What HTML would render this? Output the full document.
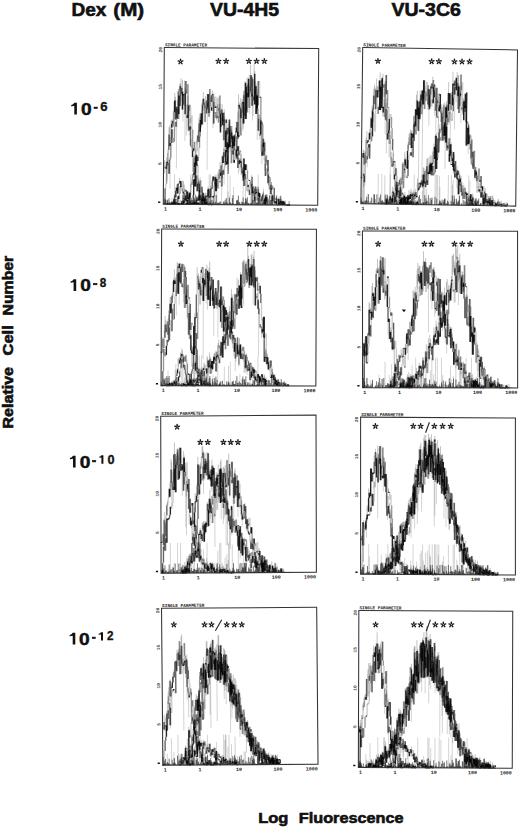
<!DOCTYPE html><html><head><meta charset="utf-8"><style>html,body{margin:0;padding:0;background:#fff;width:520px;height:828px;overflow:hidden}svg{position:absolute;left:0;top:0}</style></head><body>
<svg width="520" height="828" viewBox="0 0 520 828">
<g font-family="Liberation Sans, sans-serif" font-weight="bold" fill="#111" stroke="#111" stroke-width="0.6">
<text x="71.56" y="16.00" font-size="18.5" textLength="34.92" lengthAdjust="spacingAndGlyphs">Dex</text>
<text x="113.37" y="16.00" font-size="18.5" textLength="30.84" lengthAdjust="spacingAndGlyphs">(M)</text>
<text x="210.01" y="16.10" font-size="18.5" textLength="69.11" lengthAdjust="spacingAndGlyphs">VU-4H5</text>
<text x="391.50" y="16.10" font-size="18.5" textLength="69.41" lengthAdjust="spacingAndGlyphs">VU-3C6</text>
<path d="M74.30 102.80H76.90V114.60H74.30V105.87L71.25 106.46V105.04Q73.42 104.57 74.30 102.80Z" stroke="none"/>
<text x="81.03" y="114.60" font-size="16.5" textLength="10.66" lengthAdjust="spacingAndGlyphs" stroke-width="0.45">0</text>
<rect x="94.0" y="107.1" width="3.4" height="1.5"/>
<path d="M73.60 279.20H76.20V291.00H73.60V282.27L70.55 282.86V281.44Q72.72 280.97 73.60 279.20Z" stroke="none"/>
<text x="80.33" y="291.00" font-size="16.5" textLength="10.66" lengthAdjust="spacingAndGlyphs" stroke-width="0.45">0</text>
<rect x="93.4" y="283.3" width="3.6" height="1.5"/>
<path d="M73.00 455.70H75.60V467.50H73.00V458.77L69.95 459.36V457.94Q72.12 457.47 73.00 455.70Z" stroke="none"/>
<text x="79.73" y="467.50" font-size="16.5" textLength="10.66" lengthAdjust="spacingAndGlyphs" stroke-width="0.45">0</text>
<rect x="92.5" y="460.4" width="3.3" height="1.5"/>
<path d="M72.70 632.70H75.30V644.50H72.70V635.77L69.65 636.36V634.94Q71.82 634.47 72.70 632.70Z" stroke="none"/>
<text x="79.03" y="644.50" font-size="16.5" textLength="10.66" lengthAdjust="spacingAndGlyphs" stroke-width="0.45">0</text>
<rect x="92.2" y="637.1" width="3.2" height="1.5"/>
<text x="100.24" y="111.10" font-size="12.2" textLength="7.34" lengthAdjust="spacingAndGlyphs" stroke-width="0.3">6</text>
<text x="99.65" y="287.30" font-size="12.2" textLength="6.52" lengthAdjust="spacingAndGlyphs" stroke-width="0.3">8</text>
<path d="M101.40 455.20H103.40V463.70H101.40V457.41L99.25 457.83V456.81Q100.82 456.47 101.40 455.20Z" stroke="none"/>
<text x="107.49" y="463.90" font-size="12.2" textLength="7.03" lengthAdjust="spacingAndGlyphs" stroke-width="0.3">0</text>
<path d="M101.00 632.30H103.00V640.50H101.00V634.43L98.65 634.84V633.86Q100.30 633.53 101.00 632.30Z" stroke="none"/>
<text x="107.09" y="640.40" font-size="12.2" textLength="6.49" lengthAdjust="spacingAndGlyphs" stroke-width="0.3">2</text>
<text x="258.23" y="823.00" font-size="14.9" textLength="30.18" lengthAdjust="spacingAndGlyphs">Log</text>
<text x="298.84" y="823.00" font-size="14.5" textLength="104.78" lengthAdjust="spacingAndGlyphs">Fluorescence</text>
<g transform="translate(12.6 0) rotate(-90)">
<text x="-428.44" y="0.00" font-size="14.4" textLength="61.41" lengthAdjust="spacingAndGlyphs">Relative</text>
<text x="-355.56" y="0.00" font-size="14.4" textLength="30.30" lengthAdjust="spacingAndGlyphs">Cell</text>
<text x="-315.43" y="0.00" font-size="14.4" textLength="59.64" lengthAdjust="spacingAndGlyphs">Number</text>
</g>
</g>
<g font-family="Liberation Sans, sans-serif" fill="#222">
<path d="M180.50 60.53L180.50 59.23M181.59 61.32L182.83 60.92M181.18 62.61L181.94 63.66M179.82 62.61L179.06 63.66M179.41 61.32L178.17 60.92M218.45 60.03L218.45 58.73M219.55 60.82L220.78 60.42M219.13 62.11L219.89 63.16M217.78 62.11L217.01 63.16M217.36 60.82L216.12 60.42M226.15 60.03L226.15 58.73M227.24 60.82L228.48 60.42M226.82 62.11L227.59 63.16M225.47 62.11L224.71 63.16M225.05 60.82L223.82 60.42M248.85 60.03L248.85 58.73M249.95 60.82L251.18 60.42M249.53 62.11L250.29 63.16M248.18 62.11L247.41 63.16M247.76 60.82L246.52 60.42M256.60 60.03L256.60 58.73M257.69 60.82L258.93 60.42M257.28 62.11L258.04 63.16M255.92 62.11L255.16 63.16M255.51 60.82L254.27 60.42M264.35 60.03L264.35 58.73M265.44 60.82L266.68 60.42M265.02 62.11L265.79 63.16M263.67 62.11L262.91 63.16M263.25 60.82L262.02 60.42M377.95 59.93L377.95 58.62M379.04 60.72L380.28 60.32M378.63 62.01L379.39 63.06M377.27 62.01L376.51 63.06M376.86 60.72L375.62 60.32M431.65 60.33L431.65 59.02M432.75 61.12L433.98 60.72M432.33 62.41L433.09 63.46M430.98 62.41L430.21 63.46M430.56 61.12L429.32 60.72M438.85 60.33L438.85 59.02M439.94 61.12L441.18 60.72M439.52 62.41L440.29 63.46M438.17 62.41L437.41 63.46M437.75 61.12L436.52 60.72M454.45 60.53L454.45 59.23M455.55 61.32L456.78 60.92M455.13 62.61L455.89 63.66M453.78 62.61L453.01 63.66M453.36 61.32L452.12 60.92M462.00 60.53L462.00 59.23M463.09 61.32L464.33 60.92M462.68 62.61L463.44 63.66M461.32 62.61L460.56 63.66M460.91 61.32L459.67 60.92M469.55 60.53L469.55 59.23M470.64 61.32L471.88 60.92M470.22 62.61L470.99 63.66M468.87 62.61L468.11 63.66M468.45 61.32L467.22 60.92M180.90 242.82L180.90 241.53M181.99 243.62L183.23 243.22M181.58 244.91L182.34 245.96M180.22 244.91L179.46 245.96M179.81 243.62L178.57 243.22M219.15 242.82L219.15 241.53M220.25 243.62L221.48 243.22M219.83 244.91L220.59 245.96M218.48 244.91L217.71 245.96M218.06 243.62L216.82 243.22M226.15 242.82L226.15 241.53M227.24 243.62L228.48 243.22M226.82 244.91L227.59 245.96M225.47 244.91L224.71 245.96M225.05 243.62L223.82 243.22M249.25 242.82L249.25 241.53M250.35 243.62L251.58 243.22M249.93 244.91L250.69 245.96M248.58 244.91L247.81 245.96M248.16 243.62L246.92 243.22M256.75 242.82L256.75 241.53M257.84 243.62L259.08 243.22M257.43 244.91L258.19 245.96M256.07 244.91L255.31 245.96M255.66 243.62L254.42 243.22M264.25 242.82L264.25 241.53M265.34 243.62L266.58 243.22M264.92 244.91L265.69 245.96M263.57 244.91L262.81 245.96M263.15 243.62L261.92 243.22M378.15 242.82L378.15 241.53M379.24 243.62L380.48 243.22M378.83 244.91L379.59 245.96M377.47 244.91L376.71 245.96M377.06 243.62L375.82 243.22M424.45 242.82L424.45 241.53M425.55 243.62L426.78 243.22M425.13 244.91L425.89 245.96M423.78 244.91L423.01 245.96M423.36 243.62L422.12 243.22M431.45 242.82L431.45 241.53M432.54 243.62L433.78 243.22M432.12 244.91L432.89 245.96M430.77 244.91L430.01 245.96M430.35 243.62L429.12 243.22M454.45 242.82L454.45 241.53M455.55 243.62L456.78 243.22M455.13 244.91L455.89 245.96M453.78 244.91L453.01 245.96M453.36 243.62L452.12 243.22M462.30 242.82L462.30 241.53M463.39 243.62L464.63 243.22M462.98 244.91L463.74 245.96M461.62 244.91L460.86 245.96M461.21 243.62L459.97 243.22M470.15 242.82L470.15 241.53M471.24 243.62L472.48 243.22M470.82 244.91L471.59 245.96M469.47 244.91L468.71 245.96M469.05 243.62L467.82 243.22M177.10 425.73L177.10 424.43M178.19 426.52L179.43 426.12M177.78 427.81L178.54 428.86M176.42 427.81L175.66 428.86M176.01 426.52L174.77 426.12M200.35 441.13L200.35 439.83M201.45 441.92L202.68 441.52M201.03 443.21L201.79 444.26M199.68 443.21L198.91 444.26M199.26 441.92L198.02 441.52M207.75 441.13L207.75 439.83M208.84 441.92L210.08 441.52M208.42 443.21L209.19 444.26M207.07 443.21L206.31 444.26M206.65 441.92L205.42 441.52M223.45 441.13L223.45 439.83M224.55 441.92L225.78 441.52M224.13 443.21L224.89 444.26M222.78 443.21L222.01 444.26M222.36 441.92L221.12 441.52M230.70 441.13L230.70 439.83M231.79 441.92L233.03 441.52M231.38 443.21L232.14 444.26M230.02 443.21L229.26 444.26M229.61 441.92L228.37 441.52M237.95 441.13L237.95 439.83M239.04 441.92L240.28 441.52M238.62 443.21L239.39 444.26M237.27 443.21L236.51 444.26M236.85 441.92L235.62 441.52M375.40 425.03L375.40 423.73M376.49 425.82L377.73 425.42M376.08 427.11L376.84 428.16M374.72 427.11L373.96 428.16M374.31 425.82L373.07 425.42M413.25 425.03L413.25 423.73M414.35 425.82L415.58 425.42M413.93 427.11L414.69 428.16M412.58 427.11L411.81 428.16M412.16 425.82L410.92 425.42M420.65 425.03L420.65 423.73M421.74 425.82L422.98 425.42M421.32 427.11L422.09 428.16M419.97 427.11L419.21 428.16M419.55 425.82L418.32 425.42M434.35 425.03L434.35 423.73M435.45 425.82L436.68 425.42M435.03 427.11L435.79 428.16M433.68 427.11L432.91 428.16M433.26 425.82L432.02 425.42M442.55 425.03L442.55 423.73M443.64 425.82L444.88 425.42M443.23 427.11L443.99 428.16M441.87 427.11L441.11 428.16M441.46 425.82L440.22 425.42M450.75 425.03L450.75 423.73M451.84 425.82L453.08 425.42M451.42 427.11L452.19 428.16M450.07 427.11L449.31 428.16M449.65 425.82L448.42 425.42M173.85 623.53L173.85 622.23M174.94 624.32L176.18 623.92M174.53 625.61L175.29 626.66M173.17 625.61L172.41 626.66M172.76 624.32L171.52 623.92M204.55 623.53L204.55 622.23M205.65 624.32L206.88 623.92M205.23 625.61L205.99 626.66M203.88 625.61L203.11 626.66M203.46 624.32L202.22 623.92M211.55 623.53L211.55 622.23M212.64 624.32L213.88 623.92M212.22 625.61L212.99 626.66M210.87 625.61L210.11 626.66M210.45 624.32L209.22 623.92M226.75 623.53L226.75 622.23M227.85 624.32L229.08 623.92M227.43 625.61L228.19 626.66M226.08 625.61L225.31 626.66M225.66 624.32L224.42 623.92M234.25 623.53L234.25 622.23M235.34 624.32L236.58 623.92M234.93 625.61L235.69 626.66M233.57 625.61L232.81 626.66M233.16 624.32L231.92 623.92M241.75 623.53L241.75 622.23M242.84 624.32L244.08 623.92M242.42 625.61L243.19 626.66M241.07 625.61L240.31 626.66M240.65 624.32L239.42 623.92M375.60 623.53L375.60 622.23M376.69 624.32L377.93 623.92M376.28 625.61L377.04 626.66M374.92 625.61L374.16 626.66M374.51 624.32L373.27 623.92M413.85 623.53L413.85 622.23M414.95 624.32L416.18 623.92M414.53 625.61L415.29 626.66M413.18 625.61L412.41 626.66M412.76 624.32L411.52 623.92M420.65 623.53L420.65 622.23M421.74 624.32L422.98 623.92M421.32 625.61L422.09 626.66M419.97 625.61L419.21 626.66M419.55 624.32L418.32 623.92M435.35 623.53L435.35 622.23M436.45 624.32L437.68 623.92M436.03 625.61L436.79 626.66M434.68 625.61L433.91 626.66M434.26 624.32L433.02 623.92M443.35 623.53L443.35 622.23M444.44 624.32L445.68 623.92M444.03 625.61L444.79 626.66M442.67 625.61L441.91 626.66M442.26 624.32L441.02 623.92M451.35 623.53L451.35 622.23M452.44 624.32L453.68 623.92M452.02 625.61L452.79 626.66M450.67 625.61L449.91 626.66M450.25 624.32L449.02 623.92" stroke="#1a1a1a" stroke-width="1.45" stroke-linecap="round" fill="none"/>
<path d="M429.4 422.3L425.6 432.7" stroke="#222" stroke-width="1.1"/>
<path d="M221.7 619.7L215.4 630.8" stroke="#222" stroke-width="1.1"/>
<path d="M430.4 619.7L426.2 631.2" stroke="#222" stroke-width="1.1"/>
<path d="M401.8 309.6L405.9 309.6L404 312.2Z" fill="#111"/>
</g>
<g transform="matrix(0.9961 0.0071 -0.0064 1.0045 164.30 47.50)">
<path d="M3.1 113.9V114M3.8 114.4V132.3M4.5 101.8V113M6.6 94.9V140.6M7.3 79.8V86.1M8.7 73.2V79.3M12.2 58.9V66.3M12.9 70V120.4M14.3 66V67.6M15.7 58.2V71.6M16.4 39.5V39.7M18.5 61.5V62.2M19.2 49V73.6M21.3 66.3V93.2M22.7 67.2V87.5M24.1 57.5V78.3M25.5 81.1V87.4M26.2 78.5V78.8M30.4 118.7V118.9M31.1 114.5V114.7M34.6 134V138.9M35.3 141.1V141.4M43 156V156M43.7 155.1V156M45.1 156V156M48.6 156V156M12.2 156V156M12.9 153.9V155.8M13.6 154.8V155.2M15.7 156V156M16.4 156V156M17.1 155.4V155.7M18.5 155.1V156M19.9 154.3V155.8M22.7 152.3V152.4M27.6 136V139.2M30.4 124.3V128.4M33.2 91.6V96.1M33.9 87.4V102.4M36.7 72V80.5M40.2 57.2V65.5M40.9 59.8V62.2M43.7 61.5V121.6M46.5 55.8V58.7M47.2 59.2V59.6M48.6 53.3V58.7M49.3 76.3V79.9M50 55.7V69M52.8 70.3V72.6M60.5 70.9V102.9M62.6 82V107.6M64.7 96.1V122M66.8 93.7V103.9M71 111.4V114.4M73.1 110V111.6M75.2 115.8V125.4M75.9 111.7V112.7M76.6 114.3V122.4M81.5 125.1V127.7M85 138.4V143.9M85.7 140.9V143.2M88.5 138.6V145.4M89.2 144.4V153.6M89.9 142.4V150.4M91.3 151.8V152.8M92.7 143.4V147.2M99 147.6V149.1M101.1 151.9V154.5M101.8 151.3V152.9M103.2 152.6V152.6M30.8 153.6V155.8M31.5 156V156M36.4 154.2V155.2M37.8 156V156M38.5 154.8V155M39.9 152.6V156M40.6 146V147.5M42 151.6V151.7M44.1 147.4V147.9M46.9 146.5V149.4M49 133.1V133.4M51.1 135.4V138.6M51.8 135V138M56 121V131.7M56.7 127.2V128.3M58.8 108V108.8M60.2 103.9V109.2M60.9 108.8V136.1M62.3 113.2V117.3M63.7 93.9V99.2M66.5 96.3V100.8M70 97.6V104.1M70.7 93.8V93.9M73.5 73.7V79.8M77.7 64.3V83.1M79.8 75.1V80.9M83.3 44.6V60.9M86.1 42.9V65.4M88.9 41.6V72M89.6 48.3V67.5M93.1 47.2V50.6M93.8 60.1V91.4M95.9 87V90.9M96.6 86V86.2M97.3 72.1V75.5M98.7 107.1V115.4M99.4 90.3V105M100.8 100.4V111.7M101.5 114.5V122.4M102.9 125.1V126.9M106.4 140.4V141.6M107.1 145V149.7M111.3 148.1V148.3M114.1 156V156M114.8 156V156M117.6 151.9V156M119 155.4V156M123.9 155.9V156M124.6 156V156M2.7 155.6V156M4.8 155.7V156M11.1 149.5V149.7M13.9 145.3V145.5M16.7 132.8V135.5M18.8 142.6V144.6M19.5 144.5V145.7M21.6 151.5V154.2M23 152.2V152.2M24.4 156V156M25.8 156V156M26.5 155.4V156M28.6 156V156M30 156V156M34.2 155.9V156" stroke="#000" stroke-opacity="0.22" stroke-width="0.8" fill="none"/>
<path d="M0.3 153.2V156M4.5 155V156M8.7 149.4V156M9.3 153.1V156M11.1 126V156M16.5 144.3V156M18.9 152.7V156M20.1 132.9V156M21.3 155.3V156M24.3 152.1V156M26.1 146.3V156M26.7 145V156M27.3 126V156M29.7 154.3V156M36.9 128.7V156M38.7 148.2V156M44.7 138V156M45.9 126V156M47.1 126V156M51.3 144.6V156M51.9 126V156M53.7 126V156M58.5 135.8V156M64.5 126V156M65.1 143.1V156M66.3 147.7V156M66.9 127V156M70.5 138.4V156M80.1 126V156M82.5 126V156M84.9 155.6V156M87.3 143.6V156M88.5 126V156M92.1 148.3V156M95.1 126V156M99.9 149.4V156M100.5 139.6V156M102.3 155.4V156M107.1 152.4V156M108.3 156V156M109.5 147.3V156M111.9 155.1V156M112.5 155.6V156M113.7 154.3V156" stroke="#000" stroke-opacity="0.22" stroke-width="0.8" fill="none"/>
<path d="M0.9 155V156M1.5 150.5V156M2.1 151.7V156M3.9 151.4V156M4.5 152.1V156M5.1 155.1V156M5.7 150.1V156M6.3 153.9V156M6.9 155.2V156M7.5 154V156M8.1 153.3V156M8.7 155V156M9.9 153.5V156M10.5 150.8V156M11.1 146.4V156M11.7 154.1V156M12.9 155V156M13.5 153.6V156M14.1 154.8V156M14.7 148.9V156M15.3 155V156M15.9 154.6V156M18.3 152.6V156M18.9 152.2V156M19.5 146.4V156M20.1 149.4V156M20.7 151.7V156M21.9 154.3V156M22.5 155.2V156M23.1 154.7V156M23.7 154.6V156M24.9 153.8V156M25.5 154.8V156M26.1 146.4V156M27.3 153.4V156M27.9 151.8V156M28.5 154V156M29.1 151.7V156M29.7 150.7V156M30.3 146.6V156M30.9 155.3V156M31.5 149.9V156M32.1 146.4V156M33.3 148.2V156M33.9 149.9V156M34.5 155.2V156M35.1 153.6V156M36.3 154.8V156M37.5 153V156M38.1 152.3V156M38.7 154.2V156M39.3 151.4V156M39.9 155.1V156M40.5 147.7V156M41.1 155.2V156M41.7 153.4V156M42.9 153.1V156M43.5 153.2V156M44.7 146.9V156M45.3 154.7V156M45.9 148.1V156M46.5 154.8V156M47.1 154.1V156M47.7 147.8V156M48.9 151.5V156M49.5 154.4V156M50.1 147V156M50.7 152.9V156M51.3 155.3V156M51.9 154.6V156M52.5 153.3V156M53.1 146.4V156M53.7 155.1V156M54.3 153.8V156M54.9 154.5V156M55.5 154.2V156M56.1 154.6V156M56.7 153.2V156M57.3 153V156M57.9 155.4V156M58.5 155.2V156M59.1 155.2V156M59.7 155.3V156M60.3 153.2V156M60.9 152.7V156M61.5 154.6V156M62.1 151V156M62.7 153.9V156M63.3 149.5V156M63.9 153.4V156M64.5 155V156M65.7 154.9V156M66.3 149.2V156M66.9 153.6V156M67.5 154.1V156M68.7 154.7V156M69.3 149.5V156M69.9 146.4V156M70.5 154.7V156M72.9 155V156M73.5 151.8V156M74.1 151.1V156M74.7 151.7V156M75.3 147V156M75.9 153V156M76.5 153.8V156M77.1 155.2V156M78.3 153V156M78.9 155.4V156M79.5 153.6V156M80.1 148.8V156M80.7 153.9V156M81.3 155.4V156M81.9 153.6V156M82.5 149.5V156M83.1 152.5V156M83.7 150.3V156M84.3 148.4V156M84.9 154.1V156M85.5 154.2V156M86.1 155V156M87.3 154V156M87.9 155.4V156M88.5 154.1V156M89.1 146.4V156M89.7 150.8V156M90.3 151.4V156M91.5 148V156M92.7 147.6V156M93.3 153.7V156M93.9 153.6V156M94.5 154.1V156M95.1 149.1V156M95.7 149.2V156M96.3 146.4V156M96.9 146.4V156M97.5 154.4V156M98.1 154.9V156M98.7 154.9V156M99.3 147.4V156M99.9 154V156M100.5 151.2V156M101.1 153V156M102.3 151.3V156M102.9 146.9V156M103.5 147.7V156M104.1 154.9V156M104.7 148.4V156M105.3 150.4V156M106.5 146.4V156M107.1 155.1V156M107.7 151V156M108.3 147.2V156M108.9 151.2V156M109.5 146.4V156M110.1 154.8V156M111.3 152.4V156M113.1 152.4V156M113.7 146.4V156M115.5 152.9V156M116.1 149.9V156M116.7 154.9V156M117.3 155.1V156M117.9 146.7V156M118.5 152.4V156M119.1 154.5V156" stroke="#000" stroke-opacity="0.6" stroke-width="0.9" fill="none"/>
<path d="M1 112.2V119.1M1.7 117.8V118.9M2.4 113.9V119.7M3.1 109.5V113.9M3.8 105.1V113.5M4.5 101.3V101.8M5.2 79.3V86.6M5.9 77.4V86.6M6.6 88.9V94.9M7.3 72.9V79.8M8 71.4V75.9M8.7 72.2V73.2M9.4 62.9V73.2M10.1 53.9V64.4M10.8 45.2V52.8M11.5 49V52.8M13.6 52.2V63.2M14.3 61.1V63.2M15 45.8V47.8M15.7 36.2V47.8M16.4 35.3V39.5M17.1 30.5V39.3M18.5 32.2V43.9M19.2 46V49M19.9 43.4V44.9M20.6 32.7V44.4M21.3 40.4V45.1M22 46.4V58M22.7 57.2V58M23.4 55.9V67.2M24.1 47.9V57.5M24.8 57V57.5M25.5 70.5V81.1M26.9 69.9V78.5M27.6 91.1V97.6M28.3 98.3V99M29 101.1V102.8M29.7 106.5V108.8M30.4 110.1V118.7M31.1 114.1V114.5M31.8 113.3V114.5M32.5 124.2V127.1M33.2 126.4V127.1M33.9 132.8V135.4M34.6 127.2V134M35.3 130.4V134M36 135V141.1M36.7 143V147.9M37.4 145.1V147.1M38.1 145.9V147.5M38.8 148V149.6M39.5 148.2V149.6M40.2 150.9V151.4M40.9 148.9V150M41.6 149.1V150M42.3 150.2V154.5M43 151.3V154.5M43.7 154.9V155M44.4 154.6V155M45.8 155.4V155.4M46.5 152.7V154.7M47.2 153.3V153.9M47.9 151V154.3M48.6 154V155.4M10.8 152.1V155.4M11.5 154.3V155.4M12.2 154.2V155.4M12.9 153.4V153.9M13.6 150.5V153.7M14.3 154.3V154.8M15 155.1V155.4M16.4 154.9V155.4M17.1 151.9V155.1M17.8 154.6V154.8M18.5 152.9V154.6M19.2 154V154.9M19.9 152.3V154.3M20.6 152.2V153.5M21.3 149.2V149.4M22 147.2V147.3M22.7 146.4V147.3M23.4 151.3V152.3M24.1 149.3V150M24.8 149.3V149.7M25.5 149.4V149.7M26.2 144.8V144.8M26.9 142.9V144.8M27.6 135.2V136M28.3 133.3V135.6M29 125.8V129.5M29.7 125.1V126.5M31.1 114.8V119.8M31.8 100.2V108.1M34.6 82V87.4M35.3 69.4V75.2M36 65.4V75.2M38.1 54.8V65.1M38.8 51.1V56.4M39.5 43.9V54.5M40.2 50.7V54.5M40.9 55.5V57.2M41.6 48.2V58.9M42.3 58.9V59.3M43 57.8V58.4M43.7 55.3V58.4M44.4 54.2V55.2M45.1 46.2V55.2M45.8 45V54.4M46.5 54.4V54.4M47.2 47.6V55.8M47.9 58.7V59.2M48.6 42.7V53.3M49.3 53.2V53.3M50 45.1V55.7M50.7 48.8V55.7M51.4 57.2V58.3M52.1 48.1V58.6M53.5 57.2V67.4M54.2 56V59.7M55.6 62.6V62.8M56.3 56V66.3M57 63V65.9M57.7 60.3V61.4M58.4 55.8V61.4M59.8 68.3V73.3M60.5 61V70.9M61.2 68.6V70.9M61.9 82.1V83M62.6 79.9V82M63.3 79.6V82M64.7 90.3V96.1M65.4 75.5V81.6M66.1 73.6V81.6M66.8 93.6V93.7M67.5 80.1V83.9M68.2 81.4V83.9M69.6 101.5V101.9M70.3 99.9V104.7M71 111V111.4M71.7 103.1V104.4M72.4 100.5V104.4M75.2 108.6V115.8M75.9 109.7V111.7M76.6 109.6V111.7M77.3 110.5V112.6M78 105.4V112.6M78.7 118.2V118.8M79.4 119.7V122.1M80.1 117.9V122.1M81.5 120.1V125.1M83.6 129V129.6M84.3 132.1V136M85.7 136.7V138.4M86.4 140.5V140.9M87.1 133.6V140.1M87.8 132.3V134.9M89.2 135.6V138.6M90.6 137.6V139.8M92 140.9V145.5M92.7 140.5V143.4M93.4 142.8V142.9M94.1 138.3V140.2M94.8 138.6V140.2M95.5 137.7V143.2M96.2 143.8V146.8M96.9 145.8V146.4M97.6 146.2V146.4M98.3 149.7V150.5M99 146.6V147.6M100.4 142.4V145.3M101.1 146.4V151.3M102.5 147.5V148M104.6 153.3V153.8M30.8 148.6V153M31.5 151.2V153.6M32.2 154.4V155.2M32.9 151.3V151.9M33.6 150.8V151.6M34.3 147.6V149.1M35 148.5V149.1M35.7 146.5V146.5M36.4 144.3V146.5M37.1 145.4V150.2M37.8 149.8V150.2M38.5 149.7V154.8M39.2 140.7V144.2M39.9 143.8V144.2M40.6 144.8V146M41.3 145.9V146M42 144.7V147.9M42.7 144.2V148M43.4 146.3V147.5M44.1 146V147.2M44.8 139.6V141M45.5 139.5V140.2M46.9 145V145.5M47.6 137.2V139.4M49 131.2V133.1M50.4 127.7V128.1M51.8 127.8V134.6M52.5 134.4V135M53.2 134.3V136.9M54.6 124V131.3M55.3 125.9V130.1M56 120.6V121M56.7 113.4V121M57.4 117.4V124.3M58.1 116.5V124.3M58.8 106.5V108M60.2 99.9V103.9M60.9 100.4V103.9M61.6 98.7V101.6M62.3 98.2V101.6M63 98.4V103.8M63.7 85.2V93.9M65.1 85.2V94.1M65.8 86.3V87.6M66.5 84.7V87.6M67.2 90.4V91.2M67.9 77.6V84.5M68.6 77.8V84.5M69.3 87.2V87.8M70.7 87.1V93.8M71.4 90.4V91.1M72.1 82.5V84.2M72.8 73V79.1M74.2 63.4V73.7M74.9 46.1V56.4M75.6 54.1V56.4M76.3 56.9V59M77 50.1V60.8M78.4 50.8V54.8M79.1 52.4V53.7M79.8 42.7V53.8M80.5 42.1V46.5M81.2 32.8V34.4M82.6 37.1V38.8M83.3 29V38.8M84 37.7V44.6M85.4 26.9V30.6M86.1 41V42.9M86.8 16.7V26.7M88.2 41.3V45.8M88.9 29.8V41.6M89.6 41.1V41.6M90.3 15.2V25.5M91 22.8V25.5M91.7 32.8V37.8M92.4 35.1V37.8M93.1 45.3V47.2M93.8 41.2V47.2M95.2 66.1V70.3M95.9 66.1V70.3M96.6 84.5V85.9M97.3 68.8V72.1M98 71.8V72.1M98.7 95.3V102.7M100.1 89.3V90.3M100.8 91.3V100.4M101.5 99V100.4M102.2 109.2V114.5M102.9 123.8V125.1M103.6 119.6V119.9M104.3 116.2V119.9M105 117.9V125.4M105.7 127.2V134.4M106.4 130V137M107.1 138.3V140.4M107.8 133.2V135.9M108.5 133.2V135.9M109.2 145.6V145.9M109.9 148.4V150.6M110.6 145.7V146.7M111.3 146.1V146.7M112.7 151.6V151.9M113.4 147.7V152.7M114.1 149.6V152.7M114.8 153.7V155.4M115.5 150V151.8M116.2 147.3V151.8M117.6 147.8V151.9M118.3 149.9V151.9M119.7 151.9V152M121.1 151.5V154.7M122.5 151.3V154.5M123.9 155.1V155.3M124.6 155.2V155.3M125.3 154.5V155.4M126 152.1V155.4M126.7 152.1V155.4M2.7 154.7V155M3.4 152.3V155.1M5.5 155V155.2M6.9 155.2V155.4M7.6 154.9V155.4M8.3 154.3V155M9 152.9V154.4M9.7 154.2V154.8M10.4 150.8V151.5M11.1 148.4V149.5M11.8 148V148.8M12.5 138.8V142.6M13.2 136.2V139.6M14.6 134.5V135.8M16 129.8V134.5M16.7 132.7V132.8M17.4 132.3V132.8M18.1 134.1V138.9M18.8 139.9V140M19.5 140V142.6M20.2 143.1V144M20.9 141.3V144.8M21.6 150.3V150.5M22.3 148.2V149.1M23 148.4V149.1M23.7 151.5V151.6M24.4 151V152.3M25.8 154.6V155.4M26.5 154.8V155.1M27.2 154.7V155.1M27.9 151.1V154.6M28.6 154.3V154.6M29.3 154.7V155.4M30 153.7V155.4M30.7 151.6V154.9M31.4 154.1V154.9M32.1 154.1V154.3M32.8 153.8V154.2M33.5 152.6V154.9M34.2 154.8V155.3" stroke="#000" stroke-opacity="0.3" stroke-width="0.8" fill="none"/>
<path d="M1 119.1V124.5M4.5 101.8V114.4M7.3 79.8V94.9M9.4 73.2V78.6M17.8 40.2V43.9M19.2 49V61.5M19.9 44.9V49M20.6 44.4V45.6M22 58V66.3M22.7 58V67.2M24.1 57.5V70.1M28.3 99V102.8M30.4 118.7V123.7M34.6 134V142.8M38.8 149.6V151.6M42.3 154.5V156M43.7 155V156.2M46.5 154.7V156M47.2 153.9V155.1M0.3 155.4V156.6M1 155.1V156.3M2.4 135.6V140.1M11.5 73.8V77.7M12.9 61V78.9M15.7 38.1V41M17.1 40.2V53.3M20.6 56.8V58.4M21.3 33.2V58.4M26.9 60.1V75M27.6 67.2V75M28.3 67.2V81.4M30.4 93.7V103M31.8 102.4V124.7M34.6 116.8V132.4M35.3 132.4V135.7M38.1 138.3V144.3M39.5 148.3V150.1M40.9 152.7V156M45.8 155.4V156.6M47.2 155.2V156.4M47.9 155.4V156.6M19.9 154.3V156M24.1 150V153.5M26.9 144.8V146.9M27.6 136V146.9M28.3 135.6V136.8M32.5 104.2V108.1M33.2 91.6V104.2M36 75.2V83.5M39.5 54.5V56.4M41.6 58.9V60.1M45.8 54.4V68.7M47.2 55.8V59.2M48.6 53.3V62.7M49.3 53.3V76.3M50 55.7V76.3M50.7 55.7V58.7M52.8 59.1V70.3M54.2 59.7V67.4M56.3 66.3V84.2M59.8 73.3V91.8M61.2 70.9V83M64 99.5V100.7M67.5 83.9V93.7M71.7 104.4V111.4M75.2 115.8V119.4M82.9 129.4V130.6M83.6 129.6V142.4M84.3 136V142.4M85.7 138.4V140.9M87.1 140.1V146.3M87.8 134.9V140.1M90.6 139.8V142.4M97.6 146.4V151.9M100.4 145.3V151.9M101.1 151.3V152.5M102.5 148V151.3M104.6 153.8V156M10.8 154V155.2M11.5 153.8V155M12.9 153.5V154.7M13.6 153.9V156M14.3 155.4V156.6M16.4 155.2V156.4M17.8 155.4V156.6M19.9 155.1V156.3M22 152.3V154.6M22.7 153.9V155.1M28.3 149.5V153.7M29 149.2V150.4M31.1 130.9V132.7M31.8 132.7V137.9M32.5 118.6V137.9M35.3 99.9V108.7M38.1 62.1V68.2M40.2 50.8V54.2M40.9 54.2V73.9M42.3 52.5V58M46.5 40.9V49.1M50.7 65.4V75.2M52.8 58.7V69.8M53.5 49.6V58.7M54.2 49.6V67.2M55.6 47.5V74.6M59.8 64.2V77M61.2 77.7V83.3M61.9 74.6V83.3M63.3 71.2V86.2M67.5 77.7V91.8M68.9 89V94.2M69.6 88.6V89.8M70.3 88.2V89.4M71.7 97.5V106.6M72.4 106.5V107.7M73.8 101.1V102.3M77.3 102V113.3M78 113.3V126.4M78.7 125.4V126.6M79.4 125.6V128.8M83.6 115.8V121.7M85 129.9V131.8M85.7 131V132.2M87.1 132.2V137.4M87.8 135.8V137.4M88.5 128.1V135.8M90.6 137.5V144.4M92 137.8V140M97.6 146.6V154.7M99 148.3V151.5M99.7 143.9V148.3M100.4 143.9V149.1M101.1 148.8V150M104.6 151.7V152.9M32.2 155.2V156.4M37.8 150.2V156M40.6 146V152.6M41.3 146V147.9M47.6 139.4V146.5M51.1 131.6V135.4M58.1 124.3V130M61.6 101.6V108.8M68.6 84.5V99.7M89.6 41.6V48.3M90.3 25.5V48.3M91.7 37.8V56.1M95.9 70.3V87M101.5 100.4V114.5M102.9 125.1V127.3M103.6 119.9V125.1M107.1 140.4V145M112 148.1V151.9M114.1 152.7V156M118.3 151.9V153.6M119 153.6V155.4M121.8 154.8V156M123.9 155.3V156.5M126 155.4V156.6M31.5 155.4V156.6M32.2 155.2V156.4M33.6 153.5V154.7M34.3 154.3V156M37.1 147.3V152.5M37.8 147.3V150.4M39.9 155.4V156.6M41.3 147V156M42.7 148.3V152.2M43.4 148.3V150.6M44.1 147V150.6M44.8 140.7V147M48.3 140.1V148.4M49 147.6V148.8M53.9 130.5V133.2M55.3 133.9V140.1M57.4 117.1V133.9M58.1 117.1V138M60.9 119.6V126.3M61.6 112.7V119.6M64.4 108.8V125.5M68.6 102.1V114.8M71.4 86.3V100M72.1 91.9V100M72.8 91.9V104.3M74.9 83.3V88.6M76.3 60.4V86.6M78.4 78.3V83.2M79.1 54.9V78.3M79.8 47V54.9M80.5 47V58.7M81.9 62.2V67.5M83.3 44.2V64.2M85.4 35.2V48.8M89.6 30.9V48.1M92.4 45.4V54.6M95.9 33.8V49.4M102.2 102.5V113.7M103.6 106.8V116.5M105.7 122.5V128.1M107.8 133.7V139.5M109.9 136.9V139.7M110.6 138.7V139.9M112 149.5V154M113.4 149.4V150.7M114.8 152.4V153.6M117.6 150V156M118.3 150V151.5M123.9 155.4V156.6M125.3 155.1V156.3M2.7 155V156.2M4.8 155V156.2M11.8 148.8V150M18.1 138.9V140.1M26.5 155.1V156.3M29.3 155.4V156.6M3.4 155.4V156.6M4.1 155.4V156.6M4.8 155.4V156.6M6.9 155.1V156.3M7.6 155V156.2M13.2 151.2V152.9M13.9 152.6V153.8M16 145.5V150.7M17.4 137.4V138.6M18.8 132.6V138.1M19.5 132.6V139.6M20.2 136.3V139.6M20.9 136.3V140.5M25.1 147.1V151M26.5 152.3V155M28.6 154.9V156.1M30.7 154.2V156M32.1 155.3V156.5M32.8 155V156.2" stroke="#000" stroke-opacity="0.2" stroke-width="1.4" fill="none"/>
<path d="M0.3 123.9V125.1M5.9 86.6V98.1M10.1 64.4V78.6M12.2 58.9V71.5M14.3 63.2V66M17.1 39.3V40.5M27.6 97.6V99M29.7 108.8V123.7M33.2 127.1V135.4M45.8 155.4V156.6M47.9 154.3V156M48.6 155.4V156.6M3.1 117.3V135.6M5.2 117.4V125.6M6.6 110.2V111.6M7.3 95.1V110.2M8.7 81.4V89.9M9.4 89.9V94.4M10.1 93.3V94.5M10.8 77.7V93.4M13.6 61V71.1M15 41V43.5M19.2 46.2V47.7M22.7 42.7V45.6M23.4 36.3V42.7M24.1 36.3V69.5M24.8 62.9V69.5M25.5 56.7V62.9M26.2 56.7V60.1M29 81.4V100.2M31.1 93.7V102.4M32.5 106.6V124.7M36.7 131.9V143.8M37.4 131.9V144.3M40.2 148.3V156M41.6 149V152.7M43.7 150.6V153.4M45.1 155.4V156.6M46.5 155.2V156.4M10.8 155.4V156.6M11.5 155.4V156.6M12.9 153.9V156M13.6 153.7V154.9M16.4 155.4V156.6M17.8 154.8V156M21.3 149.4V153.8M23.4 152.3V153.5M26.2 144.8V149.8M29 129.5V136.4M29.7 126.5V129.5M31.1 119.8V124.3M33.9 87.4V91.6M40.9 57.2V59.8M42.3 59.3V65.5M44.4 55.2V61.5M45.1 55.2V68.7M46.5 54.4V55.8M54.9 59.7V62.8M55.6 62.8V66.3M59.1 64.5V73.3M63.3 82V100.1M65.4 81.6V96.1M66.8 93.7V97.3M68.9 86.6V101.9M70.3 104.7V114.2M72.4 104.4V106.3M73.8 105.1V110M82.2 125.1V130.4M92 145.5V151.8M94.1 140.2V143.6M94.8 140.2V143.2M96.9 146.4V147.7M101.8 151V152.2M103.9 152.6V153.8M12.2 153.7V154.9M18.5 155.4V156.6M19.2 155.4V156.6M24.8 151.7V153M27.6 149.3V153.7M29.7 146.6V150.2M33.2 107.9V118.6M33.9 107.9V112.8M36 88.4V99.9M36.7 79.1V88.4M37.4 68.2V79.1M38.8 57.1V62.1M41.6 58V73.9M45.8 40.9V65M49.3 46.2V54M51.4 63.8V65.4M52.1 63.8V69.8M54.9 67.2V74.6M56.3 47.5V69.7M57.7 65.2V78.4M58.4 64.4V65.6M60.5 64.2V77.7M65.4 71.1V85.1M66.8 77.7V94M68.2 91.8V94.2M75.9 103.7V106.8M76.6 102V103.7M80.1 109.9V128.8M81.5 115.6V127.6M84.3 121.7V129.9M89.2 128.1V146.7M89.9 137.5V146.7M93.4 140.1V143M94.1 140.1V151.6M94.8 140.5V151.6M95.5 140.5V148.6M98.3 151.5V154.7M103.9 145.8V151.7M36.4 146.5V154.2M37.1 150.2V154.2M42 147.9V151.6M44.1 147.2V148.4M45.5 140.2V141.4M46.9 145.5V146.7M48.3 139.2V140.4M51.8 134.6V135.8M53.2 136.9V138.1M53.9 136.1V137.3M54.6 131.3V136.4M55.3 130.1V131.3M56 121V130.2M56.7 121V127.2M58.8 108V130M60.9 103.9V108.8M63 103.8V113.2M65.1 94.1V115.8M66.5 87.6V96.3M71.4 91.1V93.8M72.1 84.2V91.1M74.9 56.4V90.4M81.2 34.4V46.5M83.3 38.8V44.6M85.4 30.6V59.5M86.1 42.9V59.5M94.5 60.1V82.2M98 72.1V102.7M99.4 90.3V107.1M104.3 119.9V125.4M105.7 134.4V137M106.4 137V140.4M108.5 135.9V145.9M115.5 151.8V156M119.7 152V155.4M123.2 155.1V156.3M36.4 152.5V156M46.9 147.1V148.7M51.1 136.8V147.8M54.6 133.2V140.1M56 132.3V133.9M56.7 132.3V133.9M59.5 121.5V122.7M62.3 112.7V116.3M63.7 108.8V112.7M65.1 98.9V125.5M67.9 96.6V114.8M77 60.4V87.1M77.7 83.2V87.1M81.2 58.7V67.5M84 36.4V64.2M84.7 35.2V36.4M86.1 41.1V48.8M86.8 38.7V41.1M87.5 28.5V38.7M91 41.9V52.2M91.7 41.9V45.4M93.1 54.6V62.7M93.8 57.1V62.7M97.3 48.3V72.2M98 72.2V73.6M99.4 75.7V94.2M102.9 106.8V113.7M107.1 128.7V133.7M109.2 136.9V140.6M112.7 149.5V150.7M114.1 149.4V152.6M116.2 149.8V152.4M120.4 152.7V156M122.5 155.4V156.6M123.2 155.4V156.6M124.6 155.3V156.5M126 155.2V156.4M126.7 155.4V156.6M5.5 155.2V156.4M6.2 155.4V156.6M8.3 155V156.2M11.1 149.5V151.5M15.3 135.1V136.3M16 134.5V135.7M18.8 140V142.6M19.5 142.6V144.5M22.3 149.1V151.5M34.2 155.3V156.5M2.7 155.4V156.6M5.5 155.4V156.6M8.3 154.5V155.9M9 153.8V155M9.7 154.4V156M14.6 147.6V153.6M16.7 138.2V145.5M18.1 137.4V138.6M21.6 140.5V143.5M22.3 141.8V143.5M23.7 143.1V148.3M27.2 152.3V156M29.3 154.1V155.3M30 154.4V156M31.4 154.2V156M33.5 154.7V155.9" stroke="#000" stroke-opacity="0.4" stroke-width="1.4" fill="none"/>
<path d="M1.7 118.9V120.1M2.4 119.7V120.9M3.1 113.9V120.9M5.2 86.6V101.8M6.6 94.9V98.1M8.7 73.2V75.9M11.5 52.8V71.5M12.9 58.9V70M13.6 63.2V70M15.7 47.8V58.2M16.4 39.5V58.2M24.8 57.5V82.7M25.5 81.1V82.7M26.9 78.5V97.6M32.5 127.1V138.1M35.3 134V141.1M37.4 147.1V148.3M38.1 147.5V151.6M39.5 149.6V152.9M44.4 155V156.2M1.7 140.1V155.4M3.8 114.8V117.3M4.5 114.8V117.4M5.9 111.6V125.6M8 81.4V95.1M12.2 73.8V78.9M14.3 43.5V71.1M16.4 38.1V53.3M17.8 40.2V46M18.5 46V47.7M19.9 46.2V56.8M22 33.2V45.6M33.9 116.3V117.5M36 135.7V143.8M38.8 138.3V150.1M42.3 149V156M43 150.6V156M44.4 153.4V156M48.6 155.4V156.6M14.3 154.8V156M15 155.4V156.6M17.1 155.1V156.3M22 147.3V149.4M24.8 149.7V150.9M34.6 87.4V93.8M35.3 75.2V93.8M38.8 56.4V76.5M40.2 54.5V57.2M43 58.4V65.5M43.7 58.4V61.5M51.4 58.3V59.5M53.5 67.4V70.3M57.7 61.4V65.9M58.4 61.4V64.5M60.5 70.9V91.8M62.6 82V98.7M64.7 96.1V100.1M69.6 101.9V104.7M73.1 106.3V110M74.5 105.1V119.4M76.6 111.7V114.3M78 112.6V118.8M78.7 118.8V124.9M79.4 122.1V124.9M80.8 132.1V137.4M81.5 125.1V137.4M86.4 140.9V146.3M88.5 134.9V138.6M91.3 139.8V151.8M95.5 143.2V147.1M99 147.6V150.5M99.7 145.3V147.6M15 154.8V156M17.1 155.2V156.4M20.6 152.9V155.3M21.3 152V153.2M23.4 154.5V155.9M25.5 149.4V153M26.9 144.3V149.3M34.6 108.7V112.8M39.5 50.8V57.1M43 52.5V59.4M43.7 46.1V59.4M45.1 59.2V65M47.2 49.1V54M47.9 47.1V54M48.6 46V47.2M50 54V75.2M57 69.7V78.4M64 79.5V86.2M64.7 79.5V85.1M66.1 71.1V94M75.2 97.8V106.8M82.9 115.8V121.3M91.3 140V144.4M92.7 137.8V143M96.9 144.2V146.6M102.5 146.4V155.8M103.2 145.5V146.7M30.8 153V154.2M32.9 151.9V155.6M33.6 151.6V152.8M34.3 149.1V152.4M35 149.1V152.4M39.2 144.2V154.8M42.7 148V151.6M43.4 147.5V148.7M46.2 140.7V145.7M49 133.1V140.3M52.5 135V137.9M60.2 103.9V114.5M67.2 91.2V96.3M70 87.8V97.6M73.5 73.7V79.1M74.2 73.7V90.4M77 60.8V69.8M77.7 64.3V69.8M78.4 54.8V64.3M80.5 46.5V75.1M84 44.6V49M86.8 26.7V42.9M87.5 26.7V45.8M88.9 41.6V48.1M93.1 47.2V65.6M95.2 70.3V82.2M96.6 85.9V87.1M100.1 90.3V106.8M100.8 100.4V106.8M102.2 114.5V127.3M107.8 135.9V145M109.2 145.9V152.3M109.9 150.6V152.3M110.6 146.7V150.6M111.3 146.7V148.1M112.7 151.9V154.4M114.8 155.4V156.6M116.2 151.8V155.7M122.5 154.5V155.7M124.6 155.3V156.5M30.8 155.4V156.6M32.9 153.9V155.6M35.7 154.2V156M39.2 153.1V156M40.6 155.4V156.6M42 147V152.2M45.5 140.7V149.3M46.2 147.1V149.3M47.6 140.1V148.7M49.7 147.7V148.9M51.8 128.9V136.8M58.8 122.7V138M60.2 121.5V126.3M66.5 95.1V98.9M67.2 96.6V98.9M69.3 102.1V106.1M70 102.1V106.1M70.7 86.3V102.1M73.5 87.9V104.3M75.6 86.6V88.6M82.6 44.2V62.2M88.2 28.5V57.3M88.9 30.9V57.3M90.3 48.1V52.2M94.5 32.9V57.1M95.2 32.8V34M96.6 48.3V49.5M98.7 73.6V75.7M100.8 93.7V98.4M101.5 93.7V102.5M104.3 111.2V116.5M105 111.2V122.5M106.4 127.8V129M111.3 138.9V154M115.5 149.8V153.5M116.9 152.4V156M119 151.5V156M121.8 152.7V156M3.4 155.1V156.3M6.9 155.4V156.6M10.4 151.5V156M13.9 139.6V145.3M20.9 144.8V150.7M23 149.1V152.2M25.1 155.4V156.6M27.2 155.1V156.3M27.9 154.6V156M28.6 154.6V156M30.7 154.9V156.1M32.1 154.3V156M32.8 154.2V155.4M6.2 155.4V156.6M10.4 154.3V156M12.5 150.6V151.8M23 141.8V148.3M25.8 147.1V155M27.9 155.4V156.6" stroke="#000" stroke-opacity="0.6" stroke-width="1.4" fill="none"/>
<path d="M3.8 113.5V114.7M8 75.9V79.8M10.8 52.8V64.4M15 47.8V66M18.5 43.9V61.5M21.3 45.1V66.3M23.4 67.2V70.1M26.2 78.5V81.1M29 102.8V108.8M31.1 114.5V118.7M31.8 114.5V138.1M33.9 135.4V142.8M36 141.1V151.8M36.7 147.9V151.8M40.2 151.4V152.9M40.9 150V151.4M41.6 150V156M43 154.5V156M45.1 155.4V156.6M29.7 100.2V103M33.2 106.6V117M12.2 155.4V156.6M15.7 155.4V156.6M18.5 154.6V155.8M19.2 154.9V156.1M20.6 153.5V154.7M22.7 147.3V152.3M25.5 149.7V150.9M30.4 124.3V126.5M31.8 108.1V119.8M36.7 72V83.5M37.4 65.1V72M38.1 65.1V76.5M47.9 59.2V62.7M52.1 58.6V59.8M57 65.9V84.2M61.9 83V98.7M66.1 81.6V97.3M68.2 83.9V86.6M71 111.4V114.2M75.9 111.7V115.8M77.3 112.6V114.3M80.1 122.1V132.1M85 136V138.4M89.2 138.6V144.4M89.9 142.4V144.4M92.7 143.4V145.5M93.4 142.9V144.1M96.2 146.8V148M98.3 150.5V151.9M103.2 148V152.6M15.7 154.8V156M24.1 151.7V155.9M26.2 144.3V149.4M30.4 130.9V146.6M44.4 46.1V59.2M59.1 64.7V77M62.6 71.2V74.6M71 88.2V97.5M73.1 101.2V107.7M74.5 97.8V102.3M80.8 109.9V127.6M82.2 115.6V121.3M86.4 131.2V132.4M96.2 144.2V148.6M101.8 149.7V155.8M31.5 153.6V156M35.7 146.5V152.4M38.5 154.8V156M39.9 144.2V152.6M44.8 141V147.4M49.7 128.1V133.1M50.4 128.1V131.6M57.4 124.3V127.2M59.5 108V114.5M62.3 101.6V113.2M63.7 93.9V103.8M64.4 93.9V115.8M65.8 87.6V94.1M67.9 84.5V91.2M69.3 87.8V99.7M70.7 93.8V97.6M72.8 79.1V84.2M75.6 56.4V59M76.3 59V60.8M79.1 53.7V54.9M79.8 53.8V75.1M81.9 34.4V70.7M82.6 38.8V70.7M84.7 30.6V49M88.2 45.8V48.1M91 25.5V56.1M92.4 37.8V65.6M93.8 47.2V60.1M97.3 72.1V86M98.7 102.7V107.1M105 125.4V134.4M113.4 152.7V154.4M116.9 153.7V155.7M117.6 151.9V153.7M120.4 152V154.7M121.1 154.7V156M125.3 155.4V156.6M126.7 155.4V156.6M35 154.2V156M38.5 150.4V153.1M50.4 147.5V148.7M52.5 128.9V142.7M53.2 130.5V142.7M63 112.7V116.3M65.8 95.1V98.9M74.2 83.3V87.9M100.1 94.2V98.4M108.5 139.4V140.6M119.7 152.7V156M121.1 152.7V156M4.1 155V156.2M7.6 155.4V156.6M9 154.4V155.6M9.7 154.8V156M12.5 142.6V149.3M13.2 139.6V142.6M14.6 135.8V145.3M16.7 132.8V134.6M17.4 132.8V139M20.2 144V145.2M21.6 150.5V151.7M23.7 151.6V152.8M24.4 152.3V156M25.8 155.4V156.6M30 155.4V156.6M31.4 154.9V156.1M33.5 154.9V156.1M11.1 154.3V156M11.8 151.2V156M15.3 147.6V150.7M24.4 143.1V151M34.2 155V156.2" stroke="#000" stroke-opacity="0.85" stroke-width="1.4" fill="none"/>
<path d="M0 0H155.0V156.0H0Z" stroke="#333" stroke-width="1.05" fill="none"/>
<text x="0.6" y="-1.2" font-family="Liberation Mono, monospace" font-weight="bold" font-size="4.6" fill="#222" textLength="42.3" lengthAdjust="spacingAndGlyphs">SINGLE PARAMETER</text>
<text x="2.3" y="162.2" font-family="Liberation Mono, monospace" font-weight="bold" font-size="5" fill="#222" text-anchor="middle">1</text>
<text x="37.0" y="162.2" font-family="Liberation Mono, monospace" font-weight="bold" font-size="5" fill="#222" text-anchor="middle">1</text>
<text x="76.0" y="162.2" font-family="Liberation Mono, monospace" font-weight="bold" font-size="5" fill="#222" text-anchor="middle">10</text>
<text x="115.0" y="162.2" font-family="Liberation Mono, monospace" font-weight="bold" font-size="5" fill="#222" text-anchor="middle">100</text>
<text x="148.6" y="162.2" font-family="Liberation Mono, monospace" font-weight="bold" font-size="5" fill="#222" text-anchor="middle">1000</text>
<text transform="translate(-2.2 2.3) rotate(-90)" font-family="Liberation Mono, monospace" font-weight="bold" font-size="4.6" fill="#444" text-anchor="middle">20</text>
<text transform="translate(-2.2 39.0) rotate(-90)" font-family="Liberation Mono, monospace" font-weight="bold" font-size="4.6" fill="#444" text-anchor="middle">15</text>
<text transform="translate(-2.2 77.0) rotate(-90)" font-family="Liberation Mono, monospace" font-weight="bold" font-size="4.6" fill="#444" text-anchor="middle">10</text>
<text transform="translate(-2.2 115.5) rotate(-90)" font-family="Liberation Mono, monospace" font-weight="bold" font-size="4.6" fill="#444" text-anchor="middle">5</text>
<rect x="-5.2" y="153.4" width="2.2" height="1.4" fill="#111"/>
</g>
<g transform="matrix(0.9987 0.0155 -0.0115 1.0013 362.70 47.55)">
<path d="M0.3 129.6V132.9M1 110.1V110.2M1.7 105.2V106.8M2.4 117.1V139.5M3.1 107.3V116.8M3.8 108.5V137.8M5.2 95V96.3M5.9 93.9V119.5M9.4 79.9V87M10.8 62V75.1M15 49.6V52M19.2 60V60.7M19.9 30V55.2M20.6 64.6V68.3M23.4 71.7V86.4M24.8 73.2V105.1M26.2 85.1V88.1M27.6 95.9V109M29 108.4V150.8M29.7 110.5V113.7M30.4 118.3V118.8M31.8 112.9V113.1M33.9 139.2V147.7M34.6 142.6V148.3M35.3 133.6V144.1M36.7 149.5V152.4M38.1 150.1V150.6M40.9 150V156M42.3 155.4V156M44.4 156V156M46.5 151.6V152.5M47.9 156V156M48.6 152.6V153.2M50 154.3V155.5M54.2 156V156M56.3 156V156M26.5 156V156M30.7 152.5V152.8M32.8 148.3V150.1M34.9 141.9V142.7M37 137.4V138.4M39.1 130.3V131.2M41.2 115.3V135M43.3 111V115.1M44 117V118.3M46.1 102.6V118.6M46.8 95.4V100M51 89.2V95.5M51.7 77.4V80.2M53.8 78.1V83.3M57.3 70.8V131.9M58 53V57.6M60.8 50V127.5M64.3 47.4V47.9M67.1 60V77.1M69.2 39.9V51.6M69.9 34.9V39.4M70.6 31.4V43.5M72.7 61.1V66.8M74.1 57.9V82.9M75.5 54.2V54.3M77.6 56.5V58.7M79.7 67.4V69.6M80.4 79.1V86.8M82.5 79.9V83M84.6 77.5V89.5M95.8 129.6V139.1M96.5 129.5V131.1M97.2 144.9V145.2M97.9 130.3V132.9M99.3 133V134.2M101.4 142.5V143.2M102.1 149.5V149.8M104.9 143.5V144.6M109.1 152.9V153.8M111.9 148.7V150M113.3 152.6V156M114.7 156V156M116.1 155.4V156M116.8 154.9V156M38.2 152.1V152.1M39.6 154.6V154.6M41.7 155.5V155.9M43.8 151.7V152M45.2 150.7V153.9M45.9 152.9V154.6M46.6 151.5V154.4M47.3 146.7V146.9M50.8 147.3V147.7M51.5 145.8V156M53.6 146.9V147.7M54.3 143.7V149.1M57.1 141.3V142M59.9 135.4V136.5M62.7 134.6V137.1M66.9 125.5V125.5M69 114.7V119.2M71.8 102.8V117.9M72.5 97.9V99.9M73.9 87V88.8M74.6 103.6V109.8M76 108.8V119.7M77.4 89.4V103.6M78.1 92.2V94.3M80.2 65.4V79.7M81.6 56.8V69.6M82.3 73.7V84.7M83.7 58.4V119.8M85.1 65.5V99.7M87.2 44.2V75.8M88.6 61.3V92M89.3 45.4V60.2M92.8 38.4V80.2M93.5 38.3V39.3M94.2 47.5V53.3M95.6 46.7V48.1M97.7 46.1V59.1M98.4 44.5V47.1M99.1 60.2V74.1M101.2 52V57.2M104.7 96.1V97.3M106.1 78.7V80.8M106.8 94.8V104.8M107.5 86.3V89.8M109.6 109.3V114.2M113.1 120.6V122.3M113.8 128.2V130.7M115.9 143V143.5M119.4 143.5V144.1M121.5 144.9V147.8M123.6 153.8V156M125 152.5V156M127.1 153V153.8M129.2 152.8V152.9M132.7 153V154.8M133.4 152.5V155.9M134.1 156V156M134.8 153.2V154M136.2 156V156M136.9 151.9V153.2M137.6 154.4V154.6M139 155.7V155.8M139.7 154.6V155.1M140.4 154.3V154.8M146 153.8V153.9M146.7 155V156" stroke="#000" stroke-opacity="0.22" stroke-width="0.8" fill="none"/>
<path d="M1.5 154.5V156M2.7 126V156M3.3 126V156M6.3 145.7V156M7.5 153.1V156M11.7 150.4V156M17.1 126V156M18.9 151.1V156M19.5 153.2V156M20.7 126V156M23.7 127.2V156M24.3 148.3V156M26.7 146.8V156M29.1 126V156M31.5 152.9V156M32.1 142.7V156M33.9 144.6V156M34.5 144.3V156M35.7 151.3V156M36.9 150.9V156M37.5 134V156M38.7 143.3V156M40.5 148.3V156M41.1 154.3V156M43.5 153.5V156M45.3 151.3V156M50.1 154.4V156M50.7 143.1V156M53.1 126V156M56.1 143.3V156M61.5 141.9V156M62.1 126V156M62.7 138.1V156M63.9 126V156M65.7 139.9V156M71.1 148.3V156M74.1 126V156M75.3 126V156M76.5 126V156M78.3 126.9V156M78.9 138.1V156M80.1 152.3V156M87.3 126V156M90.3 126V156M91.5 135.7V156M92.1 130.6V156M98.1 145.9V156M101.7 133V156M104.7 152.7V156M105.9 142V156M107.7 126V156M108.3 145.7V156M108.9 131.2V156M113.1 154.1V156M114.9 149.5V156M119.1 154.9V156M120.3 151.5V156M122.7 151.4V156" stroke="#000" stroke-opacity="0.22" stroke-width="0.8" fill="none"/>
<path d="M0.3 150.1V156M0.9 153.1V156M1.5 154.1V156M2.7 154.2V156M3.3 152.9V156M4.5 153.2V156M5.1 152.1V156M5.7 148.9V156M6.3 152.9V156M7.5 146.4V156M8.1 155V156M9.3 153.2V156M10.5 149.6V156M11.1 155.3V156M12.3 155.1V156M12.9 146.4V156M13.5 146.4V156M14.1 151.2V156M14.7 155.1V156M15.9 146.4V156M17.1 154.5V156M17.7 154.2V156M18.3 149.4V156M19.5 146.4V156M20.1 154.9V156M20.7 153V156M21.3 151.9V156M21.9 153.1V156M22.5 154.3V156M23.1 153.8V156M23.7 155V156M24.3 146.4V156M24.9 150.4V156M25.5 152.4V156M26.1 146.4V156M27.9 153.9V156M29.1 153.1V156M29.7 147.6V156M30.3 150.1V156M30.9 151.3V156M31.5 147V156M32.7 150.5V156M33.3 152.8V156M33.9 147.1V156M35.1 146.4V156M35.7 151.6V156M36.3 154.6V156M36.9 152.9V156M38.1 152.7V156M38.7 153.9V156M39.3 153.4V156M39.9 151.4V156M40.5 149.3V156M41.1 154.7V156M41.7 152.9V156M42.3 155.3V156M42.9 152.1V156M43.5 154.2V156M45.3 153.4V156M45.9 154.9V156M46.5 146.4V156M47.1 148.8V156M47.7 149V156M48.3 154.7V156M48.9 154.5V156M49.5 151.2V156M50.1 152V156M50.7 150.6V156M51.3 154.1V156M52.5 151.9V156M53.1 153.7V156M54.3 151.7V156M56.1 152.9V156M56.7 151.9V156M57.3 154.2V156M57.9 148.3V156M58.5 146.4V156M59.1 155.3V156M59.7 150.3V156M60.3 154.5V156M60.9 154.6V156M62.1 153.6V156M62.7 153.8V156M63.3 154.5V156M63.9 146.4V156M64.5 153.2V156M65.1 149.5V156M65.7 152.6V156M66.3 152V156M67.5 146.4V156M68.1 153.4V156M68.7 155.3V156M69.3 149.2V156M69.9 155V156M70.5 151.2V156M71.1 149V156M73.5 155.1V156M74.1 148V156M75.9 149.7V156M77.1 155V156M77.7 155.2V156M78.3 154V156M78.9 151.4V156M79.5 152.4V156M80.1 154.2V156M80.7 153.9V156M81.3 150.6V156M82.5 152.7V156M83.1 150.8V156M83.7 149.6V156M84.3 149.6V156M84.9 154.4V156M86.1 153.7V156M86.7 151.6V156M87.3 155.1V156M87.9 152.7V156M90.3 151.7V156M90.9 154.5V156M91.5 146.4V156M92.7 152.6V156M93.3 146.4V156M93.9 149.7V156M94.5 154.6V156M95.7 149.5V156M96.3 152.1V156M96.9 154V156M97.5 152.4V156M98.1 151V156M98.7 146.4V156M100.5 154V156M101.1 154.6V156M102.9 150.8V156M104.1 152V156M106.5 153.3V156M107.1 152.4V156M107.7 154.9V156M108.3 154.6V156M108.9 146.7V156M109.5 153.2V156M110.1 151.7V156M110.7 155V156M111.9 147.7V156M112.5 154.3V156M113.1 154.4V156M113.7 155.2V156M114.9 151V156M115.5 154.3V156M116.1 153V156M117.3 151.2V156M117.9 149V156M119.1 154.8V156M119.7 153.4V156M120.3 153.8V156M121.5 154.6V156M122.1 154.3V156M122.7 153.5V156M123.3 152.4V156M123.9 153.5V156M124.5 154.2V156M125.7 149.3V156M126.9 149.4V156M128.1 146.4V156M128.7 150.4V156M129.3 152.1V156M129.9 146.4V156M130.5 154.8V156M131.1 151V156M131.7 155.4V156M134.7 154.2V156M135.3 152.9V156M135.9 153.7V156" stroke="#000" stroke-opacity="0.6" stroke-width="0.9" fill="none"/>
<path d="M0.3 124.9V129M1 106.7V110.1M1.7 102V105.2M2.4 102.4V105.2M3.1 104.9V107.3M3.8 103.7V107.3M4.5 89.9V92.2M5.2 83.3V92.2M5.9 92V93.9M8 81.3V85M8.7 69.3V70.7M9.4 69.4V70.7M10.1 58.5V62.6M10.8 57.6V61.7M11.5 41.1V47.7M12.2 36.7V47.7M12.9 39.5V42.3M13.6 40.6V42.3M14.3 30.7V42.1M15 38.6V42.1M15.7 38.4V43.3M17.8 24.7V32.6M18.5 37.4V38.9M19.2 31.5V38.9M19.9 28.7V30M20.6 26V30M21.3 58.6V58.7M22 50.9V58.7M22.7 32.9V35.9M23.4 33.2V35.9M24.1 55V61M24.8 49.9V61M25.5 62.3V73.2M26.9 74.2V82.1M27.6 81V82.1M28.3 87.1V92.1M29 82.6V92.1M29.7 103.8V108.4M30.4 110V110.5M31.1 115.5V117.3M31.8 104.7V112.9M33.2 125.4V126.2M33.9 127.7V131.2M34.6 135.9V139.2M35.3 132.9V133.6M36 127.6V133.6M37.4 142V147.4M38.1 141.6V147.4M38.8 141.6V143.1M40.2 147.9V150.3M42.3 155V155.1M43 152.5V152.7M43.7 146.9V149.9M44.4 148.6V149.9M45.1 153.3V155.4M46.5 151.4V151.6M47.2 150.6V151.6M47.9 153V155.4M48.6 150V152.6M49.3 151.7V152.6M50 153.2V154.3M50.7 153.7V154.3M51.4 152.9V155.4M52.1 153.8V155.4M52.8 153.8V153.8M53.5 149.9V153.2M54.2 153.5V153.8M54.9 154.1V155.4M55.6 152.9V153.4M56.3 152.9V153.4M57 155.1V155.4M25.1 154.8V155.4M25.8 149.5V151.1M26.5 147.6V151.1M27.2 154.4V154.5M27.9 151.9V152M28.6 148.3V148.3M29.3 148.2V148.3M30 149.9V151.2M31.4 138.5V143.5M32.1 143.4V143.4M32.8 139.3V144.6M34.2 147.8V149.3M34.9 136.7V141.9M35.6 136.1V141.9M37 134.3V136.4M37.7 133.5V135.8M39.1 129.8V130.3M39.8 128.6V130.3M40.5 130.4V130.8M41.2 114.1V115.3M41.9 113.6V115.3M42.6 124.2V124.5M43.3 103.2V111M44 109V111M44.7 114V117M45.4 110.7V119M46.1 96.9V102.6M46.8 93.5V95.4M47.5 85.2V88.8M48.2 84V88.8M48.9 81.2V84.5M49.6 82.5V84.5M50.3 82V85.1M51.7 67.6V77.4M52.4 66.9V67.9M53.8 60.8V60.8M54.5 46.2V51.9M55.2 42.1V51.9M55.9 65.3V66.8M56.6 57.1V59M57.3 50.9V59M58 41.9V53M58.7 47.4V48M59.4 43.1V48M60.1 41.6V42M60.8 41.5V42M61.5 40V45.2M62.2 40.3V45.2M62.9 37.1V42.9M64.3 44.4V47.4M65 42.7V43.1M66.4 36.5V39.8M67.1 59.8V59.8M67.8 41V46.1M68.5 36.2V37.9M69.2 34.4V37.9M70.6 28V31.4M72 39.9V41.5M72.7 43.7V48.6M73.4 58.5V60.7M74.1 56V57.9M74.8 50.1V51.7M76.2 53.4V54.2M76.9 47.5V58.6M77.6 52.8V56.5M78.3 56V56.5M79 62.4V63.1M79.7 55.4V64.6M80.4 62.4V67.4M81.8 73.3V75.8M82.5 73.4V75.8M84.6 77.5V77.5M85.3 75.5V77.5M86 97.4V99.8M86.7 89V98.4M87.4 92.7V98.4M88.1 95.9V105M89.5 92.8V95.2M90.2 102.7V104M90.9 102V109M91.6 111.9V111.9M93 106.3V114.3M93.7 118.9V124.4M94.4 122.2V127M95.1 120V124M95.8 116.9V124M96.5 124.9V129M97.2 122.4V129.5M97.9 129V130.3M98.6 124.3V129.2M100 126.8V133M100.7 139.5V142.9M101.4 142.4V142.5M102.1 139.4V142.5M102.8 138.7V142.8M103.5 142.7V142.8M104.2 143.1V144M104.9 141.6V143.2M105.6 143.3V143.5M106.3 144.4V149.1M107 146.9V149.1M107.7 148.1V153.2M109.1 151.5V152.8M109.8 147.6V149.3M110.5 149.2V149.3M111.2 145.5V150.2M111.9 144V148.7M112.6 146.9V148.7M113.3 151.2V151.8M114 150.2V152.6M114.7 152.6V154.3M115.4 152.7V153.3M116.1 152.9V153.3M116.8 150.4V154.6M38.2 148.9V151.5M38.9 148.7V151.8M39.6 151.9V152.7M40.3 152.9V153.7M41 148.5V149.1M41.7 148.9V149.1M43.8 143.8V148.4M45.2 148.2V150.7M45.9 150.5V150.7M47.3 146.7V146.7M48 141.6V146.7M48.7 147.5V148.3M49.4 143.1V145.4M50.1 140.1V145.4M50.8 146.1V146.4M51.5 144V145.8M52.2 142.3V144.9M52.9 143.9V145.2M53.6 146V146.4M54.3 140.6V143.7M55 143.2V143.7M55.7 146.1V147.4M56.4 129.9V134.3M57.1 131.9V134.3M57.8 138.5V139.1M58.5 137.9V138.3M59.2 136.2V136.6M59.9 131.9V135.4M60.6 127.1V133.9M62 118.9V125.9M62.7 118.8V125.9M64.1 120.2V122.2M65.5 109.9V117.5M66.2 109.8V117.5M66.9 120.9V123.6M67.6 108.3V116.3M68.3 113.6V116.3M69 106.5V114.7M69.7 112.8V114.7M70.4 106.5V114.9M71.1 113.1V114.1M71.8 98.8V102.8M72.5 95.1V97.9M73.2 97.8V97.9M73.9 85V87M74.6 83.7V87M75.3 95.4V103.6M76 101.7V108.8M76.7 67.6V77.1M77.4 75.8V77.1M78.1 79.6V89.4M78.8 88.1V90.7M79.5 87.8V90.6M80.2 64.2V65.4M80.9 64.3V65.4M81.6 55.2V56.8M82.3 53.7V56.8M84.4 52.1V58.4M85.1 57.1V65.5M85.8 43.9V44.1M86.5 33.1V44.1M88.6 53.5V54.9M89.3 43.2V45.4M90 43V45.4M90.7 22.9V34.4M92.1 33V36.3M92.8 38V38.4M93.5 37.6V37.7M94.2 34.3V38.3M94.9 23.1V33.8M95.6 26.3V33.8M96.3 25.8V37.5M97 35.8V37.5M97.7 37.8V46.1M98.4 42.6V44.5M99.1 36.4V44.5M100.5 53.2V58.4M101.2 49.2V52M101.9 49.7V52M102.6 51.8V62.9M103.3 51.3V56.2M104 48.8V56.2M104.7 66V72.7M105.4 77.9V83.2M106.1 77.2V78.7M106.8 77.4V78.7M107.5 76.5V86.3M108.9 92.4V94.6M110.3 108.4V109.3M111 113.6V114.8M111.7 115.8V116M112.4 109V116.4M113.1 115.8V117M114.5 127.2V127.6M115.2 120.6V127.8M115.9 122.9V128.6M117.3 136.5V139.7M118 139.2V140M118.7 133.3V140M119.4 139.6V142.1M120.1 137.1V143.5M120.8 140.7V141.8M121.5 137.6V141.8M122.2 143.1V144.9M122.9 147.2V148.3M123.6 146.6V148.3M124.3 138.4V143.9M125 143.3V143.9M125.7 151.5V152M126.4 151.4V151.6M127.8 149.3V152.4M129.2 148.3V148.3M129.9 149.7V151.3M131.3 146.4V150.8M132 145.7V150.1M132.7 148.6V150.1M133.4 152V152.1M134.1 149.9V152.5M134.8 151.9V153.2M135.5 153V153.2M136.2 154.2V154.3M136.9 150.7V151.9M137.6 149V151.9M138.3 153.9V154.4M139 153.6V155.2M139.7 153.8V154.5M140.4 150.6V153.8M141.1 152.8V154.1M141.8 153.8V154M142.5 153.1V153.4M143.2 153.5V153.8M143.9 152.5V155.4M144.6 154V155.4M145.3 153.9V155.3M146 152V153.8M146.7 153.3V153.8" stroke="#000" stroke-opacity="0.3" stroke-width="0.8" fill="none"/>
<path d="M1 110.1V129.6M3.8 107.3V108.5M8.7 70.7V91.4M12.9 42.3V56.4M14.3 42.1V61.2M20.6 30V64.6M22 58.7V68.9M29 92.1V108.4M32.5 112.9V126.2M36.7 148.6V149.8M40.9 149.6V150.8M45.8 152.7V156M46.5 151.6V152.8M47.2 151.6V156M52.1 155.4V156.6M52.8 153.8V156M53.5 153.2V154.4M54.9 155.4V156.6M57 155.4V156.6M0.3 152.9V154.1M1 153.5V155.3M1.7 125.9V155.3M3.8 108.5V134.4M5.2 111.6V115.4M8.7 83.1V110.8M9.4 83.1V93.4M11.5 63.5V66.2M12.2 66.2V74.2M12.9 74.2V83.7M13.6 59.8V83.7M14.3 52.1V59.8M15 52.1V55.9M15.7 55.9V66.1M18.5 35.6V43.9M20.6 39.9V51.4M22 36.3V49M22.7 46.1V49M23.4 27V46.1M24.8 42V46.3M26.9 59.2V82.2M28.3 65.9V70.7M29 65.9V68.8M31.8 102V112.4M32.5 112.4V113.9M33.9 112.9V127.4M35.3 120V136.3M36 136.3V143.9M37.4 142.6V148.5M38.1 148.1V149.3M38.8 139V149M40.2 146.2V147.4M44.4 151.3V153.2M46.5 155.4V156.6M47.2 154.9V156.1M47.9 153.4V155M48.6 153.4V156M50.7 152.3V153.5M53.5 155.4V156.6M26.5 151.1V156M30.7 151.4V152.6M34.2 149.3V152.9M34.9 141.9V149.3M48.9 84.5V96.6M51.7 77.4V89.2M53.1 60.8V67.9M54.5 51.9V78.1M58.7 48V53M59.4 48V51.7M62.2 45.2V60.4M64.3 47.4V52.4M65 43.1V47.4M65.7 39.8V43.1M70.6 31.4V34.9M72.7 48.6V61.1M74.8 51.7V57.9M76.2 54.2V58.6M87.4 98.4V112.7M106.3 149.1V156M107.7 153.2V156M115.4 153.3V156M116.1 153.3V155.4M116.8 154.6V155.8M25.1 155.4V156.6M25.8 155.4V156.6M27.2 150.5V152M29.3 151V156M30 150V156M30.7 150V154M32.8 149.6V152.1M33.5 149.1V152.1M37 139.1V142.3M38.4 143.7V147.4M39.8 135.2V147.6M41.2 132.6V141.3M41.9 132.6V139.8M44 121V129.3M44.7 126.8V129.3M45.4 126.8V129.7M47.5 107.2V111.6M48.2 106.1V107.3M48.9 103.8V106.2M50.3 96.4V107.4M51 96.4V108.8M53.8 73.2V86.1M57.3 68.5V82.5M63.6 49.1V50.3M64.3 33.4V50.2M65 33.4V36.7M68.5 51.1V57.3M69.2 56.9V58.1M69.9 50.8V57.8M73.4 48.5V59.4M76.2 44.4V69M76.9 44.4V46.9M79 60.2V73.4M80.4 58.6V67.5M81.1 58.6V74.6M81.8 74.6V76.3M85.3 78V96.4M87.4 89.3V96.4M89.5 100.9V115.8M90.9 104.1V115M91.6 102.9V104.1M93.7 111.8V120.9M95.8 121.1V126M97.9 121.8V125.9M102.1 135.7V144.5M102.8 135.7V150M103.5 138.5V150M107 143.6V145.6M107.7 143.6V150.9M111.2 148.3V155.2M112.6 153.6V155.1M114 152.5V153.7M39.6 152.7V154.6M43.8 148.4V151.7M45.9 150.7V152.9M46.6 151.5V152.9M52.9 145.2V147.1M56.4 134.3V148.4M67.6 116.3V125.5M72.5 97.9V102.8M75.3 103.6V111.1M76.7 77.1V108.8M77.4 77.1V89.4M78.8 90.7V92.2M79.5 90.6V91.8M80.2 65.4V91.7M80.9 65.4V77.1M81.6 56.8V77.1M85.8 44.1V65.5M87.2 44.2V61.7M94.2 38.3V47.5M94.9 33.8V47.5M99.1 44.5V60.2M100.5 58.4V62.3M102.6 62.9V71.1M108.2 86.3V94.6M111.7 116V117.2M114.5 127.6V128.8M115.9 128.6V143M116.6 139.7V143M117.3 139.7V141.6M125.7 152V153.2M129.2 148.3V152.8M130.6 150.5V151.7M132.7 150.1V153M135.5 153.2V154.4M139 155.2V156.4M146 153.8V155.8M38.2 154V155.2M41 152.4V153.7M41.7 150V152.4M43.8 148.5V149.7M48.7 149.7V150.9M50.8 145.3V147.7M52.9 145.1V146.8M55 147.6V148.8M56.4 142.7V148M61.3 131.3V139.5M62 132.3V139.5M71.1 117.1V122.5M72.5 125.5V126.7M78.8 80V84M79.5 74.4V84M85.8 68.7V76.2M88.6 63.8V65M89.3 64.4V71M90.7 62.1V71.3M92.1 31.4V48.8M93.5 28.6V37M94.9 41.1V46.6M95.6 46.6V60M97.7 47.3V63.8M99.8 33.2V41M100.5 33.2V52.1M101.9 57.5V65.3M102.6 57.5V59.1M104 43.2V44.5M107.5 81.3V94M108.9 85.1V86.5M109.6 86.5V90.2M111 102.3V108M112.4 101.3V119.2M113.8 117.5V120M116.6 131.7V138.4M117.3 118.9V138.4M119.4 126.5V132.4M122.2 136.9V141.1M122.9 136.9V141.8M125 146.5V147.7M125.7 144.1V146.5M126.4 144.1V156M128.5 152V153.2M131.3 153.9V155.5M132.7 154.9V156.1M134.8 155.4V156.6M137.6 154.6V155.8M139.7 154.5V156M141.8 155.4V156.6M143.2 155.4V156.6M143.9 153.5V156M144.6 153.5V155.9M145.3 155.3V156.5M146.7 155.4V156.6" stroke="#000" stroke-opacity="0.2" stroke-width="1.4" fill="none"/>
<path d="M2.4 105.2V117.1M3.1 107.3V117.1M4.5 92.2V108.5M5.2 92.2V95M7.3 85V92.4M10.1 62.6V79.9M12.2 47.7V56.4M22.7 35.9V68.9M23.4 35.9V71.7M25.5 73.2V91.4M27.6 82.1V95.9M28.3 92.1V95.9M29.7 108.4V110.5M30.4 110.5V118.3M33.9 131.2V139.2M35.3 133.6V142.6M37.4 147.4V149.5M38.1 147.4V150.1M43 152.7V155.4M43.7 149.9V152.7M45.1 155.4V156.6M49.3 152.6V156M50 154.3V156M51.4 155.4V156.6M54.2 153.8V156M4.5 108.5V115.4M6.6 99.7V108.4M10.1 88.7V93.4M16.4 58.8V66.1M19.2 32.1V35.6M19.9 32.1V51.4M21.3 36.3V39.9M25.5 42V60.2M26.2 59.1V60.3M29.7 68.8V80M30.4 80V90.8M40.9 144.3V146.7M42.3 145.4V152.9M45.8 152.4V156M50 153.3V155.6M52.1 153.5V154.7M52.8 154.1V156M54.2 155.2V156.4M55.6 155.4V156.6M56.3 153.5V156M57 153.5V156M25.1 155.4V156.6M27.2 154.5V156M30 151.2V152.4M31.4 143.5V152.5M36.3 136.7V146.4M37 136.4V137.6M37.7 135.8V137.4M39.1 130.3V131.6M39.8 130.3V136.2M40.5 130.8V136.2M41.2 115.3V130.8M41.9 115.3V132M42.6 124.5V132M43.3 111V124.5M46.8 95.4V102.6M47.5 88.8V95.4M48.2 88.8V96.6M52.4 67.9V77.4M55.9 66.8V70.2M60.8 42V50M62.9 42.9V60.4M63.6 42.9V52.4M66.4 39.8V60.8M67.1 59.8V61M69.2 37.9V39.9M71.3 31.4V41.5M75.5 51.7V54.2M78.3 56.5V63.1M79 63.1V64.6M81.8 75.8V87.1M82.5 75.8V79.9M83.2 79.9V89M85.3 77.5V101.8M86 99.8V101.8M90.2 104V109M92.3 114.3V117.8M94.4 127V128.3M95.1 124V127M98.6 129.2V130.4M100.7 142.9V146.7M101.4 142.5V146.7M102.1 142.5V149.5M102.8 142.8V149.5M103.5 142.8V149.3M104.2 144V149.3M107 149.1V153.2M108.4 153.8V156M109.1 152.8V154M109.8 149.3V152.9M110.5 149.3V156M112.6 148.7V152.2M114 152.6V154.3M26.5 150.5V156M28.6 151V155.9M32.1 149.1V150.3M35.6 143.1V148.9M39.1 135.2V147.4M40.5 141.3V147.6M42.6 120.8V139.8M46.1 127.9V129.7M54.5 81.1V86.1M55.2 60.5V81.1M58 58.7V68.5M59.4 45.9V65.7M60.1 47.7V65.7M62.9 44.5V49.3M65.7 36.7V55.9M70.6 50.8V54.6M72.7 35.9V48.5M77.6 45.3V46.9M79.7 67.5V73.4M83.2 86V87.2M83.9 70.9V87M84.6 70.9V78M86.7 96.4V98.5M88.1 89.3V106.9M95.1 122.7V126M97.2 121.8V125.5M98.6 125.9V136.1M100 135.2V136.6M100.7 136.6V145.3M104.2 138.5V143.2M104.9 143.2V146.2M108.4 150.3V151.5M109.1 150.5V151.7M110.5 144.9V148.3M111.9 153.6V155.2M113.3 153.3V155.1M114.7 148.8V153M115.4 148.8V156M116.1 151.5V156M116.8 151.5V153.3M38.2 151.5V152.7M40.3 153.7V154.9M42.4 152.6V155.5M50.1 145.4V146.6M57.1 134.3V141.3M60.6 133.9V135.4M63.4 122.2V134.6M64.1 122.2V138.5M66.2 117.5V123.6M69.7 114.7V126.4M71.8 102.8V114.5M82.3 56.8V73.7M88.6 54.9V61.3M89.3 45.4V61.3M90 45.4V56.3M92.1 36.3V45.5M99.8 58.4V60.2M101.2 52V62.3M104 56.2V72.7M110.3 109.3V114.8M111 114.8V116.1M112.4 116.4V117.6M113.1 117V120.6M115.2 127.8V129M122.9 148.3V154.3M129.9 151.3V152.8M133.4 152.1V153.3M134.1 152.5V156M137.6 151.9V154.4M139.7 154.5V155.7M143.2 153.8V156M144.6 155.4V156.6M39.6 150.6V154.7M45.2 148.3V151.4M47.3 148.4V155.5M49.4 149.5V150.7M50.1 145.3V150.3M51.5 147.7V152M53.6 145.1V150.6M54.3 148.7V150.6M55.7 147.3V148.5M57.1 138.5V142.7M57.8 134.1V138.5M60.6 131.3V133.5M65.5 131.4V134.2M66.9 123.3V136.2M67.6 123.3V125.3M69 119.4V122.8M73.2 123.8V125.6M78.1 80V83.3M82.3 77.5V84.4M83 84.4V90.5M84.4 55.7V87.9M85.1 55.7V76.2M86.5 68.7V73.2M87.2 62.6V73.2M87.9 62.6V64.5M90 70.6V71.8M96.3 44.4V60M98.4 25.4V47.3M99.1 25.4V41M101.2 52.1V65.3M106.1 72.7V74.9M108.2 85.1V94M113.1 101.3V120M114.5 117.5V122M118 118.9V130.3M124.3 144V147.7M127.1 150.9V156M129.9 150.1V156M130.6 150.1V155.5M132 153.9V155.1M134.1 155.1V156.3M135.5 155.2V156.4M136.9 154.3V155.5M138.3 151.5V155.5M139 151.5V154.5M142.5 155.4V156.6M146 155.4V156.6" stroke="#000" stroke-opacity="0.4" stroke-width="1.4" fill="none"/>
<path d="M11.5 47.7V62M13.6 42.3V61.2M16.4 42.8V44M17.8 32.6V62.2M24.1 61V71.7M24.8 61V73.2M31.1 117.3V118.5M31.8 112.9V117.6M34.6 139.2V142.6M36 133.6V148.8M38.8 143.1V150.1M39.5 143.1V156M41.6 150V156M47.9 155.4V156.6M48.6 152.6V156M50.7 154.3V156M55.6 153.4V156M56.3 153.4V156M2.4 125.9V127.9M3.1 127.9V134.4M5.9 108.4V111.6M8 96.5V110.8M17.1 58.8V62.1M24.1 27V46.3M31.1 90.8V102M33.2 112.8V114M34.6 120V127.4M36.7 142.6V143.9M39.5 139V147M41.6 144.3V145.5M43 147.4V152.9M45.1 152.2V153.4M49.3 155.2V156.4M51.4 152.5V154.2M27.9 152V154.5M28.6 148.3V152M29.3 148.3V151.9M33.5 148.3V152.9M38.4 131.6V135.8M44.7 117V119M45.4 119V120.2M49.6 84.5V99.5M61.5 45.2V50M68.5 37.9V46.1M69.9 34.9V39.9M73.4 60.7V61.9M74.1 57.9V61.5M76.9 58.6V62.4M79.7 64.6V67.4M80.4 67.4V79.1M81.1 79.1V87.1M83.9 89V93.6M86.7 98.4V99.8M88.8 95.2V105M93 114.3V124.4M97.2 129.5V144.9M100 133V142.9M105.6 143.5V156M111.9 148.7V150.2M113.3 151.8V153M27.9 152V155.9M34.2 149.1V153.7M34.9 148.9V153.7M36.3 139.1V143.1M37.7 142.3V143.7M46.8 111.6V127.9M51.7 92.5V108.8M53.1 73.2V75.7M55.9 52.9V60.5M56.6 52.9V82.5M58.7 45.9V58.7M62.2 31.8V44.5M66.4 40.6V55.9M67.1 40.6V57.9M72 35.9V38.1M74.1 39.1V59.4M74.8 39.1V67.7M75.5 67.7V69M82.5 76.3V86.2M86 96.4V98.5M94.4 111.8V122.7M96.5 121.1V125.5M99.3 135.1V136.3M101.4 144.3V145.5M105.6 144.3V146.2M41.7 149.1V155.5M43.1 148.4V152.6M44.5 151.7V156M45.2 150.7V156M48.7 148.3V150.6M52.2 144.9V146.1M54.3 143.7V146.9M55 143.7V147.6M58.5 138.3V139.5M59.9 135.4V136.6M61.3 133.9V137.8M64.8 133V138.5M65.5 117.5V133M70.4 114.9V126.4M73.9 87V110.1M76 108.8V111.1M78.1 89.4V92.2M83.7 58.4V86.9M92.8 38.4V45.5M93.5 37.7V38.9M95.6 33.8V46.7M97 37.5V56.5M97.7 46.1V56.5M103.3 56.2V62.9M107.5 86.3V94.8M108.9 94.6V100.1M109.6 100.1V109.3M118.7 140V142.1M119.4 142.1V143.5M120.8 141.8V147.8M121.5 141.8V144.9M125 143.9V152.5M127.1 151.6V153M128.5 148.3V152.9M132 150.1V156M134.8 153.2V156M136.2 154.3V156M136.9 151.9V156M138.3 154.4V156M141.1 154.1V155.3M141.8 154V155.2M142.5 153.4V154.6M143.9 155.4V156.6M42.4 150V155M44.5 148.9V151.4M52.2 146.8V152M58.5 134.1V135.5M62.7 132.1V133.3M63.4 133.1V134.5M64.1 134.2V135.4M64.8 134.1V135.3M66.2 131.4V136.2M68.3 122.8V125.3M69.7 114.8V119.4M71.8 117.1V126.7M73.9 96.1V123.8M76 89.5V100.2M76.7 89.5V103.7M77.4 83.3V103.7M80.2 74.4V81.7M80.9 81.7V91.9M81.6 77.5V91.9M83.7 87.9V90.5M91.4 48.8V62.1M92.8 31.4V37M97 44.4V63.8M105.4 72.1V73.3M106.8 74.9V81.3M110.3 90.2V108M111.7 102.3V119.2M115.9 125.9V131.7M118.7 130.3V132.4M120.1 126.5V138.4M120.8 136.7V138.4M123.6 141.8V144M127.8 150.9V152.5M133.4 155.1V156.3" stroke="#000" stroke-opacity="0.6" stroke-width="1.4" fill="none"/>
<path d="M0.3 129V130.2M1.7 105.2V110.1M5.9 93.9V95.1M6.6 92.4V93.9M8 85V91.4M9.4 70.7V79.9M10.8 61.7V62.9M15 42.1V49.6M15.7 43.3V49.6M17.1 32.6V43.4M18.5 38.9V62.2M19.2 38.9V60M19.9 30V60M21.3 58.7V64.6M26.2 85.1V91.4M26.9 82.1V85.1M33.2 126.2V131.2M40.2 150.3V156M42.3 155.1V156.3M44.4 149.9V156M7.3 96.5V99.7M10.8 63.5V88.7M17.8 43.9V62.1M27.6 70.7V82.2M43.7 147.4V151.3M54.9 155.2V156.4M25.8 151.1V156M32.1 143.4V144.6M32.8 144.6V148.3M35.6 141.9V146.4M44 111V117M46.1 102.6V120.2M50.3 85.1V99.5M51 85.1V89.2M53.8 60.8V78.1M55.2 51.9V66.8M56.6 59V70.2M57.3 59V70.8M58 53V70.8M60.1 42V51.7M67.8 46.1V60M72 41.5V48.6M77.6 56.5V62.4M84.6 77.5V93.6M88.1 105V112.7M89.5 95.2V104M90.9 109V111.9M91.6 111.9V117.8M93.7 124.4V128.3M95.8 124V129.6M96.5 129V130.2M97.9 130.3V144.9M99.3 129.3V133M104.9 143.2V144.4M111.2 150.2V156M114.7 154.3V156M31.4 149.7V154M43.3 120.3V121.5M49.6 103.8V107.4M52.4 75.7V92.5M60.8 47.7V56M61.5 31.8V56M67.8 51.1V57.9M71.3 38.1V54.6M78.3 45.3V60.2M88.8 100.9V106.9M90.2 114.8V116M92.3 103V121.4M93 120.6V121.8M106.3 144.3V145.6M109.8 144.9V151.5M38.9 151.8V153M41 149.1V154M47.3 146.7V151.5M48 146.7V148.3M49.4 145.4V150.6M50.8 146.4V147.6M51.5 145.8V147.3M53.6 146.4V147.6M55.7 147.4V148.6M57.8 139.1V141.3M59.2 136.6V138.6M62 125.9V137.8M62.7 125.9V134.6M66.9 123.6V125.5M68.3 116.3V124.9M69 114.7V124.9M71.1 114.1V115.3M73.2 97.9V110.1M74.6 87V103.6M83 73.7V86.9M84.4 58.4V68.9M85.1 65.5V68.9M86.5 44.1V61.7M87.9 44.2V54.9M90.7 34.4V56.3M91.4 34.4V36.3M96.3 37.5V46.7M98.4 44.5V46.1M101.9 52V71.1M104.7 72.7V96.1M105.4 83.2V96.1M106.1 78.7V83.2M106.8 78.7V94.8M113.8 120.6V128.2M118 140V141.6M120.1 143.5V147.8M122.2 144.9V154.3M123.6 148.3V153.8M124.3 143.9V153.8M126.4 151.6V152.8M127.8 152.4V153.6M131.3 150.8V156M140.4 153.8V155M145.3 155.3V156.5M146.7 153.8V155M38.9 154V155.2M40.3 150.6V153.7M43.1 149.2V155M45.9 148.3V150.4M46.6 150.4V155.5M48 148.4V150.7M59.2 134.8V136M59.9 133.5V135.3M70.4 114.8V122.5M74.6 96.1V120.2M75.3 100.2V120.2M94.2 28.6V41.1M103.3 44.5V59.1M104.7 43.2V72.7M115.2 122V125.9M121.5 136.7V141.1M129.2 152.6V156M136.2 154.6V155.8M140.4 155.4V156.6M141.1 155.4V156.6" stroke="#000" stroke-opacity="0.85" stroke-width="1.4" fill="none"/>
<path d="M0 0H155.0V156.0H0Z" stroke="#333" stroke-width="1.05" fill="none"/>
<text x="0.6" y="-1.2" font-family="Liberation Mono, monospace" font-weight="bold" font-size="4.6" fill="#222" textLength="42.3" lengthAdjust="spacingAndGlyphs">SINGLE PARAMETER</text>
<text x="2.3" y="162.2" font-family="Liberation Mono, monospace" font-weight="bold" font-size="5" fill="#222" text-anchor="middle">1</text>
<text x="37.0" y="162.2" font-family="Liberation Mono, monospace" font-weight="bold" font-size="5" fill="#222" text-anchor="middle">1</text>
<text x="76.0" y="162.2" font-family="Liberation Mono, monospace" font-weight="bold" font-size="5" fill="#222" text-anchor="middle">10</text>
<text x="115.0" y="162.2" font-family="Liberation Mono, monospace" font-weight="bold" font-size="5" fill="#222" text-anchor="middle">100</text>
<text x="148.6" y="162.2" font-family="Liberation Mono, monospace" font-weight="bold" font-size="5" fill="#222" text-anchor="middle">1000</text>
<text transform="translate(-2.2 2.3) rotate(-90)" font-family="Liberation Mono, monospace" font-weight="bold" font-size="4.6" fill="#444" text-anchor="middle">20</text>
<text transform="translate(-2.2 39.0) rotate(-90)" font-family="Liberation Mono, monospace" font-weight="bold" font-size="4.6" fill="#444" text-anchor="middle">15</text>
<text transform="translate(-2.2 77.0) rotate(-90)" font-family="Liberation Mono, monospace" font-weight="bold" font-size="4.6" fill="#444" text-anchor="middle">10</text>
<text transform="translate(-2.2 115.5) rotate(-90)" font-family="Liberation Mono, monospace" font-weight="bold" font-size="4.6" fill="#444" text-anchor="middle">5</text>
<rect x="-5.2" y="153.4" width="2.2" height="1.4" fill="#111"/>
</g>
<g transform="matrix(0.9987 0.0023 -0.0038 1.0042 161.65 228.98)">
<path d="M0.3 122.8V123.8M1 110.2V116.7M2.4 118.7V124.9M3.1 108.2V108.4M3.8 95V103.3M5.9 92.1V105M11.5 62.8V69.6M12.9 54.7V54.9M15 61.1V86.1M17.1 43V48.9M17.8 52.8V75.5M22 52.4V73.2M22.7 38.1V78.4M24.8 74.7V77M26.2 88.1V89.5M27.6 83.6V87.2M30.4 123.4V137.1M34.6 141.1V144.9M36 143.5V145.7M36.7 143.5V143.7M37.4 150.5V153.8M39.5 151.5V155.2M40.9 148.2V149.4M42.3 152.5V153.8M43.7 152.4V154.4M45.8 156V156M47.2 155.8V156M48.6 155.3V155.4M49.3 156V156M50 156V156M21.7 156V156M22.4 154.5V155.2M23.8 156V156M25.2 156V156M25.9 156V156M26.6 152.9V153.8M28 154.3V154.9M28.7 149.5V151.8M31.5 139.3V141.1M34.3 88.7V101.4M35.7 46.9V47.4M36.4 50V55.2M37.8 54V63.6M38.5 57.4V58M42 71.6V129.6M44.8 66.6V74.1M46.2 70V80.2M51.8 67.8V76M52.5 79.5V106.8M53.2 65.7V66.1M56.7 73.7V108.2M58.8 77.9V92.7M60.9 80.8V82.7M62.3 102V112M63 97.2V109M66.5 100.1V100.7M71.4 114.2V118.6M72.8 122V126.6M74.2 128.7V141.1M74.9 125.7V132.1M77 121.9V125.5M77.7 134.9V137.3M84.7 130.4V136.8M86.1 141.4V145M91 146.4V149M93.8 146.9V150.2M95.2 151.4V152M95.9 149.7V153.4M96.6 155.3V156M98.7 151.5V151.7M102.9 156V156M105.7 153.4V154.4M31 156V156M32.4 150.6V154.2M33.8 149.9V151.9M35.2 153.2V155.8M37.3 146.8V147.1M39.4 145.6V147M40.8 144.4V144.6M42.2 138.7V138.9M45.7 143.7V150.1M47.1 137.2V139.5M51.3 132.7V142.7M52.7 127.3V127.8M55.5 126V128.3M57.6 116.2V116.4M60.4 123.5V125.8M61.8 109.9V116M66 99.5V105.4M66.7 87.4V90.1M67.4 89.6V95.2M68.1 81.7V106.9M75.1 67.9V70M75.8 58.5V71.3M78.6 75.8V77.4M80.7 56.7V74.1M83.5 49.9V54.3M85.6 50.7V54.6M89.1 37.4V44.2M90.5 36.3V39.8M91.2 38.1V52.8M91.9 29.8V75.3M97.5 84.8V126.3M100.3 99.4V108.3M105.9 127.6V136.8M108.7 137.5V139.7M110.8 144.6V145.8M111.5 147.7V152.8M114.3 154.2V155.7M115 155.9V156M116.4 156V156M117.8 152.2V153.2M119.9 152.9V153M120.6 155.6V156M125.5 155.6V156M127.6 156V156M7.4 156V156M16.5 139.6V142.2M17.2 128.9V136.9M18.6 130.7V134.6M20 124.5V133.8M24.2 143.9V144.1M24.9 145.5V149.9M31.2 156V156M34.7 154.8V156M36.1 154.6V156M37.5 156V156" stroke="#000" stroke-opacity="0.22" stroke-width="0.8" fill="none"/>
<path d="M2.1 153.3V156M3.9 155.8V156M4.5 147.9V156M5.1 148.7V156M6.9 140.8V156M8.1 154V156M14.1 140.4V156M14.7 134.6V156M15.3 150.9V156M18.3 153.6V156M19.5 151.9V156M20.7 126V156M21.9 135.1V156M23.7 147.8V156M24.3 135.4V156M25.5 145.9V156M26.1 130V156M29.1 149.1V156M33.3 135.3V156M36.3 126V156M38.1 126V156M39.3 140.3V156M39.9 152.1V156M40.5 126V156M41.1 151V156M43.5 142V156M44.7 151.6V156M45.9 126V156M47.7 133.6V156M49.5 149V156M51.3 154.2V156M51.9 145.2V156M53.1 148.8V156M56.7 126V156M58.5 151.5V156M59.1 153V156M60.3 152V156M63.3 137.1V156M66.3 151.4V156M67.5 136.3V156M68.7 151.6V156M69.3 132.2V156M72.9 154.7V156M75.3 155V156M78.9 144.7V156M89.1 151.2V156M90.9 154.8V156M92.1 141.8V156M93.3 150.4V156M96.9 126V156M98.1 152.4V156M102.9 146.1V156M105.9 151.7V156M108.9 150.1V156M110.1 145.9V156M113.7 149.3V156" stroke="#000" stroke-opacity="0.22" stroke-width="0.8" fill="none"/>
<path d="M0.3 151.8V156M1.5 155.3V156M2.7 149.3V156M3.3 150.8V156M3.9 148.7V156M4.5 154V156M5.1 153.5V156M5.7 146.4V156M6.3 154.2V156M6.9 148.2V156M7.5 154.4V156M8.1 146.4V156M8.7 153V156M10.5 152.7V156M11.1 151.8V156M11.7 153.7V156M12.9 153.1V156M14.7 154.3V156M15.3 147.4V156M16.5 152.9V156M17.1 153.9V156M17.7 146.4V156M18.3 153.6V156M19.5 154.6V156M20.1 154.3V156M20.7 153.4V156M21.9 153.3V156M22.5 153.3V156M23.1 154.8V156M23.7 155.3V156M24.3 153.9V156M24.9 154.4V156M25.5 155V156M26.7 154.8V156M27.3 154V156M28.5 152V156M29.1 150.6V156M29.7 150.6V156M30.3 151.2V156M30.9 152.9V156M32.1 150.4V156M33.3 154.5V156M33.9 155.4V156M35.7 154.2V156M36.3 154.3V156M36.9 149.3V156M37.5 154.5V156M38.1 155V156M39.9 152.5V156M40.5 152.3V156M41.1 148.8V156M41.7 154.4V156M42.3 154.7V156M42.9 146.4V156M43.5 154V156M44.1 148.2V156M44.7 154V156M46.5 152.9V156M47.1 151.7V156M47.7 154.6V156M48.3 148.3V156M48.9 146.4V156M49.5 153.6V156M51.3 149V156M51.9 151.7V156M52.5 155.2V156M53.1 153.7V156M53.7 148.2V156M54.3 152.4V156M54.9 146.8V156M55.5 153.7V156M56.1 150.1V156M57.3 154.6V156M57.9 154.8V156M58.5 153.8V156M59.1 153.7V156M59.7 151.6V156M61.5 151.1V156M62.7 154.3V156M63.3 155V156M63.9 154.7V156M64.5 155.2V156M65.7 151.7V156M66.3 154.6V156M67.5 152.1V156M68.1 153.5V156M68.7 155.3V156M69.9 154.6V156M71.1 152.2V156M71.7 151.8V156M72.3 150.8V156M72.9 154.3V156M73.5 154.4V156M74.1 154.2V156M74.7 151V156M75.9 146.4V156M76.5 153.2V156M77.7 152.9V156M78.3 151.5V156M79.5 153.1V156M80.7 153.8V156M81.3 149.3V156M81.9 146.7V156M83.1 149.5V156M83.7 149.7V156M84.3 152.6V156M84.9 146.5V156M86.1 154.5V156M86.7 152.4V156M87.9 152.8V156M89.1 153.8V156M90.3 155.2V156M90.9 153.8V156M91.5 154.2V156M92.1 150.4V156M93.3 151.1V156M93.9 146.4V156M95.7 154.8V156M96.3 154.5V156M97.5 154.7V156M98.7 147V156M99.3 154.8V156M100.5 150.3V156M101.1 152.5V156M101.7 154.7V156M102.3 154.9V156M103.5 155.3V156M104.1 155.3V156M104.7 149.3V156M105.9 153V156M106.5 155V156M107.7 150.1V156M108.3 150.7V156M109.5 153.4V156M110.7 146.4V156M111.9 154.4V156M112.5 153.6V156M113.1 152.5V156M113.7 153.7V156M114.9 153.5V156M115.5 150.3V156M116.1 153.5V156M116.7 151.2V156M117.3 149.5V156M117.9 152.9V156M118.5 153V156M119.1 154.6V156M119.7 155.3V156M120.3 149.2V156" stroke="#000" stroke-opacity="0.6" stroke-width="0.9" fill="none"/>
<path d="M0.3 121.6V122.2M1 107.5V110.2M1.7 109.1V109.3M2.4 108.9V109.6M3.1 101.7V108.2M3.8 86.7V95M4.5 90.7V95M5.2 94.7V98.6M6.6 89.6V92.1M7.3 86.1V95.5M8.7 67.6V74.4M9.4 67.9V74.4M10.1 66.8V73.8M10.8 64.3V66.3M11.5 52.2V62.8M12.2 49.2V51.1M12.9 40.1V51.1M13.6 49V51.6M14.3 47.7V51.6M15 59.9V61.1M15.7 33.1V44.5M16.4 33.7V44.5M17.1 37.7V43M17.8 33.6V43M18.5 48V52.8M19.2 33.9V38.4M19.9 36.2V38.4M20.6 53.5V54.2M21.3 54.8V57.1M22 49.8V52.4M22.7 35.4V38.1M23.4 36.5V38.1M24.1 64.5V66.2M24.8 65.9V66.2M25.5 60.1V69.9M26.9 87.7V88.1M27.6 76.4V83.6M28.3 74V83.6M29 104.1V105.8M29.7 100.8V105.8M30.4 115.3V120.9M31.1 122.3V122.9M31.8 117.8V119.1M32.5 118.3V119.1M33.2 122.5V123.6M33.9 131.5V133.3M34.6 131.9V133.3M35.3 137.8V140.7M36 135V141.4M36.7 137.1V142.9M37.4 138.2V143.5M38.8 144.5V149.4M39.5 148.2V150.1M40.2 146.5V151.5M40.9 147.5V148.2M41.6 143.5V148.2M43.7 152.2V152.4M44.4 151.8V152.4M45.1 150.3V151.8M45.8 147.9V151.8M46.5 154.5V155.4M47.2 152V155.3M47.9 153.2V153.4M48.6 151.9V153.4M49.3 154.7V155M50 153.6V155.4M21.7 154V155.4M22.4 154.2V154.5M23.1 151.7V154.5M23.8 153.8V155.4M24.5 154.6V155.4M25.2 154V155.4M27.3 151.3V152.9M28 152.9V153.8M30.1 142.9V144.1M30.8 139.2V141.3M31.5 133.8V139.3M32.2 116.4V117.3M32.9 116.9V117.3M33.6 83.5V87.8M35.7 38V46.9M36.4 45.6V46.9M37.1 44V50M37.8 53.7V54M38.5 47.4V54M39.2 55.3V57.4M39.9 60.7V65M40.6 42.6V53.6M41.3 47.1V48.7M42 37.8V48.7M42.7 52.6V55.7M43.4 43.8V50.1M44.1 39.8V50.1M44.8 53.1V54.7M45.5 35.6V46.4M46.2 42.3V46.4M46.9 49.7V51.8M47.6 38.4V42.9M48.3 32.2V42.9M49 47.4V58.2M49.7 54.9V57.7M50.4 56.3V58.5M51.8 66.3V67.8M52.5 61.4V67.8M53.2 63.4V65.7M53.9 61.8V62.9M54.6 62.8V62.9M55.3 65.4V75.7M56 76.3V76.5M56.7 69.6V73.7M57.4 70.7V73.6M58.1 72.9V74.7M59.5 67.9V77.9M60.2 91.9V92.2M60.9 80.3V80.8M61.6 70.1V75.7M62.3 74.2V75.7M63 92.3V97.2M63.7 90.2V90.7M64.4 86.7V86.9M65.1 86.4V86.9M65.8 85.8V87.7M66.5 85.8V87.7M67.2 95.3V98M67.9 96.7V98M68.6 97V99.7M69.3 96.8V97.1M70 90.2V97.1M70.7 93.6V102.3M72.8 105.4V105.5M73.5 109.4V113.2M74.2 113.2V113.2M75.6 113.2V115.3M76.3 107.4V115.3M77 114.1V121.9M77.7 118.2V121.9M78.4 108.6V116.3M79.1 114.1V116.3M81.2 123.2V127.8M81.9 117.4V124.6M82.6 124.2V124.6M83.3 125.7V132.6M84 136.1V137.4M84.7 129.8V130.4M85.4 123.7V130.4M86.8 136.6V137.3M88.2 137.9V139.3M88.9 139V139.3M89.6 144.4V147.9M90.3 135.7V141.7M91 135.7V141.7M91.7 141.6V144.5M92.4 137V139M93.1 138.6V139M93.8 145V146.9M94.5 143.5V146.9M95.2 145.7V150.4M95.9 149.1V149.7M96.6 145.1V149.7M97.3 152.7V155M98 145.8V146M98.7 145.9V146M99.4 147.3V147.8M100.8 146.8V151M101.5 145.4V150.3M102.2 148.8V149.7M102.9 147.5V150.4M103.6 144.7V149.4M104.3 147V149.4M105 152.5V152.9M105.7 148V152.6M106.4 152.7V153.4M31.7 148.3V149.4M32.4 149V149.4M33.1 149V150.6M33.8 148.1V149.9M35.2 148.3V151.6M36.6 144.2V145.3M37.3 140.4V145.3M38 142.5V145.7M38.7 143.8V145.7M39.4 143.5V145.6M40.1 137.7V140M42.2 137.2V138.7M42.9 132.8V138.7M43.6 134.9V135.4M45 138.3V138.9M46.4 127.9V130.9M47.8 130.2V136.7M48.5 122.9V129.5M49.2 126.8V129.5M49.9 128.8V135M50.6 134.3V135M51.3 131.3V132.7M52 129.6V132.7M52.7 124.1V127.3M53.4 123.8V127.3M54.1 122.8V130.1M54.8 121.1V128.5M56.2 124.4V126M56.9 113.5V116M57.6 109.9V115.5M58.3 116V116.2M59 116.1V118.2M59.7 111.8V112.3M61.1 108V110.9M62.5 108V109.9M63.2 110V112.2M63.9 108.5V109.8M64.6 87.4V88.2M65.3 82V88.2M66 90.4V99.5M66.7 85V87.4M67.4 84.8V87.4M68.1 76.8V81.7M68.8 81.4V81.7M70.2 59.7V68.3M70.9 65.2V68.3M71.6 81.4V81.5M72.3 71.4V75.5M73 63.9V65.2M73.7 65V65.2M74.4 65.6V67.1M75.1 65.6V66.9M75.8 48.5V58.5M77.2 50.4V61.3M77.9 60V66.4M78.6 65.2V68M79.3 42.7V45.1M80 45V45.1M81.4 31.7V33.3M82.1 31V33.3M82.8 30.6V42M83.5 36.7V42M84.2 32.7V39.1M84.9 31.6V39.1M86.3 18V29.6M87 26.5V29.6M87.7 41.5V46.8M88.4 46.1V47M89.1 34.8V37.4M89.8 25.7V37.4M90.5 24.6V36.3M91.9 27.4V29.8M92.6 21.5V29.8M93.3 36.4V47.9M94 40.8V47.9M94.7 66.9V67.4M95.4 64.2V66.7M96.1 63.2V67.3M96.8 59.2V69.9M97.5 71.7V79.5M98.2 78.2V84.8M99.6 96.6V96.8M101 90.2V99.4M102.4 99.7V104.7M103.1 106.6V107.4M103.8 121.8V127M104.5 119V127M105.2 120.5V128.2M105.9 123.5V127.6M106.6 124.7V127.6M107.3 131.8V132.5M108 135.2V139.6M108.7 131V137.5M109.4 136.8V137.5M110.1 146.7V146.8M110.8 138.9V144.6M111.5 139.2V144.6M112.2 145.2V145.5M112.9 144.3V145.5M113.6 147.6V149.2M114.3 146.8V149.6M115 152.7V154.2M115.7 148.9V153.6M116.4 149V153.6M117.1 150.1V153.2M117.8 149.1V152.1M118.5 151.5V152.2M119.2 154.3V154.5M119.9 151.9V152.9M121.3 152.9V153.7M122 152.4V152.7M124.1 154.2V154.3M124.8 152.7V154.8M125.5 154.9V155M126.2 154.5V155.1M127.6 154.4V154.4M6 153.6V155.4M6.7 152.1V155.4M7.4 153.7V155.4M8.1 154.5V155.4M8.8 152.2V153.4M9.5 153.3V153.4M10.2 154.8V155.4M10.9 154V154.1M12.3 150.3V151.8M13 150.9V151.8M13.7 150.8V151.1M14.4 149.3V149.5M15.1 146.1V146.3M15.8 141V144M16.5 138.5V139.6M17.9 127.7V128.9M18.6 129.7V130.7M19.3 122.9V128.3M20 123.8V124.5M20.7 119V124.5M21.4 121.1V125.7M22.1 124.4V126.4M22.8 133.2V135.2M23.5 135.1V135.2M24.2 139V140.2M24.9 142.6V143.9M25.6 145.1V145.5M27 149.6V150M27.7 151.7V152M29.1 149.3V152M29.8 151.8V152M31.2 154.5V154.9M31.9 152.1V155.4M32.6 154.5V155.4M33.3 153.7V155.4M34 153.5V154.1M34.7 152V153.9M35.4 154.4V154.8M36.1 154.6V154.6M36.8 154.2V154.6" stroke="#000" stroke-opacity="0.3" stroke-width="0.8" fill="none"/>
<path d="M1.7 109.3V110.5M3.1 108.2V118.7M5.9 92.1V98.6M11.5 62.8V66.3M14.3 51.6V66.7M18.5 52.8V54.3M22 52.4V57.8M22.7 38.1V52.4M26.9 88.1V105.2M33.2 123.6V136.2M43.7 152.4V154.5M44.4 152.4V156M48.6 153.4V155.3M3.1 119.4V122.5M4.5 125.5V126.8M6.6 110.6V112.2M8.7 94.9V110.6M9.4 90.6V94.9M10.1 90.6V101.9M11.5 79.4V89.9M12.2 89.3V90.5M13.6 65.7V74.7M14.3 50.7V65.7M15 50.7V62.6M15.7 39.2V62.6M17.1 37.2V38.8M18.5 34.5V43.8M19.2 43.8V52.8M19.9 38.7V52.8M22 42.9V48.9M22.7 48.9V64.7M23.4 41.9V64.7M28.3 67.7V74.6M31.1 93.3V95M31.8 95V96.5M38.8 139.1V151.1M39.5 142V151.1M43.7 150.7V156M45.8 153V155M46.5 153V154.7M47.9 154.8V156M24.5 155.4V156.6M28.7 149.5V154.3M35.7 46.9V65.2M40.6 53.6V65.3M44.1 50.1V54.7M49.7 57.7V58.9M50.4 58.5V60.4M53.2 65.7V79.5M53.9 62.9V65.7M55.3 75.7V79.4M56 76.5V79.4M57.4 73.6V74.8M58.8 77.3V78.5M60.2 92.2V98.2M64.4 86.9V90.7M74.9 125.7V128.7M78.4 116.3V134.9M80.5 127.8V129M82.6 124.6V132.6M83.3 132.6V143.1M84 137.4V143.1M84.7 130.4V137.4M87.5 137.3V140.7M95.2 150.4V151.6M106.4 153.4V156M22.4 154.5V156M26.6 154.1V155.3M28.7 154.8V156M30.1 155V156.2M31.5 150.7V155.9M32.9 140.1V150.5M35.7 103.6V109.5M37.1 64.7V83.1M37.8 51.7V64.7M38.5 51.7V75.1M39.2 43.5V75.1M41.3 37.8V70.8M42.7 54.2V60.1M43.4 54.2V58M49.7 47.6V56.1M51.1 50.1V60.5M52.5 76.3V78.5M58.8 77.3V80M62.3 67V70.6M65.8 82.8V85.5M67.9 95.4V100.8M68.6 91.7V100.8M70.7 98V111.6M71.4 105.5V111.6M74.9 112.7V114.5M77 108V121.7M80.5 121.2V129M85.4 125.1V127M90.3 133.8V146.3M91 137.6V146.3M92.4 139.6V141.7M95.9 142.7V152.8M98 148V153.1M99.4 146.6V154.8M100.1 146.9V154.8M102.2 148.2V152.7M103.6 149.3V150.5M106.4 150.6V152.2M31 155.4V156.6M33.8 149.9V152.7M35.2 151.6V153.2M38.7 145.7V150.3M43.6 135.4V140.6M44.3 135.4V141M46.4 130.9V143.7M51.3 132.7V138.4M54.1 130.1V131.7M56.2 126V127.2M57.6 115.5V116.7M61.1 110.9V123.5M66 99.5V102.2M68.1 81.7V89.6M71.6 81.5V82.7M73 65.2V75.5M75.1 66.9V68.1M76.5 58.5V61.3M77.9 66.4V68M78.6 68V75.8M86.3 29.6V50.7M88.4 47V58.3M91.9 29.8V38.1M93.3 47.9V58.1M94.7 67.4V76M96.1 67.3V69.9M98.2 84.8V94.5M99.6 96.8V98M105.2 128.2V134.3M108 139.6V140.8M108.7 137.5V140.7M109.4 137.5V146.8M117.1 153.2V156M119.2 154.5V155.7M119.9 152.9V155.6M121.3 153.7V155.6M124.1 154.3V155.5M125.5 155V156.2M31.7 155.4V156.6M32.4 155V156.2M33.8 154.9V156.1M34.5 154.7V155.9M38.7 151.2V152.8M39.4 151.2V152.6M40.8 145.5V150.4M44.3 145.2V149.8M46.4 143.2V147M47.1 140.1V143.2M47.8 135.8V140.1M48.5 135.8V143.5M49.2 143.1V144.3M53.4 126.9V132M54.1 131.9V133.1M59 124.3V133.5M63.9 104.8V119.5M67.4 104.7V116.2M68.1 95.1V104.7M68.8 95.1V109.6M70.2 90.7V107.9M73 97V99.4M74.4 64.5V88.9M79.3 58.1V63.2M81.4 75.1V76.8M82.1 57.4V75.1M84.9 34.7V52.8M87.7 29.7V55.6M89.8 47.4V48.6M91.9 53.1V56.4M94 46.5V51M94.7 50.8V52M96.8 53.1V61.2M97.5 53.1V61.6M98.2 56.2V61.6M100.3 73.5V88.6M101.7 90.7V102.1M103.8 105.9V108M104.5 103.9V105.9M105.2 103.9V127.9M105.9 127.2V128.4M107.3 128.2V135.4M108 135.4V139.9M108.7 138.2V139.9M110.8 136.6V142.3M115 150.3V154.2M117.1 154.1V156M118.5 155.1V156.3M119.9 152.7V153.9M122.7 151.7V156M124.1 153.4V156M125.5 155.1V156.3M126.2 155.4V156.6M126.9 155.4V156.6M6.7 155.4V156.6M15.1 146.3V149.5M17.2 128.9V139.6M17.9 128.9V134M27 150V152M27.7 152V156M28.4 154.7V156M29.8 152V156M30.5 154.9V156.1M34 154.1V156M35.4 154.8V156M37.5 155.4V156.6M6.7 154.7V155.9M9.5 155V156.2M11.6 153.4V156M12.3 154.1V156M13 154.1V155.7M16.5 151.1V152.3M19.3 138.6V141.6M21.4 130.1V132.9M22.8 127V128.2M24.2 125.8V132M25.6 132.5V134.4M29.1 150.4V153.2M31.9 154.4V156M33.3 154.9V156.1M34.7 153.9V156M36.1 155.4V156.6M37.5 154.5V156" stroke="#000" stroke-opacity="0.2" stroke-width="1.4" fill="none"/>
<path d="M1 110.2V122.8M2.4 109.6V118.7M6.6 92.1V105.6M15 61.1V66.7M19.9 38.4V54.2M21.3 57.1V58.3M23.4 38.1V78.6M24.1 66.2V78.6M26.2 69.9V88.1M28.3 83.6V109.4M29 105.8V109.4M33.9 133.3V136.2M35.3 140.7V141.9M37.4 143.5V150.5M38.8 149.4V150.6M40.9 148.2V155.2M41.6 148.2V155.3M42.3 152.5V155.3M45.8 151.8V156M46.5 155.4V156.6M47.2 155.3V156.5M47.9 153.4V155.8M2.4 119.4V141.6M3.8 122.5V126.8M16.4 37.2V39.2M25.5 57.4V68.5M26.2 55.6V57.4M26.9 55.6V69.8M27.6 67.7V69.8M30.4 93.3V94.9M35.3 118.7V120.3M36.7 139V140.2M37.4 139.5V145.8M38.1 139.1V145.8M40.9 144.9V148.3M41.6 148.3V156M42.3 154.5V156M44.4 154.8V156M45.1 154.3V155.5M47.2 154.2V155.4M48.6 155.3V156.5M49.3 155.3V156.5M50 154.9V156.1M21.7 155.4V156.6M23.8 155.4V156.6M25.2 155.4V156.6M25.9 155.4V156.6M31.5 139.3V141.3M36.4 46.9V50M37.8 54V60.3M39.9 65V66.2M42.7 55.7V71.6M44.8 54.7V66.6M45.5 46.4V66.6M48.3 42.9V76.5M52.5 67.8V79.5M60.9 80.8V98.2M63.7 90.7V97.2M65.1 86.9V91.1M67.2 98V100.1M67.9 98V99.7M71.4 102.4V114.2M72.1 105.5V114.2M72.8 105.5V122M75.6 115.3V125.7M77.7 121.9V134.9M81.2 127.8V129.6M85.4 130.4V135.3M89.6 147.9V150.4M91 141.7V146.4M92.4 139V144.5M96.6 149.7V155.3M98 146V156M100.1 147.8V151.5M100.8 151V152.2M102.2 149.7V150.9M105 152.9V156M105.7 152.6V153.8M21 155.4V156.6M21.7 155.4V156.6M24.5 155V156.2M25.9 154.5V156M29.4 154.8V156M33.6 134.5V140.1M34.3 133.8V135M36.4 83.1V109.5M40.6 37.8V40.4M42 60.1V70.8M44.1 39.6V58M44.8 39.6V61M45.5 41.5V61M48.3 61.3V66.1M53.9 58.7V65.6M55.3 68V75.5M57.4 51V70M60.2 57.2V75.5M61.6 67V71M63 70.6V92.4M64.4 77.7V80.5M66.5 82.8V97.9M67.2 95.4V97.9M75.6 114.5V126.7M76.3 108V126.7M77.7 120.5V121.7M78.4 120.5V125.8M79.8 114.9V129M81.2 118.5V121.2M81.9 117.2V118.5M82.6 117.2V121.6M83.3 121.6V126.4M84 126.4V138.5M86.1 127V130.2M86.8 130.2V131.6M88.2 136.7V140.8M93.8 140.3V143.2M94.5 140.3V141.5M95.2 141.4V142.7M96.6 144.3V152.8M104.3 149.7V156M105 150.5V156M31.7 149.4V156M32.4 149.4V150.6M40.1 140V145.6M41.5 140.6V144.4M42.9 138.7V140.6M45 138.9V141M49.2 129.5V138.7M49.9 135V138.7M56.9 116V127.1M58.3 116.2V118.2M59 118.2V126M60.4 112.3V123.5M61.8 109.8V111M62.5 109.9V112.9M65.3 88.2V102.2M67.4 87.4V89.6M68.8 81.7V99.5M69.5 96.1V99.5M72.3 75.5V82.2M73.7 65.2V83.8M74.4 67.1V83.8M81.4 33.3V56.7M82.1 33.3V54.3M82.8 42V54.3M83.5 42V49.9M84.2 39.1V49.9M87.7 46.8V58.3M91.2 36.3V38.1M100.3 96.8V99.4M101.7 103.1V104.7M111.5 144.6V147.7M115 154.2V155.9M118.5 152.2V154.7M120.6 152.9V155.6M122 152.7V153.9M126.2 155.1V156.3M35.2 148.1V155.6M35.9 148.1V151M36.6 151V153.6M43.6 141.3V145.2M45.7 147V152.2M52 134V139.6M52.7 126.9V134M55.5 122.1V141.8M56.2 122.1V125.1M59.7 122.9V124.3M62.5 106.8V115.5M63.2 104.8V115.5M64.6 107.2V119.5M65.3 98.2V107.2M71.6 82V99.2M73.7 88.9V99.4M75.1 64.5V85.2M76.5 69.4V74.4M77.2 69.4V79.3M82.8 56.3V57.5M83.5 44.5V56.4M84.2 34.7V44.5M87 29.7V42.8M90.5 34.8V48.3M91.2 34.8V53.1M92.6 37.3V56.4M93.3 37.3V46.5M96.1 47.9V61.2M101 88.6V90.7M106.6 127.3V128.5M109.4 130.8V138.2M111.5 142.3V144.3M112.2 144.3V153.6M112.9 144.7V153.6M113.6 144.7V147.3M116.4 152.5V154.1M117.8 155.1V156.3M119.2 153V156M120.6 153.2V154.4M121.3 154V155.5M123.4 151.7V156M127.6 155.4V156.6M8.1 155.4V156.6M9.5 153.4V156M10.2 155.4V156.6M12.3 151.8V155.3M14.4 149.5V151.1M20 124.5V128.3M22.1 126.4V138M24.2 140.2V143.9M31.2 154.9V156.1M36.8 154.6V156M6 155V156.2M7.4 154.9V156.1M8.1 155.2V156.4M10.2 155.4V156.6M10.9 153.4V156M13.7 152.6V155.7M14.4 152.6V156M17.9 146.9V148.1M20.7 129.6V130.8M23.5 127.2V132M24.9 125.8V132.5M26.3 134.4V143.3M27.7 144V145.3M29.8 150.4V152.6M30.5 152.6V154.9M35.4 153.9V156" stroke="#000" stroke-opacity="0.4" stroke-width="1.4" fill="none"/>
<path d="M3.8 95V108.2M4.5 95V102.9M5.2 98.6V102.9M7.3 95.5V105.6M8 80.8V95.5M10.1 73.8V84M10.8 66.3V73.8M12.9 51.1V54.7M15.7 44.5V61.1M16.4 44.5V64.5M19.2 38.4V54.3M20.6 54.2V57.7M25.5 69.9V74.7M27.6 83.6V105.2M31.8 119.1V123.6M32.5 119.1V123.6M36 141.4V143.5M36.7 142.9V144.1M45.1 151.8V156M49.3 155V156.2M50 155.4V156.6M0.3 155.4V156.6M1.7 141.6V154.1M5.9 110.6V116.3M7.3 98.2V112.2M8 98.2V110.6M10.8 79.4V101.9M12.9 74.7V89.9M20.6 34.7V38.7M21.3 34.7V42.9M24.1 41.9V47.8M24.8 47.8V68.5M29 74.6V100.5M29.7 94.9V100.5M33.9 117V118.2M34.6 117.3V118.7M36 120.3V139.6M40.2 142V144.9M22.4 154.5V156M27.3 152.9V154.4M29.4 149.5V153M30.8 141.3V144.1M32.2 117.3V139.3M32.9 117.3V118.7M34.3 87.6V88.8M35 65.2V88.7M37.1 50V60.3M38.5 54V57.4M39.2 57.4V65.9M46.2 46.4V70M46.9 51.8V70M51.8 67.8V71.3M54.6 62.9V75.7M56.7 73.7V76.5M61.6 75.7V80.8M63 97.2V102M68.6 99.7V107.9M69.3 97.1V107.9M74.2 113.2V128.7M79.1 116.3V123.8M81.9 124.6V129.6M86.1 135.3V141.4M86.8 137.3V141.4M88.9 139.3V150.4M91.7 144.5V146.4M93.1 139V148.5M93.8 146.9V148.5M95.9 149.7V151.4M97.3 155V156.2M98.7 146V151.5M101.5 150.3V151.7M102.9 150.4V156M103.6 149.4V156M23.8 154.4V155.6M27.3 154.4V155.6M32.2 150V151.2M35 103.6V134.4M47.6 66.1V70.4M49 56.1V61.3M50.4 47.6V60.5M53.2 65.6V78.5M54.6 58.7V68M56 62.4V75.5M56.7 51V62.4M60.9 71V75.5M69.3 91.7V104.9M70 98V104.9M72.1 105.5V109.1M72.8 108.4V109.6M73.5 108.2V109.4M74.2 108.7V112.7M84.7 125.1V138.5M87.5 131.6V136.7M88.9 133.6V140.8M89.6 133.1V134.3M91.7 137.6V141.7M101.5 144.5V152.7M105.7 150.5V152.2M34.5 149.9V151.6M36.6 145.3V151.6M37.3 145.3V146.8M39.4 145.6V150.3M40.8 140V144.4M48.5 129.5V137.3M54.8 128.5V131.7M55.5 126V128.5M59.7 112.3V126M63.9 109.8V112.8M64.6 88.2V109.8M70.9 68.3V82.1M75.8 58.5V67.9M80 45.1V69.3M80.7 56.7V69.3M84.9 39.1V45.5M85.6 45.5V50.7M87 29.6V46.8M89.1 37.4V47M89.8 37.4V56M92.6 29.8V58.1M95.4 66.7V67.9M97.5 79.5V84.8M98.9 94.5V98M102.4 104.7V107.4M103.1 107.4V132.1M112.2 145.5V147.7M113.6 149.2V150.4M122.7 153V154.9M123.4 154.2V155.4M127.6 154.4V156M31 155.4V156.6M33.1 155V156.2M37.3 152.6V153.8M38 152.2V153.4M40.1 150.4V152.6M41.5 144.8V146M42.2 145.4V146.6M42.9 141.3V146.6M45 149.8V152.2M49.9 134.6V144M54.8 133.1V141.8M56.9 125.1V127M57.6 127V129.5M58.3 129.5V133.5M60.4 112.8V122.9M61.1 112.8V127.8M66.7 105.1V116.2M69.5 107.9V109.6M70.9 90.7V99.2M72.3 82V97M75.8 74.4V85.2M78.6 56V63.2M80.7 76.8V78.5M85.6 51.8V53M86.3 42.8V51.9M95.4 47.9V51.8M99.6 64.2V73.5M110.1 130.8V136.6M114.3 147.3V154.2M115.7 150.3V152.5M122 155.2V156.4M124.8 153.4V155.5M7.4 155.4V156.6M10.9 154.1V156M11.6 154.1V155.3M13 151.8V154.1M15.8 144V146.3M21.4 125.7V126.9M22.8 135.2V138M23.5 135.2V140.2M24.9 143.9V145.5M25.6 145.5V153.3M26.3 150V153.3M29.1 152V154.7M31.9 155.4V156.6M36.1 154.6V156M8.8 154.9V156.1M15.1 152.9V156M18.6 141.6V147.5M20 130.3V138.6M22.1 127.9V132.9M27 143.3V145.3M28.4 144V153.2M32.6 154.9V156.1M34 155.4V156.6M36.8 154.5V156" stroke="#000" stroke-opacity="0.6" stroke-width="1.4" fill="none"/>
<path d="M0.3 122.2V123.4M8.7 74.4V80.8M9.4 74.4V84M12.2 51.1V62.8M13.6 51.6V54.7M17.1 43V64.5M17.8 43V52.8M24.8 66.2V74.7M29.7 105.8V120.9M30.4 120.9V123.4M31.1 122.9V124.1M34.6 133.3V141.1M38.1 149.7V150.9M39.5 150.1V151.5M40.2 151.5V155.2M43 152.5V154.5M1 154.1V156M5.2 116.3V125.5M17.8 34.5V38.8M32.5 96.5V125.3M33.2 117.9V125.3M43 150.7V154.5M21 155.4V156.6M23.1 154.5V156M26.6 152.9V156M28 153.8V155M30.1 144.1V153M33.6 87.8V118.7M41.3 48.7V53.6M42 48.7V71.6M43.4 50.1V55.7M47.6 42.9V51.8M49 58.2V76.5M51.1 60.4V71.3M58.1 74.7V77.9M59.5 77.9V92.2M62.3 75.7V102M65.8 87.7V91.1M66.5 87.7V100.1M70 97.1V103.3M70.7 102.3V103.5M73.5 113.2V122M76.3 115.3V124.6M77 121.9V124.6M79.8 123.8V129M88.2 139.3V140.7M90.3 141.7V147.9M94.5 146.9V150.6M99.4 147.8V151.5M104.3 149.4V156M23.1 154V155.2M25.2 155.4V156.6M28 155V156.2M30.8 154.9V156.1M39.9 40.4V43.5M46.2 41.5V48.9M46.9 48.9V70.4M51.8 50.1V76.3M58.1 70V77.3M59.5 57.2V80M63.7 77.7V92.4M65.1 80.5V85.5M79.1 114.9V125.8M93.1 139.6V143.2M97.3 144.3V148M98.7 146.6V153.1M100.8 144.5V146.9M102.9 148.2V150.1M33.1 150.6V152.7M35.9 151.6V153.2M38 145.7V146.9M42.2 138.7V140.6M45.7 138.9V143.7M47.1 130.9V137.2M47.8 136.7V137.9M50.6 135V138.4M52 132.7V134M52.7 127.3V134M53.4 127.3V130.1M63.2 112.2V113.4M66.7 87.4V99.5M70.2 68.3V96.1M77.2 61.3V66.4M79.3 45.1V75.8M90.5 36.3V56M94 47.9V76M96.8 69.9V79.5M101 99.4V103.1M103.8 127V132.1M104.5 127V128.2M105.9 127.6V134.3M106.6 127.6V132.5M107.3 132.5V139.6M110.1 146.8V148.1M110.8 144.6V148.1M112.9 145.5V150.1M114.3 149.6V154.2M115.7 153.6V155.9M116.4 153.6V156M117.8 152.1V153.3M124.8 154.8V156M126.9 154.4V155.9M50.6 131.4V134.6M51.3 131.4V139.6M61.8 106.8V127.8M66 98.2V105.1M77.9 56V79.3M80 58.1V78.5M88.4 38.4V55.6M89.1 38.4V47.7M98.9 56.2V64.2M102.4 87.2V102.1M103.1 87.2V108M6 155.4V156.6M8.8 153.4V156M13.7 151.1V154.1M16.5 139.6V144M18.6 130.7V134M19.3 128.3V130.7M20.7 124.5V126.3M32.6 155.4V156.6M33.3 155.4V156.6M34.7 153.9V155.1M15.8 151.8V153M17.2 147.5V151.5M31.2 154.1V155.3" stroke="#000" stroke-opacity="0.85" stroke-width="1.4" fill="none"/>
<path d="M0 0H155.0V156.0H0Z" stroke="#333" stroke-width="1.05" fill="none"/>
<text x="0.6" y="-1.2" font-family="Liberation Mono, monospace" font-weight="bold" font-size="4.6" fill="#222" textLength="42.3" lengthAdjust="spacingAndGlyphs">SINGLE PARAMETER</text>
<text x="2.3" y="162.2" font-family="Liberation Mono, monospace" font-weight="bold" font-size="5" fill="#222" text-anchor="middle">1</text>
<text x="37.0" y="162.2" font-family="Liberation Mono, monospace" font-weight="bold" font-size="5" fill="#222" text-anchor="middle">1</text>
<text x="76.0" y="162.2" font-family="Liberation Mono, monospace" font-weight="bold" font-size="5" fill="#222" text-anchor="middle">10</text>
<text x="115.0" y="162.2" font-family="Liberation Mono, monospace" font-weight="bold" font-size="5" fill="#222" text-anchor="middle">100</text>
<text x="148.6" y="162.2" font-family="Liberation Mono, monospace" font-weight="bold" font-size="5" fill="#222" text-anchor="middle">1000</text>
<text transform="translate(-2.2 2.3) rotate(-90)" font-family="Liberation Mono, monospace" font-weight="bold" font-size="4.6" fill="#444" text-anchor="middle">20</text>
<text transform="translate(-2.2 39.0) rotate(-90)" font-family="Liberation Mono, monospace" font-weight="bold" font-size="4.6" fill="#444" text-anchor="middle">15</text>
<text transform="translate(-2.2 77.0) rotate(-90)" font-family="Liberation Mono, monospace" font-weight="bold" font-size="4.6" fill="#444" text-anchor="middle">10</text>
<text transform="translate(-2.2 115.5) rotate(-90)" font-family="Liberation Mono, monospace" font-weight="bold" font-size="4.6" fill="#444" text-anchor="middle">5</text>
<rect x="-5.2" y="153.4" width="2.2" height="1.4" fill="#111"/>
</g>
<g transform="matrix(1.0006 0.0013 0.0006 1.0045 362.45 231.00)">
<path d="M1 112.1V113M1.7 124.7V126.9M3.1 104.8V106.3M10.1 62V62.9M10.8 69.7V70.5M11.5 65.5V71.5M12.9 56V67.1M13.6 42.8V55.7M17.8 30.5V47.3M19.2 54.5V56.6M22 53.2V68.6M22.7 64.4V67.3M23.4 59.4V62.1M25.5 90.6V103.3M30.4 116.1V119.7M33.2 135.3V136.7M37.4 156V156M39.5 149.5V150M40.2 155.5V156M43 155.1V156M43.7 154.6V155.5M47.2 156V156M27.4 155.1V155.5M30.2 147.6V148M30.9 155.2V156M31.6 141.5V146.9M33 141.2V141.9M35.1 143.9V145.7M36.5 130.1V130.8M45.6 97.8V128.6M47 103.4V111M51.9 87.9V92.7M52.6 61.1V64.2M54 63.9V70.6M54.7 43.2V57.5M55.4 42.8V53M56.8 44.7V60M57.5 52V64.4M60.3 54.2V57.5M61.7 31V35.5M63.8 50V53.8M65.9 38.8V100.9M68 51.7V69.9M68.7 50.7V68.2M69.4 59.8V77.8M70.8 38.6V58.3M71.5 61.5V62.6M72.2 76.6V85.3M72.9 77.9V82.1M75.7 84V93.1M79.9 70V77.9M82.7 105.7V111.5M84.1 112.9V121.6M91.8 117.3V118.1M93.2 130.3V136.9M93.9 127.8V130.1M94.6 130.3V134.5M97.4 135.6V156M98.1 138.3V143.5M101.6 151V156M103 141.1V141.2M105.8 148.6V151.2M106.5 150.6V151.1M109.3 150V151.3M116.3 155.3V156M117.7 155.4V156M118.4 156V156M119.1 153.6V154.4M120.5 156V156M121.2 153.8V153.9M37.1 155.1V155.1M38.5 156V156M42 154.7V155.1M42.7 151.7V153.2M44.1 156V156M46.9 156V156M47.6 148.8V149.5M48.3 147.5V150.5M50.4 151.2V152.1M51.8 150.8V151.8M58.8 144.2V146.5M60.2 128.8V129.4M61.6 133.9V134.7M65.1 119.6V122.6M65.8 114.4V118.8M66.5 116.8V121.6M73.5 95.3V113.9M76.3 101.8V106.4M78.4 96.3V96.5M79.8 91V99.7M81.9 63.9V93.7M84.7 58.4V60.5M88.2 57V58.7M88.9 51.6V62.3M90.3 34.2V43.2M92.4 44.1V61.9M93.8 28.1V36.3M95.2 40.6V43.4M95.9 40.6V73.7M96.6 34.3V48.4M97.3 45.6V62.5M100.1 55.4V59.8M104.3 93V93.7M105.7 90.9V91.2M107.8 84.5V99.4M108.5 94.2V96.8M111.3 103.2V104.4M114.8 139.1V154.2M119 140.5V143.4M119.7 144.2V144.7M120.4 141.2V142.6M121.8 145.2V149.6M126 152V153.4M130.2 152.9V153.6M132.3 155V155.5M133 154.9V154.9M136.5 156V156M140.7 156V156M141.4 156V156M142.8 156V156" stroke="#000" stroke-opacity="0.22" stroke-width="0.8" fill="none"/>
<path d="M0.3 136.1V156M1.5 132.7V156M3.9 146V156M8.1 148.5V156M9.9 149.2V156M15.9 154.4V156M16.5 143.1V156M17.1 154.7V156M17.7 153.5V156M21.9 146.1V156M22.5 130V156M26.7 143.3V156M29.1 132.4V156M30.9 152.6V156M31.5 146.9V156M33.9 155.5V156M39.3 147.3V156M40.5 146.3V156M41.7 154.5V156M44.1 154.7V156M47.1 154.5V156M47.7 143.1V156M48.3 154V156M49.5 133.5V156M50.1 147.8V156M50.7 149.6V156M53.1 126V156M56.7 136.6V156M57.3 152.6V156M60.3 126V156M60.9 126V156M63.3 126V156M66.3 154.7V156M68.1 138.3V156M69.3 126V156M71.1 142.4V156M72.9 126V156M74.7 126V156M77.1 152.1V156M78.9 126V156M80.1 143.4V156M87.9 134.7V156M88.5 147V156M90.9 144.5V156M93.3 126V156M96.9 152.6V156M97.5 137.3V156M98.7 139.9V156M103.5 126V156M104.1 145.6V156M105.3 145.3V156M107.1 145.6V156M108.9 126.1V156M110.1 142.1V156M110.7 152.9V156M111.9 153V156M113.1 153.8V156M113.7 155.7V156M114.9 155V156M117.3 153.8V156M119.1 130.4V156M120.3 155.7V156M121.5 155.2V156M125.1 153.3V156" stroke="#000" stroke-opacity="0.22" stroke-width="0.8" fill="none"/>
<path d="M0.3 154.8V156M0.9 146.4V156M1.5 154.2V156M2.1 149.8V156M2.7 153.2V156M3.3 154.9V156M3.9 154V156M4.5 146.4V156M5.1 152.3V156M5.7 153V156M6.3 155V156M6.9 154.2V156M8.1 153.4V156M8.7 155V156M9.3 151.9V156M9.9 148.1V156M12.3 155.1V156M12.9 153.7V156M13.5 154.7V156M14.1 149.6V156M15.3 153.1V156M15.9 150.6V156M17.1 146.4V156M18.3 151.7V156M19.5 147.3V156M20.1 153.3V156M20.7 146.4V156M21.9 155.2V156M23.1 153.3V156M23.7 153.8V156M24.3 153.5V156M24.9 151.5V156M25.5 151.7V156M26.1 152.4V156M26.7 153.9V156M27.3 152.6V156M27.9 152.2V156M28.5 153V156M29.1 153V156M29.7 153.2V156M30.3 153.2V156M30.9 153.7V156M31.5 149.9V156M32.1 153V156M32.7 152V156M33.9 147.4V156M34.5 155V156M35.1 149.3V156M36.3 155V156M36.9 154.9V156M37.5 151V156M38.1 151.7V156M39.3 153.1V156M39.9 152.7V156M40.5 154.7V156M41.1 151.2V156M42.9 154.6V156M44.1 152.6V156M44.7 151.3V156M45.3 151.9V156M45.9 154.6V156M46.5 152.9V156M47.1 151.2V156M47.7 146.4V156M48.9 153.2V156M49.5 153.1V156M50.1 151.1V156M51.3 146.4V156M51.9 154.5V156M52.5 152.6V156M53.7 155V156M54.3 149.3V156M54.9 153.3V156M55.5 146.4V156M56.1 154.1V156M56.7 152.7V156M57.9 154.6V156M58.5 146.4V156M60.3 154.5V156M60.9 153V156M61.5 151.5V156M62.1 146.4V156M62.7 152.5V156M63.3 146.4V156M63.9 154V156M64.5 151.7V156M65.1 153.7V156M65.7 154.7V156M66.3 152.2V156M66.9 147.9V156M67.5 152.2V156M68.1 154.2V156M68.7 152.6V156M69.3 153.8V156M69.9 152V156M70.5 152.8V156M71.1 153.9V156M71.7 148.9V156M72.3 151.9V156M72.9 152.1V156M73.5 149.9V156M74.1 154.2V156M74.7 154.4V156M75.3 154.9V156M75.9 154.9V156M76.5 155.3V156M77.1 153.7V156M77.7 155V156M78.3 155V156M78.9 150.6V156M79.5 153V156M80.7 148.7V156M82.5 151.9V156M83.1 149.4V156M83.7 154.9V156M84.3 153.1V156M85.5 153.9V156M86.1 152.6V156M86.7 146.4V156M87.3 150.3V156M87.9 151.5V156M88.5 154.5V156M89.7 151.1V156M90.3 154.4V156M90.9 147V156M92.1 155.2V156M92.7 154.7V156M93.3 147.7V156M93.9 153.8V156M94.5 154.2V156M95.1 152.6V156M96.3 150V156M96.9 155.1V156M97.5 153V156M98.1 153.7V156M98.7 154.4V156M99.3 153.6V156M99.9 154.5V156M100.5 154.7V156M101.1 154.2V156M101.7 149.3V156M102.3 146.4V156M102.9 149.2V156M103.5 149.7V156M104.1 152.2V156M104.7 152.5V156M105.3 146.4V156M106.5 152.3V156M107.1 150.6V156M107.7 155.1V156M108.9 151.1V156M109.5 153.8V156M110.7 149.6V156M111.9 150.2V156M112.5 149.7V156M113.1 154.8V156M113.7 154.7V156M114.3 149.2V156M114.9 146.4V156M115.5 152.8V156M116.1 154.3V156M116.7 146.4V156M117.3 150.2V156M118.5 154.8V156M119.1 154V156M119.7 155.2V156M120.3 153.5V156M121.5 146.4V156M122.7 153.8V156M123.3 154.6V156M123.9 155V156M124.5 154.5V156M126.3 154.6V156M128.1 151.4V156M128.7 154.9V156M129.3 149.2V156M129.9 151.2V156M131.1 152.8V156M131.7 150.5V156M132.9 152.5V156M133.5 154.2V156M134.7 152.6V156M135.3 146.4V156M135.9 155.1V156" stroke="#000" stroke-opacity="0.6" stroke-width="0.9" fill="none"/>
<path d="M0.3 118.6V122.7M1.7 110.9V112.1M2.4 108V115.8M4.5 111.8V112.4M5.2 101.4V102.4M5.9 101.7V102.4M6.6 70.6V78.5M7.3 72V78.5M8 76.8V80.3M8.7 78.2V81.8M9.4 54.7V64.6M10.1 51.8V62M10.8 60.5V62M12.2 62V65.5M13.6 38.9V42.8M14.3 36.8V39M15 27.7V39M15.7 37.2V37.5M16.4 35.5V37.5M17.1 49.8V50.6M17.8 24.8V30.5M18.5 24.8V30.5M19.2 30.7V39.3M20.6 38.4V39.1M21.3 35.5V39.1M22.7 50.1V53.2M23.4 54.4V59.4M24.1 52V53.3M24.8 52.2V53.3M27.6 99V100.5M28.3 95.8V100.5M29 98.3V106.3M29.7 104.8V106.3M30.4 114V116.1M31.8 109.2V116.9M32.5 131.1V132.7M33.2 135V135.3M33.9 135.1V135.3M35.3 140.4V142.6M36 144.1V145.1M37.4 143.9V148.7M38.1 150.3V152.3M38.8 151V151.2M39.5 146.5V149.5M40.2 148.2V149.5M40.9 153.3V155.1M41.6 149V151.7M43 152.5V155M43.7 152.6V154.3M44.4 152.4V154M45.1 151.6V154.6M45.8 153.1V155.4M47.9 155.1V155.4M48.6 150.2V153.4M49.3 153.3V153.4M50 151.4V154.6M27.4 152.6V154.5M28.1 146.8V149.1M28.8 148.7V149.1M29.5 145V148.9M30.2 144.4V147.6M30.9 145.3V147.6M31.6 139.2V141.5M32.3 137.3V141.5M33 137.8V141.2M33.7 138.5V141.2M34.4 138.9V141.2M35.1 139.7V141.2M35.8 123.3V129.4M36.5 122.8V129.1M37.2 123.4V123.8M38.6 117.1V124.1M39.3 121.9V124M41.4 115.3V116.3M42.8 112.4V116.6M43.5 104V112.1M44.2 101.5V102M44.9 101.7V102M46.3 97.6V97.7M47 90.3V98.8M47.7 90.1V99.2M48.4 91.3V94.5M49.1 84.8V87M49.8 81.4V83.4M50.5 59V66.8M51.2 60.2V66.8M51.9 84.3V85M52.6 55.6V61.1M53.3 60.3V61.1M54 61V63.9M54.7 37.6V43.2M55.4 31.8V42.4M56.1 36.6V42.8M56.8 34.5V44.7M57.5 34.8V44.7M58.2 39.8V41.6M58.9 40.6V41.6M59.6 49.4V57M60.3 52.4V54.2M61 20V31.1M62.4 30.3V31M63.1 26.8V35.2M63.8 30.8V35.2M64.5 36.6V36.6M65.9 37V38.8M66.6 35.6V38.8M67.3 42.9V51.2M70.1 54.3V59.8M70.8 36.1V38.6M71.5 36V38.6M72.2 53.9V61.5M72.9 70.7V76.6M74.3 61.8V69.8M75 50.6V51.5M75.7 46.3V51.5M76.4 62.3V72.8M77.1 71.5V72.8M77.8 55.8V63M78.5 60.7V63M79.2 68.8V72.4M79.9 60V70M80.6 61.7V69.9M81.3 69.1V70.9M82 78.2V79.5M82.7 96.7V96.9M83.4 95.6V104.9M84.1 97.8V105.3M84.8 85.6V87.2M85.5 78.2V87.2M86.2 103.5V103.6M86.9 101.9V104.1M87.6 95V97.5M88.3 95.4V97.5M89 102.7V106M89.7 101.9V106M90.4 110.8V114.9M91.1 119.8V120.3M92.5 117.2V117.3M93.2 129.4V129.8M93.9 122.3V127.8M94.6 126.5V127.8M95.3 125V125.9M96 118.9V125.9M96.7 130.2V134.8M97.4 130.5V134.6M98.1 132V135.6M98.8 132.8V136.2M99.5 130.5V136.2M100.9 130V136.2M101.6 141.7V146.7M103 139V141.1M103.7 138.3V141.1M104.4 148.2V149.3M105.1 148.4V149.6M105.8 143.2V148.6M106.5 143.3V148.6M107.2 144.4V149.4M107.9 149V149.4M109.3 143.1V146.4M110 149V150M110.7 146.7V148.3M112.1 148.6V148.8M112.8 148.7V148.8M113.5 145.2V149.2M114.2 147.1V149.2M114.9 152.4V153.9M115.6 151.1V152.4M116.3 151.8V152.4M117 154.7V155.1M117.7 152.3V155.1M119.1 152.2V153.6M119.8 153.3V153.6M120.5 155.2V155.2M121.2 153.7V153.8M36.4 152.3V152.4M37.1 150.3V153M37.8 152.9V154M38.5 153.2V154.2M39.2 151.2V152.1M39.9 150V150.5M41.3 147.7V148.1M42.7 150.2V151.7M44.8 142.5V145.5M45.5 144.7V145.1M46.2 140.5V145.5M46.9 144.7V146.3M47.6 147.9V148.8M48.3 142.3V147.5M49 145.3V147.3M49.7 145.8V146.8M51.1 144.1V147.2M51.8 145.2V147.2M53.2 141.1V142.2M53.9 136.2V142.2M54.6 140.4V143.5M55.3 142.6V142.8M56 133.8V140.1M56.7 131V134.2M57.4 133.2V134.2M58.1 133.2V134.9M58.8 133.8V134.9M60.2 125.6V128.8M63 119.8V120M63.7 112.7V120M64.4 122.1V129.6M65.8 106.7V114.4M66.5 112V114.4M67.2 103.5V111.5M67.9 107.7V111.5M68.6 113.1V114.9M70 113.7V114.9M70.7 110.2V113.6M71.4 95.8V103.8M72.8 99.3V101.9M73.5 89.3V95.3M74.2 93.2V95.3M74.9 98.4V98.7M76.3 91.3V100.8M77.7 80.7V86.3M78.4 79.2V86.3M79.1 92.1V95M79.8 90.8V91M80.5 68.4V69.8M81.2 65V69.8M81.9 56.3V63.9M83.3 67.4V72.5M84 50.4V61.1M84.7 47.6V58.4M86.1 53.5V61.2M86.8 61.7V63.1M87.5 54.5V63.1M88.2 54.2V57M88.9 44.9V51.6M89.6 24.8V34.8M90.3 24V33.9M91 22.7V34.2M91.7 30.5V36.9M92.4 34.3V36.9M93.1 15.1V26.7M93.8 17.3V26.7M94.5 24.9V25.7M95.2 14V25.7M95.9 37V40M96.6 28.5V34.3M97.3 22.7V34.3M98 33.6V45.3M99.4 39.7V43.7M100.1 40.8V43.7M101.5 43.2V52.2M102.2 65.3V67.3M103.6 63.8V65.4M104.3 63.1V65.4M105 84.7V92.7M106.4 85.4V90.9M107.1 91.9V94M107.8 74.8V84.5M108.5 75V84.5M109.2 92.3V94.2M110.6 106.5V110M112 94.7V103.2M112.7 111V112.7M113.4 112.1V113.7M114.1 125.6V125.6M114.8 123.8V125.6M115.5 117V121.5M116.2 119V121.5M116.9 123.6V130.7M117.6 145.4V145.7M118.3 135.2V137M119 134.4V137M119.7 134V140.5M120.4 137.5V141.2M121.1 135.7V137.7M121.8 134.4V137.7M122.5 144.8V145.2M123.2 147.4V149.3M123.9 147.2V149.3M124.6 148V153.2M125.3 148.3V149.6M126 146.3V149.6M126.7 150.7V152M127.4 151.2V152.5M128.1 148.1V152.5M128.8 150.9V151.6M129.5 151.6V151.6M130.2 151.3V152.9M130.9 151.8V152.9M131.6 151.5V152.5M132.3 152V152.5M133.7 154.8V154.8M134.4 153.9V154.8M135.1 154.1V154.8M135.8 150.9V151.5M136.5 151.1V151.5M137.2 153V155.1M137.9 154.7V155.1M140 152.3V155.1M140.7 153.6V155.4M141.4 152.9V155.4M142.1 155.1V155.4M142.8 154.7V155.4M144.2 152.5V153.4M144.9 155V155.4M146.3 151.9V153.9" stroke="#000" stroke-opacity="0.3" stroke-width="0.8" fill="none"/>
<path d="M5.9 102.4V104.1M14.3 39V42.8M18.5 30.5V39.3M22 43.2V53.2M22.7 53.2V64.4M24.1 53.3V59.4M29 106.3V110.7M30.4 116.1V118M31.8 116.9V132.7M33.9 135.3V141.2M34.6 141.2V142.6M35.3 142.6V148.4M37.4 148.7V156M39.5 149.5V151.3M46.5 154.4V156M0.3 155V156.2M2.4 119.6V120.8M5.2 122.5V131.3M5.9 114.4V122.5M6.6 95.7V114.4M7.3 93.9V95.7M8.7 85.4V105M10.1 80.3V86.6M11.5 70.2V73.5M13.6 64.1V79.3M14.3 49V64.1M15 49V71.8M15.7 71.4V72.6M18.5 29.4V51.9M22 27.1V57.2M22.7 27.1V51M23.4 50.6V51.8M24.1 50.3V51.5M24.8 44.9V50.4M26.2 46.9V65.3M27.6 76.7V80.8M29.7 81.4V98.1M30.4 91.4V98.1M31.8 112.2V117.6M32.5 109.2V112.2M33.2 109.2V116.8M33.9 116.8V127.3M36.7 139.7V140.9M38.8 151.3V153M39.5 147.6V151.3M41.6 154V156M43 155.2V156.4M44.4 150.1V154.7M33 141.2V152.1M38.6 124.1V126.1M39.3 124V125.2M43.5 112.1V123.1M48.4 94.5V99.2M50.5 66.8V83.4M53.3 61.1V69.9M54.7 43.2V63.9M55.4 42.4V43.6M56.8 44.7V50.2M63.1 35.2V54.7M64.5 36.6V50M66.6 38.8V51.2M68.7 50.6V51.8M73.6 77.9V79.4M77.1 72.8V88.5M79.9 70V76M86.9 104.1V106M89 106V116.7M97.4 134.6V135.8M99.5 136.2V142.3M100.2 136.2V142.3M103 141.1V145.5M103.7 141.1V149.3M108.6 146.4V156M110 150V155.1M115.6 152.4V156M117.7 155.1V156.3M119.8 153.6V155.6M28.1 153.4V156M28.8 151.6V153.4M29.5 150.7V151.9M30.2 151V152.5M32.3 144.8V154.3M33.7 148.7V149.9M34.4 148.9V152.4M35.1 151.6V152.8M35.8 148.4V152.1M39.3 132.7V143.6M40 123.9V132.7M40.7 123.6V124.8M41.4 124.5V134.6M42.8 116.9V136.1M44.2 116.5V121.4M44.9 105.1V121.4M48.4 100V103M50.5 83.9V88.1M51.9 76.7V99.9M52.6 71.9V76.7M56.1 63.1V69.5M56.8 55.3V63.1M57.5 55.3V64.7M58.2 40.2V64.7M61 33.7V35.1M61.7 33.7V50.3M63.1 51.8V60.6M63.8 36.3V60.6M65.2 46.5V57.4M65.9 44V57.4M66.6 33.9V44M68 31.1V41.6M72.2 40.4V45.3M72.9 44.3V45.5M73.6 44.5V54.5M75 47.2V50.3M76.4 62.9V76M79.9 68.5V75.3M80.6 75.3V91.3M81.3 79.2V91.3M83.4 82.6V88.4M84.1 80.5V88.4M85.5 92.2V94.2M86.2 92.2V100.1M87.6 102.9V113.2M88.3 96.3V113.2M89 96.3V105.1M89.7 105.1V113.3M92.5 116.6V121.2M93.2 112.2V116.6M96 117.9V130.5M96.7 117.9V135.1M97.4 124.9V135.1M99.5 131V137.1M100.2 137.1V146.3M100.9 141.3V146.3M103.7 140.2V145.5M105.8 144.1V145.3M110 154.9V156.1M112.1 147.7V156M116.3 150.9V153.7M117 150.9V156M37.1 153V155.1M43.4 151.7V156M45.5 145.1V146.3M47.6 148.8V156M48.3 147.5V148.8M51.1 147.2V151.2M52.5 146.5V150.8M54.6 143.5V146.9M55.3 142.8V144M59.5 137V144.2M61.6 133.9V137.7M64.4 129.6V130.8M65.1 119.6V130.4M68.6 114.9V116.1M83.3 72.5V73.7M84.7 58.4V61.1M86.8 63.1V71.3M89.6 34.8V51.6M90.3 33.9V35.1M91 34.2V41.1M91.7 36.9V41.1M93.1 26.7V44.1M93.8 26.7V28.1M105.7 90.9V93.5M106.4 90.9V94M109.2 94.2V111.1M112.7 112.7V113.9M114.1 125.6V130.9M114.8 125.6V139.1M115.5 121.5V139.1M116.2 121.5V130.7M118.3 137V147.2M120.4 141.2V144.2M124.6 153.2V154.6M125.3 149.6V153.2M134.4 154.8V156M142.1 155.4V156.6M146.3 153.9V155.7M39.2 150.1V156M39.9 153.9V156M40.6 153.9V156M41.3 155.3V156.5M42 155.3V156.5M43.4 154.2V155.4M51.1 143.8V147.6M52.5 141.7V155.4M53.2 141.7V146.6M56 138.4V148M58.1 139V146.5M61.6 135.5V136.7M65.8 127.5V131.3M67.9 116.5V117.7M68.6 116.5V123.1M70.7 106.2V128.6M72.1 108.1V110.7M73.5 107.6V113.2M74.9 99.1V111.6M76.3 91.1V113.2M77 91.1V92.6M77.7 80.2V92.6M79.1 91.7V93.4M83.3 83.1V90.7M85.4 82.7V85.2M86.8 58.1V71.3M88.2 54.1V65.8M90.3 48.8V60M91.7 58.1V71M92.4 58.5V71M95.9 29.8V50.1M96.6 34.6V50.1M97.3 34.6V61.6M98 57.3V61.6M101.5 33.9V60.3M104.3 55.3V64.9M105 64.9V73.4M107.8 67.6V94.8M111.3 86.2V101M113.4 99.3V109.7M114.1 109.7V112.9M116.2 123.5V129.8M117.6 127.9V135.1M120.4 137.4V147.8M121.8 136.3V137.5M126 146.7V155.2M128.8 144.9V151.3M133.7 154.6V155.8M135.8 150.3V154.3M137.9 155.4V156.6M140 155.2V156.4M140.7 155.4V156.6M141.4 155.4V156.6M142.8 155.4V156.6M144.9 154.4V155.6M145.6 154.5V156" stroke="#000" stroke-opacity="0.2" stroke-width="1.4" fill="none"/>
<path d="M0.3 122.7V123.9M5.2 102.4V112.4M9.4 64.6V88.3M11.5 65.5V69.7M15.7 37.5V41.9M16.4 37.5V52.8M17.1 50.6V52.8M31.1 115.9V117.1M36 145.1V148.4M41.6 151.7V156M42.3 151.7V156M45.1 154.6V156M47.9 155.4V156.6M12.9 78.3V79.5M21.3 57.2V61.5M26.9 65.3V76.7M36 139.7V140.9M38.1 145.6V153M40.2 147.1V148.3M40.9 147.8V156M42.3 154V156M43.7 150.1V155.7M46.5 155.4V156.6M47.9 155.4V156.6M48.6 155.4V156.6M49.3 153.7V156M27.4 154.5V155.7M28.8 149.1V156M29.5 148.9V156M30.2 147.6V148.9M33.7 141.2V146.9M34.4 141.2V146.9M40.7 116.7V125.2M42.1 116.3V117.5M44.9 102V107.6M49.8 83.4V87M51.9 85V87.9M60.3 54.2V57.7M61 31.1V54.2M71.5 38.6V61.5M72.2 61.5V76.6M75.7 51.5V84M77.8 63V88.5M79.2 72.4V76M85.5 87.2V104.4M91.8 117.3V133.1M93.2 129.8V131M96.7 134.8V138.1M100.9 136.2V146.7M101.6 146.7V151M104.4 149.3V150.5M106.5 148.6V150.6M107.2 149.4V150.6M111.4 148.3V151.6M112.1 148.8V151.6M113.5 149.2V156M117 155.1V156.3M118.4 155.1V156.3M120.5 155.2V156.4M27.4 155.4V156.6M30.9 152.1V153.3M31.6 144.8V153M37.2 144.2V145.4M37.9 135.5V144.2M42.1 134.6V136.1M43.5 116.1V117.3M45.6 105.1V114.6M46.3 107.8V114.6M49.1 100.6V103M53.3 71.9V84.3M54 77V84.3M58.9 40.2V63.5M59.6 60.1V63.5M60.3 35.1V60.1M62.4 50.3V51.8M67.3 33.9V41.6M68.7 31.1V37.5M69.4 37.5V45.9M70.1 45.9V51.7M75.7 47.2V62.9M78.5 60.9V73M79.2 68.5V73M82 79.2V94.1M84.8 80.5V94.2M91.8 116.8V121.2M93.9 112.2V124.3M98.1 124.9V134.9M104.4 144.9V146.1M107.9 148.4V149.7M113.5 149.9V153.8M114.2 153.8V156M118.4 154.5V155.7M119.1 154.5V155.7M119.8 155.1V156.3M121.2 155.4V156.6M37.8 154V155.2M38.5 154.2V156M39.9 150.5V152.1M42 148.1V154.7M42.7 151.7V154.7M44.1 155.4V156.6M50.4 146.8V151.2M65.8 114.4V119.6M67.9 111.5V115.2M70.7 113.6V114.9M73.5 95.3V101.9M74.9 98.7V108.1M75.6 101V108.1M76.3 100.8V102M94.5 25.7V28.1M95.2 25.7V40.6M97.3 34.3V45.6M107.1 94V110.4M113.4 113.7V130.9M119 137V140.5M119.7 140.5V144.2M121.1 137.7V141.2M121.8 137.7V145.2M126 149.6V152M126.7 152V155.5M127.4 152.5V155.5M130.9 152.9V155M131.6 152.5V155M132.3 152.5V155M135.8 151.5V156M136.5 151.5V156M139.3 155.1V156.3M140.7 155.4V156.6M141.4 155.4V156.6M144.2 153.4V156M145.6 155.3V156.5M36.4 155.4V156.6M38.5 150.1V154.8M44.1 152V155.1M44.8 151.5V152.7M46.9 146.4V155.8M47.6 150V155.8M49 144.7V153.1M51.8 147.6V155.4M53.9 146.6V148.7M54.6 139.4V148.7M55.3 139.4V148M56.7 138.4V145.5M57.4 139V145.5M58.8 141.9V146.5M60.2 141.8V143.8M60.9 135.6V141.8M63 125.4V133.3M63.7 125.4V132.7M64.4 132.7V141.3M65.1 131.3V141.3M78.4 80.2V93.4M79.8 86.8V91.7M80.5 85.8V87M81.9 85.2V92.7M82.6 90.7V92.7M84 78.2V83.1M84.7 78.2V85.2M86.1 71.3V82.7M87.5 58.1V65.8M88.9 48.7V54.1M91 58.1V60M93.8 44.1V60.8M98.7 50V57.3M99.4 46.8V50M100.8 50.7V60.3M102.2 33.9V52M105.7 73.4V80.5M106.4 80.5V94.9M109.2 100.8V105.2M112.7 96V99.3M114.8 112.9V125.4M119 125.1V130.3M121.1 136.6V147.8M122.5 137.3V143.7M125.3 142.6V155.2M126.7 146.7V156M132.3 148.3V149.8M133 149.8V155M135.1 150.3V154.5M139.3 152.4V155.7M142.1 155.4V156.6M143.5 154.2V156M146.3 155.1V156.3" stroke="#000" stroke-opacity="0.4" stroke-width="1.4" fill="none"/>
<path d="M1 112.1V123.3M2.4 115.8V124.7M3.1 104.8V115.8M7.3 78.5V80.3M8.7 81.8V88.3M13.6 42.8V56M15 39V41.9M17.8 30.5V50.6M19.2 39.3V54.5M19.9 40.8V54.5M23.4 59.4V64.4M25.5 75.6V90.6M26.9 87.2V107.5M28.3 100.5V110.7M33.2 135.3V139.8M36.7 145.1V148.7M38.8 151.2V152.4M40.2 149.5V155.5M40.9 155.1V156.3M43 155V156.2M43.7 154.3V155.5M44.4 154V155.2M45.8 155.4V156.6M47.2 154.4V156M49.3 153.4V154.6M50 154.6V156M1 155.2V156.4M1.7 120.5V156M3.1 119.6V120.8M3.8 120.4V131.4M8 93.9V105M10.8 70.2V86.6M12.2 73.5V78.5M16.4 45.9V72.2M17.8 29.4V68.7M19.2 37.5V51.9M19.9 26.1V37.5M20.6 26.1V61.5M28.3 80.8V84.3M29 81.4V84.3M31.1 91.4V117.6M34.6 127.3V138.4M35.3 138.4V140.4M37.4 140.4V145.6M45.8 155.4V156.6M50 153.7V156M28.1 149.1V155.1M30.9 147.6V155.2M31.6 141.5V155.2M35.1 141.2V143.9M35.8 129.4V143.9M36.5 129.1V130.3M37.2 123.8V130.1M37.9 123.8V126.1M40 124.5V125.7M41.4 116.3V117.5M45.6 97.8V107.6M46.3 97.7V98.9M47 98.8V103.4M47.7 99.2V103.4M52.6 61.1V87.9M54 63.9V69.9M56.1 42.8V50.2M59.6 57V58.2M61.7 30.4V31.6M63.8 35.2V50M65.2 36.6V52.3M65.9 38.8V52.3M67.3 51.2V53.8M68 51.7V53.8M70.8 38.6V69.4M74.3 69.8V79.4M75 51.5V69.8M80.6 69.9V71.1M82 79.5V96.9M82.7 96.9V105.7M84.1 105.3V112.9M84.8 87.2V112.9M89.7 106V114.9M90.4 114.9V120.3M92.5 117.3V130.4M93.9 127.8V130.3M95.3 125.9V130.3M96 125.9V138.1M98.1 135.6V138.3M102.3 145.5V151M105.1 149.6V150.8M105.8 148.6V150M107.9 149.4V156M109.3 146.4V150M110.7 148.3V155.1M116.3 152.4V155.3M119.1 153.6V156M33 149.7V154.3M36.5 145.4V148.4M38.6 135.5V143.6M47 107.8V113.8M47.7 100V113.8M49.8 83.9V100.6M51.2 88.1V99.9M54.7 69.5V77M55.4 68.9V70.1M64.5 36.3V46.5M71.5 40.4V46.4M74.3 50.3V54.5M77.1 47.6V76M77.8 47.6V60.9M86.9 100.1V102.9M90.4 109.8V113.3M94.6 124.3V133.9M95.3 130.5V133.9M98.8 131V134.9M101.6 132V141.3M102.3 132V142.3M103 140.2V142.3M105.1 144.4V145.6M106.5 140.7V144.9M107.2 140.7V148.4M108.6 149.7V152.2M109.3 152.2V155.1M114.9 153.4V156M117.7 155.1V156.3M120.5 155.4V156.6M36.4 152.4V153.6M39.2 152.1V156M40.6 150.5V155.1M41.3 148.1V155.1M44.8 145.5V156M46.9 146.3V156M49 147.3V148.5M53.2 142.2V146.5M56 140.1V143.4M56.7 134.2V140.1M58.8 134.9V144.2M60.2 128.8V137M60.9 128.8V137.7M62.3 133.9V136M63 120V136M63.7 120V130.1M67.2 111.5V116.8M74.2 95.3V98.7M77 101.8V105.2M81.2 69.8V79.2M82.6 63.9V72.5M85.4 58.4V61.2M86.1 61.2V71.3M87.5 63.1V69M88.9 51.6V57M95.9 40V41.2M98 45.3V46.5M99.4 43.7V62.7M100.1 43.7V55.4M101.5 52.2V67.3M102.2 67.3V86.7M102.9 68.1V86.7M103.6 65.4V68.1M104.3 65.4V93M105 92.7V93.9M108.5 84.5V94.2M112 103.2V112.9M117.6 145.7V147.2M123.2 149.3V155M123.9 149.3V154.6M128.1 152.5V155.4M130.2 152.9V154.4M133 154.3V155.5M135.1 154.8V156M138.6 155.4V156.6M140 155.1V156.3M144.9 155.4V156.6M37.1 155.4V156.6M37.8 154.8V156M48.3 144.7V150M49.7 144.8V153.1M50.4 143.7V144.9M59.5 141.9V143.8M62.3 133.3V136.6M67.2 117.7V119.6M69.3 114.9V123.1M70 114.9V128.6M71.4 106.2V110.7M72.8 108.1V113.2M81.2 85V86.2M89.6 48.2V49.4M93.1 44.1V58.5M94.5 31.6V60.8M95.2 29.8V31.6M100.1 46.8V50.7M102.9 52V55.3M103.6 54.7V55.9M107.1 67.6V94.9M110.6 86.2V111.3M115.5 123.5V125.4M119.7 130.3V137.4M123.2 143.7V150.7M123.9 144.1V150.7M124.6 142.6V144.1M128.1 144.9V150.1M129.5 150.3V151.5M130.2 150.5V153.6M130.9 152.7V153.9M131.6 148.3V153M134.4 154.3V155.5M136.5 152.3V154.3M138.6 152.4V156" stroke="#000" stroke-opacity="0.6" stroke-width="1.4" fill="none"/>
<path d="M1.7 112.1V124.7M3.8 104.8V123.8M4.5 112.4V123.8M6.6 78.5V104.1M8 80.3V81.8M10.1 62V64.6M10.8 62V69.7M12.2 65.5V74.1M12.9 56V74.1M20.6 39.1V40.8M21.3 39.1V43.2M24.8 53.3V75.6M26.2 87.2V90.6M27.6 100.5V107.5M29.7 106.3V118M32.5 132.7V139.8M38.1 152.3V156M48.6 153.4V156M4.5 130.7V131.9M9.4 80.3V85.4M17.1 45.9V68.7M25.5 44.9V46.9M45.1 154.7V156M47.2 155.4V156.6M32.3 141.5V152.1M42.8 116.6V123.1M44.2 102V112.1M49.1 87V94.5M51.2 66.8V85M57.5 44.7V52M58.2 41.6V52M58.9 41.6V57.5M62.4 31V54.7M69.4 50.7V59.8M70.1 59.8V69.4M72.9 76.6V77.9M76.4 72.8V84M78.5 63V72.4M81.3 70.9V79.5M83.4 104.9V106.1M86.2 103.6V104.8M87.6 97.5V106M88.3 97.5V116.7M91.1 120.3V133.1M94.6 127.8V130.3M98.8 136.2V138.3M112.8 148.8V156M114.2 149.2V153.9M114.9 153.9V156M121.2 153.8V156M70.8 46.4V51.7M82.7 82.6V94.1M91.1 109.8V116.8M110.7 149.2V156M111.4 149.2V156M112.8 147.7V149.9M115.6 153V154.2M46.2 145.5V146.7M49.7 146.8V148.3M51.8 147.2V150.8M53.9 142.2V146.9M57.4 134.2V136.8M58.1 134.9V136.8M66.5 114.4V116.8M69.3 115.4V116.6M70 114.9V116.3M71.4 103.8V113.6M72.1 103.8V105.6M72.8 101.9V105.6M77.7 86.3V105.2M78.4 86.3V96.3M79.1 95V96.3M79.8 91V95M80.5 69.8V91M81.9 63.9V79.2M84 61.1V73.7M88.2 57V69M92.4 36.9V44.1M96.6 34.3V40.6M98.7 46.1V62.7M100.8 52.2V55.4M107.8 84.5V110.4M109.9 111.1V123M110.6 110V123M111.3 103.2V110M116.9 130.7V145.7M122.5 145.2V155M128.8 151.6V155.4M129.5 151.6V154.4M133.7 154.8V156M137.2 155.1V156.3M137.9 155.1V156.3M142.8 155.4V156.6M143.5 153.4V156M42.7 154.4V156M45.5 152.1V155.4M46.2 146.4V155.4M66.5 119.6V127.5M74.2 107.6V111.6M75.6 99.1V113.2M108.5 94.8V105.2M109.9 100.8V111.3M112 96V101M116.9 127.9V129.8M118.3 125.1V135.1M127.4 150.1V156M137.2 152.3V156M144.2 154.2V155.4" stroke="#000" stroke-opacity="0.85" stroke-width="1.4" fill="none"/>
<path d="M0 0H155.0V156.0H0Z" stroke="#333" stroke-width="1.05" fill="none"/>
<text x="0.6" y="-1.2" font-family="Liberation Mono, monospace" font-weight="bold" font-size="4.6" fill="#222" textLength="42.3" lengthAdjust="spacingAndGlyphs">SINGLE PARAMETER</text>
<text x="2.3" y="162.2" font-family="Liberation Mono, monospace" font-weight="bold" font-size="5" fill="#222" text-anchor="middle">1</text>
<text x="37.0" y="162.2" font-family="Liberation Mono, monospace" font-weight="bold" font-size="5" fill="#222" text-anchor="middle">1</text>
<text x="76.0" y="162.2" font-family="Liberation Mono, monospace" font-weight="bold" font-size="5" fill="#222" text-anchor="middle">10</text>
<text x="115.0" y="162.2" font-family="Liberation Mono, monospace" font-weight="bold" font-size="5" fill="#222" text-anchor="middle">100</text>
<text x="148.6" y="162.2" font-family="Liberation Mono, monospace" font-weight="bold" font-size="5" fill="#222" text-anchor="middle">1000</text>
<text transform="translate(-2.2 2.3) rotate(-90)" font-family="Liberation Mono, monospace" font-weight="bold" font-size="4.6" fill="#444" text-anchor="middle">20</text>
<text transform="translate(-2.2 39.0) rotate(-90)" font-family="Liberation Mono, monospace" font-weight="bold" font-size="4.6" fill="#444" text-anchor="middle">15</text>
<text transform="translate(-2.2 77.0) rotate(-90)" font-family="Liberation Mono, monospace" font-weight="bold" font-size="4.6" fill="#444" text-anchor="middle">10</text>
<text transform="translate(-2.2 115.5) rotate(-90)" font-family="Liberation Mono, monospace" font-weight="bold" font-size="4.6" fill="#444" text-anchor="middle">5</text>
<rect x="-5.2" y="153.4" width="2.2" height="1.4" fill="#111"/>
</g>
<g transform="matrix(1.0019 -0.0074 0.0026 1.0067 160.70 416.27)">
<path d="M2.4 127.9V132.2M10.8 70.7V90.8M12.9 38.4V71.7M13.6 37.5V48.7M15 43.9V52.4M15.7 40.1V48.9M16.4 33.1V48.1M19.9 47.6V58.4M21.3 50.1V79.5M22.7 41.4V47.4M24.8 80V110.6M25.5 74.9V118.3M30.4 104.2V111.3M31.8 119.8V123.9M34.6 138.2V142.4M38.1 144.1V145.4M40.2 147.3V150.6M43 147.9V149.7M43.7 152.1V152.1M46.5 149.6V149.9M48.6 150.8V151.8M49.3 148.5V150M50 151.5V152.1M50.7 147V147.7M52.8 154.2V154.2M53.5 156V156M54.9 152.4V156M58.4 155.3V156M59.1 153.5V154.4M66.8 156V156M67.5 156V156M20.9 156V156M25.8 153V156M27.9 148.5V149.8M30 143.5V147.9M31.4 126.7V129.1M34.2 85.1V87.6M35.6 79.1V81.3M36.3 69.4V81.3M41.2 40.4V42.5M42.6 62.1V77.5M44 56.8V63.8M49.6 63.3V70.5M50.3 69.8V73.2M51 49.4V75.7M53.8 81.7V130.4M58 58.5V76.5M60.1 85.5V102.7M60.8 74.4V74.8M62.2 91.6V107.2M62.9 81.5V102.9M63.6 86.7V99.8M65 98V128.5M65.7 84V86.1M66.4 92.4V107M67.1 98.4V103.6M68.5 109V127.9M69.2 112.8V132.3M70.6 116.2V118.6M76.2 119.2V127M78.3 113.2V114.5M79 131.9V142.1M79.7 136.7V137.2M83.2 133V136.9M85.3 144.3V149.8M90.2 142.6V143.4M90.9 146.1V146.6M91.6 142.3V143.7M93.7 145.3V150.1M94.4 151.6V152.3M95.1 145.2V146.8M96.5 148.6V151.7M97.2 146.7V147M97.9 154.4V154.7M98.6 148.9V150.7M22.3 156V156M24.4 156V156M30 145.7V146.6M33.5 138.2V139.1M36.3 132.4V134.1M37.7 117.1V121.8M39.1 113.6V116.4M41.9 108.8V113.9M44 115.5V115.7M44.7 106.2V109.7M45.4 108.6V109.8M47.5 96.6V98.7M48.9 92.3V109M49.6 95.7V101.8M53.1 79.5V81.6M53.8 76.9V80.5M55.2 69.7V86.5M57.3 80.1V83.1M60.1 58.5V76.6M62.2 56.8V65.9M66.4 69.9V129M68.5 79.3V81.1M72 80.1V88M72.7 87.4V108.7M73.4 57.4V58M76.9 81.6V100.6M81.1 103.1V110.3M82.5 101V103.6M84.6 104.4V106.3M85.3 112.4V114.7M86 103V106.8M86.7 115V115.3M89.5 132.5V132.6M91.6 136.2V138.5M92.3 132.2V133.7M93 135.6V137.6M93.7 139.2V140.7M97.2 137.7V138.9M97.9 144V146.9M100 148.6V152.4M103.5 144V144.1M105.6 153.8V156M107.7 155.7V155.9M109.1 152V154.4M111.9 156V156M113.3 154.9V156M114.7 156V156M118.9 155.5V156M120.3 156V156" stroke="#000" stroke-opacity="0.22" stroke-width="0.8" fill="none"/>
<path d="M0.3 154V156M1.5 153.3V156M5.1 154.5V156M6.9 151.4V156M8.1 153.7V156M9.3 126V156M9.9 154.4V156M12.9 146.1V156M16.5 126V156M18.9 146.2V156M19.5 126V156M20.7 153.8V156M21.3 147.4V156M25.5 140.7V156M26.1 153.3V156M27.9 150.9V156M28.5 140.6V156M32.1 147.2V156M33.3 133.7V156M35.7 150.8V156M41.7 143.7V156M42.3 132.8V156M45.3 141.1V156M45.9 126V156M46.5 144.3V156M50.1 149.1V156M54.9 146.2V156M56.7 133.9V156M58.5 126.5V156M59.7 126V156M60.9 145.9V156M61.5 149.1V156M63.9 140.5V156M65.7 137.4V156M66.9 143.2V156M67.5 126V156M68.1 127.4V156M69.3 154.4V156M69.9 153.5V156M71.1 127.9V156M75.9 155.6V156M77.1 126V156M77.7 152.2V156M78.3 148.6V156M82.5 126V156M84.3 128.1V156M84.9 146V156M88.5 147.3V156M96.9 140.4V156M101.1 151.1V156M102.9 154.2V156M104.7 149.3V156M106.5 154.8V156M107.1 153.1V156" stroke="#000" stroke-opacity="0.22" stroke-width="0.8" fill="none"/>
<path d="M0.9 152.1V156M1.5 146.4V156M2.1 152.4V156M2.7 151V156M3.3 154.5V156M3.9 148.1V156M4.5 153.8V156M5.1 152.9V156M6.3 154.6V156M6.9 154.7V156M7.5 154.2V156M8.1 147.3V156M9.3 152.6V156M10.5 152V156M11.7 150.1V156M12.3 150.6V156M12.9 153.3V156M13.5 154V156M14.1 146.4V156M15.3 153.1V156M15.9 154.3V156M16.5 152.7V156M17.7 146.4V156M18.9 151.7V156M19.5 155V156M20.1 149.8V156M20.7 151.2V156M21.3 153.5V156M21.9 148V156M22.5 151.8V156M23.1 154.8V156M23.7 151.9V156M24.3 154.3V156M25.5 151.7V156M26.1 151.7V156M26.7 146.4V156M27.9 148.3V156M28.5 147.6V156M29.1 153.5V156M30.3 150.8V156M30.9 154V156M31.5 154V156M32.1 153.6V156M32.7 151.8V156M33.3 151.9V156M34.5 152.8V156M35.1 152.6V156M35.7 153.1V156M36.3 146.4V156M36.9 153.4V156M37.5 150.8V156M38.7 150.4V156M39.3 153V156M39.9 154.2V156M40.5 150.8V156M41.1 155.3V156M41.7 151.5V156M42.3 153.5V156M42.9 152.4V156M43.5 146.4V156M44.1 153.3V156M44.7 155.3V156M45.9 146.7V156M47.1 155.3V156M48.3 151.6V156M48.9 154.4V156M49.5 152.3V156M50.1 146.4V156M50.7 149.5V156M51.3 153.8V156M52.5 154.4V156M53.1 149.9V156M54.3 154.9V156M54.9 153.7V156M55.5 151.2V156M56.1 146.4V156M56.7 154.9V156M57.9 153.2V156M58.5 147.6V156M59.1 151.7V156M59.7 153.9V156M60.3 155.3V156M60.9 154.9V156M61.5 152V156M62.7 150.8V156M63.3 154.2V156M63.9 153.7V156M64.5 154.6V156M65.1 154.3V156M65.7 147.2V156M67.5 153.9V156M68.7 152V156M69.9 155.1V156M71.1 154.1V156M71.7 151.1V156M72.3 146.4V156M72.9 152.7V156M73.5 154.2V156M75.3 152V156M75.9 154.8V156M76.5 152.7V156M77.1 152.2V156M77.7 154.7V156M78.3 154.8V156M78.9 146.4V156M79.5 155.1V156M80.1 153.3V156M80.7 146.4V156M81.3 150.7V156M81.9 150.5V156M82.5 151.5V156M83.1 146.4V156M83.7 146.4V156M84.3 150.1V156M84.9 146.4V156M85.5 154.9V156M86.1 155.2V156M86.7 154.7V156M87.3 150.8V156M87.9 155.4V156M88.5 152.1V156M89.1 152V156M89.7 155.2V156M90.3 152.4V156M90.9 154.8V156M92.1 149.1V156M92.7 155.2V156M93.3 154.4V156M93.9 153.1V156M94.5 152.1V156M95.1 149.4V156M95.7 146.4V156M96.3 146.6V156M96.9 150.6V156M97.5 150V156M98.1 154.8V156M98.7 153.8V156M99.3 154.8V156M100.5 146.4V156M101.1 152.5V156M101.7 146.4V156M102.3 154.6V156M103.5 151.1V156M105.3 152.8V156M105.9 154.2V156M106.5 148.4V156M107.1 151.8V156M108.3 152.5V156M108.9 154.5V156M109.5 155.3V156M110.1 153V156M110.7 154.3V156M111.3 149.6V156M111.9 152.2V156M112.5 151.6V156M113.7 146.4V156M114.3 151.8V156M114.9 153.8V156M115.5 155.3V156" stroke="#000" stroke-opacity="0.6" stroke-width="0.9" fill="none"/>
<path d="M0.3 118.2V124.8M1 124.3V124.3M1.7 116.6V116.9M3.1 101.5V103.3M3.8 95.1V103.3M4.5 106.1V106.2M5.9 87.8V88.7M6.6 84.1V86.1M8 71.7V72.3M8.7 71.1V72.3M9.4 64.5V66M10.1 42.6V52.9M10.8 45.2V52.9M11.5 64.5V70.7M12.2 55.3V66.3M13.6 26.1V37.3M15 41.9V43.9M15.7 39.4V40.1M16.4 32.4V33.1M17.1 31.2V33.1M17.8 38.8V50.5M19.2 41.4V43.2M19.9 31.6V43.2M21.3 47.9V50.1M22 47.7V50.1M22.7 35V41.4M23.4 39.1V41.4M24.1 50.1V55.5M24.8 55V59.9M25.5 64.3V74.9M26.2 66V67.4M26.9 60.9V67.4M27.6 62.8V72.7M28.3 89V92.4M29 97.7V100.7M29.7 99.2V100.7M30.4 103.5V104.2M31.1 103.6V104.2M31.8 116.1V119.8M32.5 117.2V119.6M33.2 117.1V120.5M33.9 114.8V122.6M34.6 115.1V122.6M35.3 134.5V138.2M36 135V138.1M36.7 129.5V133.7M37.4 133.4V133.7M38.1 136.3V141.2M38.8 134.4V138.8M40.2 142.8V142.9M40.9 145.5V145.5M41.6 141.3V145.5M43 141.8V145.3M43.7 147.5V147.9M44.4 146.9V151.1M45.8 148.1V149.2M46.5 148V148.8M47.2 147.1V149.6M47.9 147.1V152.2M49.3 145.8V148.5M50 146.2V148.5M50.7 146.9V147M51.4 145.4V147M52.1 148.2V150.8M52.8 146.1V150.8M55.6 147.9V152.1M56.3 152.2V152.8M57 153.1V153.7M57.7 153.4V155M58.4 154.1V155.1M59.1 152.9V153.5M59.8 150V152.4M60.5 152.4V152.5M61.2 152.4V153.7M61.9 148.7V152.6M64 152.5V153.8M64.7 153.9V154.2M65.4 153V155.4M66.1 153V155M66.8 153.6V155M68.9 154.9V155.3M69.6 154.2V155.4M70.3 154.2V155.4M71.7 153.7V155.3M72.4 155V155.4M20.9 153V155.4M21.6 152.6V154.3M22.3 154.1V154.3M23 151.9V154.4M24.4 151.8V154.3M25.1 149.6V151.1M25.8 151V151.1M26.5 145.7V145.7M27.2 138.8V143.4M27.9 138.5V143.4M28.6 145.3V145.5M29.3 142.6V145M30 142.4V143.5M31.4 120.1V125.9M32.1 116.7V120.6M32.8 109.6V110.2M33.5 90.6V95.5M34.2 76.6V85.1M34.9 81.2V84.5M35.6 77.2V79.1M36.3 66.4V69.4M37 40.6V48.2M39.1 48.1V50M39.8 46.2V50M41.2 29.4V40.2M41.9 30.6V36.3M42.6 35.2V36.3M43.3 45.1V47.9M44 37V47.9M44.7 42.5V44.8M46.1 35.8V46.6M46.8 43.2V46.6M47.5 50.7V55M48.2 44.3V55M48.9 60.2V60.7M49.6 54.7V60.7M50.3 62.9V63.3M51 43.3V49.4M51.7 49.1V49.4M52.4 50.6V51.8M53.8 68V73.3M54.5 61.6V72M55.2 65.6V68.4M55.9 59.3V60.6M56.6 57V59.3M57.3 48.5V58.8M58 56.6V58.4M58.7 52.9V58.5M60.8 68.1V74.4M61.5 66.5V74.4M62.2 78.7V87M62.9 78.6V81.5M63.6 80.8V81.5M64.3 73.5V83M65 81.7V83M66.4 82.5V84M67.1 84.8V92.4M67.8 93.7V98.4M68.5 101V104.8M69.2 108V109M69.9 91.1V92.9M70.6 89.1V92.9M72 101.5V102.5M72.7 109.7V110.8M74.8 108.9V109.6M76.9 111.3V119.2M77.6 127.8V129.9M78.3 113.1V113.2M79 113V113.2M79.7 124.4V131.9M80.4 116.1V121.9M81.1 120.7V121.9M81.8 122.4V127.3M82.5 123V126.9M83.2 120.8V127.7M84.6 128.1V130.5M85.3 137V143.7M86.7 133.2V139.6M88.1 134.1V139.9M88.8 138.1V139.9M89.5 144V146.3M90.9 139.5V142.6M91.6 139.5V142.3M92.3 136.6V139.3M93 139.3V139.3M93.7 144.9V145.3M95.1 143.5V145.2M95.8 140.9V145.2M96.5 145.6V147.6M97.2 146.6V146.7M97.9 144.2V146.7M98.6 147.7V148.9M99.3 148V148.6M100.7 146.4V146.4M102.1 145.8V147.2M103.5 151.5V153.5M104.2 143.5V148.1M104.9 146.5V147.7M105.6 147.4V148.4M106.3 153.6V155.3M20.9 149.9V153.3M21.6 152.9V153.1M22.3 152.6V153.4M23 151.9V153M23.7 144.8V149.5M24.4 148.2V149.5M25.1 151.8V152.1M25.8 147.3V147.9M26.5 141.8V144.2M27.2 140.6V144.2M27.9 141.9V145.1M28.6 136.9V138.6M29.3 136.3V138.2M30 137.1V139M31.4 130.2V136.1M32.8 134.6V138.6M33.5 138V138.2M34.2 127.4V133.8M35.6 133.1V134M36.3 131V132.4M37 132.1V132.4M37.7 116.8V117.1M38.4 115.2V116.9M39.1 111.1V113.6M39.8 113.3V113.6M40.5 115.3V118.2M41.2 106.1V112.8M41.9 105.7V108.8M42.6 104.6V108.8M43.3 104.9V107.6M44.7 104.2V106.2M45.4 105.7V106.2M46.1 85.9V87.4M46.8 85.6V87.4M47.5 92.9V94.3M48.9 73.3V82.4M49.6 84.1V92.3M50.3 79.5V88.8M51 80.3V87.8M51.7 77.9V82.2M52.4 63.2V72.8M53.1 66.1V72.8M55.2 55.9V64.8M55.9 57.9V61.6M56.6 58.5V61.6M57.3 67.6V67.7M58 72.4V76.9M58.7 66.6V76.9M59.4 45.3V52.3M60.1 43.2V52.3M60.8 58.1V58.5M61.5 62.7V66.5M62.2 50.6V56.8M62.9 51.4V56.8M63.6 52.3V56.6M64.3 49V56.6M65.7 43.9V44.2M66.4 43.9V44.2M67.1 54.7V61M67.8 37.6V48M69.2 54.8V56.3M72.7 78.9V80.1M73.4 54.9V57.4M74.1 52.1V57.4M74.8 70.3V70.4M76.9 75.1V80.6M77.6 77.8V81.2M78.3 76.8V76.9M79 67.4V76.9M79.7 79.4V84.6M80.4 80.3V84.6M81.1 96.4V99.9M82.5 95V100.5M83.9 86.8V95.5M84.6 92.3V95.5M85.3 100.5V104.4M87.4 114.4V115M88.1 115.7V117M89.5 123.5V125.7M90.2 126.2V126.7M90.9 122.1V126.7M91.6 131V131.3M92.3 130.7V132.2M93 129.1V132.2M93.7 129.3V135.6M94.4 136V139.2M96.5 125.5V131.8M97.2 136.3V136.9M97.9 131.6V137.7M98.6 139.9V140.3M99.3 139.5V140.3M100 142.3V148.1M100.7 144.8V145.4M102.1 146.5V148.7M102.8 147.9V148M103.5 143.5V144M104.2 142.5V144M104.9 147.5V149.7M105.6 149.5V149.7M106.3 148.3V153.2M107 149.7V153.8M107.7 150.5V155.2M109.1 147.6V149.8M109.8 151.9V152M110.5 144.9V149.3M111.2 148.5V149.3M111.9 149.5V152.8M112.6 150.8V155M113.3 152V154.4M114 148.2V151.1M114.7 147V151.1M115.4 154.1V154.4M116.1 149.8V153.3M116.8 152.6V153.3M117.5 153.3V155.1M118.2 153.8V155.1M118.9 151.8V155.1M119.6 152.1V155.1M121 153.4V153.4M121.7 151.8V153.4M122.4 153V155.1" stroke="#000" stroke-opacity="0.3" stroke-width="0.8" fill="none"/>
<path d="M1.7 116.9V124.5M5.2 98.4V106.2M7.3 81.3V86.1M15.7 40.1V43.9M16.4 33.1V40.1M19.9 43.2V47.6M22 50.1V74.2M24.8 59.9V80M25.5 74.9V80M28.3 92.4V107.8M29 100.7V107.8M31.1 104.2V123.7M32.5 119.6V120.8M33.9 122.6V128.9M43 145.3V147.9M47.9 152.2V154.1M54.2 153.3V156M55.6 152.1V153.3M57 153.7V155.1M63.3 152.6V154.6M64.7 154.2V156M72.4 155.4V156.6M0.3 152.8V154M3.1 118.3V129.3M10.1 90V92.1M10.8 89.2V92.1M11.5 86.3V89.2M12.2 70.3V86.3M17.1 36V49.8M17.8 49.8V61.9M20.6 47.1V48.8M24.1 60.3V67.9M24.8 46.7V60.3M25.5 45.9V47.1M26.2 46.2V66.5M26.9 66.5V75.5M27.6 62.6V75.5M30.4 88.8V91.3M33.2 103.7V114.5M34.6 107.9V118.2M36 121.9V133.3M36.7 131.9V133.3M43 143.2V151.1M44.4 145.6V146.8M45.8 147.8V154.4M47.9 148.9V154.5M48.6 145.9V148.9M50.7 152.3V153.5M55.6 155V156.2M57 150.1V155M57.7 150.1V156M58.4 155.4V156.6M60.5 154.8V156M61.9 153.8V155M62.6 154.6V156M64.7 151.6V156M67.5 155.4V156.6M70.3 155.2V156.4M71 154.9V156.1M20.9 155.4V156.6M22.3 154.3V156M23 154.4V156M27.2 143.4V145.7M29.3 145V146.2M32.8 110.2V120.6M39.8 50V52.4M40.5 41.2V52.4M43.3 47.9V62.1M55.2 68.4V72M61.5 74.4V87M62.9 81.5V91.6M66.4 84V92.4M69.9 92.9V112.8M72.7 110.8V114.9M73.4 114.8V116M83.2 127.7V133M86 140.1V144.3M92.3 139.3V142.3M97.9 146.7V154.4M99.3 148.6V149.8M104.9 147.7V148.9M105.6 148.4V155.8M21.6 155.4V156.6M25.1 155.2V156.4M28.6 151.3V156M29.3 147.6V151.3M30 146.6V147.8M30.7 144.9V146.7M32.1 143.4V144.6M33.5 130.5V131.7M35.6 109V118M37.7 73.3V83M39.1 67.4V78.1M48.9 58.3V64.3M50.3 53V70.2M51.7 50.9V53.4M52.4 50.9V67.3M53.8 68.9V76.2M54.5 61.8V76.2M55.2 61.8V74.4M55.9 70.5V74.4M57.3 69.6V73.4M60.1 79.9V86.7M61.5 71.6V85.8M64.3 69V73.1M68.5 103V108.9M69.9 90V99.4M71.3 93.5V115M72 104.6V115M73.4 104.2V109.6M75.5 103.1V113.2M76.2 109.2V113.2M79.7 109.9V121.6M81.1 116.5V122.2M83.2 123.1V126.2M86.7 130.5V143.8M92.3 139.4V142.3M95.1 143.7V145.5M97.2 148.1V149.5M99.3 146.9V148.1M101.4 145.1V152.9M102.8 148.7V156M104.9 147V155.4M105.6 149.6V155.4M106.3 149.6V156M21.6 153.1V154.3M23 153V156M27.2 144.2V148.4M27.9 145.1V148.4M29.3 138.2V139.4M41.2 112.8V118.2M51 87.8V89M52.4 72.8V82.2M55.2 64.8V69.7M62.9 56.8V61.3M67.8 48V61M69.2 56.3V79.3M69.9 56.3V63.7M72 64.2V80.1M76.9 80.6V81.8M79 76.9V88.6M79.7 84.6V88.6M82.5 100.5V101.7M88.8 118.3V125.7M91.6 131.3V136.2M92.3 132.2V136.2M93 132.2V135.6M95.8 131.8V139.8M96.5 131.8V137.3M100 148.1V149.3M100.7 145.4V148.6M101.4 145.4V153.8M104.9 149.7V153.1M109.8 152V153.3M110.5 149.3V153.3M117.5 155.1V156.3M118.9 155.1V156.3M121 153.4V156M121.7 153.4V155.4M122.4 155.1V156.3M20.9 155.4V156.6M23 152.7V156M25.1 151.9V155.9M26.5 150.6V151.8M29.3 150.1V154M30 145.9V150.1M30.7 145.8V147M32.8 138.4V144.5M35.6 135.4V136.6M39.8 118.4V126.6M41.9 116.9V124.3M42.6 116.2V117.4M44 111V117.4M45.4 109V110.2M48.9 86.3V88.8M51 96.7V106.5M52.4 73.6V91M53.1 73.6V99.9M54.5 73.8V97.6M55.9 73.6V93.3M56.6 75.8V93.3M58 70V86M58.7 60.3V86M61.5 63.1V70.9M63.6 62.1V65.4M67.1 50.6V68.8M68.5 55.2V61.7M69.2 55.2V60.5M72 61.3V66M73.4 69.3V81.7M74.1 60.7V69.3M78.3 84.1V91M79.7 88.1V89.3M81.1 97.8V103.1M82.5 88V98M83.9 89.7V95M85.3 107V108.2M88.1 101.5V108M88.8 101.5V110.9M94.4 126.4V129.4M95.1 126.4V135.4M96.5 134.5V135.7M100 140.8V151.2M104.9 143V154.7M106.3 150.7V151.9M107 150.5V151.7M109.8 149.1V152.6M110.5 149.1V155.7M111.2 151.3V155.7M111.9 151.3V155.4M114 155.1V156.3M114.7 150.7V155.5M115.4 150.7V156M116.1 155.4V156.6M121.7 155.1V156.3" stroke="#000" stroke-opacity="0.2" stroke-width="1.4" fill="none"/>
<path d="M6.6 86.1V88.7M8 72.3V81.3M9.4 66V79.9M10.8 52.9V70.7M17.8 50.5V63.1M18.5 48.1V50.5M24.1 55.5V59.9M26.2 67.4V74.9M34.6 122.6V138.2M36.7 133.7V138.1M38.8 138.8V144.1M40.2 142.9V147.3M40.9 145.5V147.3M45.8 149.2V151.6M48.6 150.8V152.2M49.3 148.5V150.8M50 148.5V151.5M56.3 152.8V154M57.7 155V156.2M67.5 155.4V156.6M68.2 155.3V156.5M68.9 155.3V156.5M71 155.3V156.5M1.7 145.4V156M5.2 121.3V125.8M7.3 102.2V103.4M12.9 70.3V73.3M14.3 51.9V75.6M16.4 36V45.8M22 47.6V51.8M23.4 51.4V67.9M28.3 62.6V82.2M29.7 91.3V96.1M38.8 132.2V144.6M39.5 132.2V138.7M40.2 138.7V141.3M40.9 141.3V143.5M41.6 142.6V143.8M42.3 142.4V143.6M43.7 145.8V151.1M45.1 146.6V147.8M47.2 149.7V154.5M51.4 153V154.2M52.1 150.9V153.7M52.8 150.9V154.5M53.5 153.8V155M56.3 154.7V155.9M59.1 152.5V156M59.8 152.5V156M61.2 153.9V155.1M64 151.6V152.8M68.2 155.4V156.6M68.9 154.8V156M69.6 154.8V156M72.4 155V156.2M26.5 145.7V153M27.9 143.4V148.5M30 143.5V145.7M31.4 125.9V127.1M37.7 48.2V77.8M45.4 44.8V53.2M46.8 46.6V63.6M47.5 55V63.6M58 58.4V59.6M58.7 58.5V68M60.8 74.4V85.5M64.3 83V86.7M71.3 102.5V116.2M72 102.5V110.8M74.1 114.8V116M79 113.2V131.9M83.9 130.5V133M88.8 139.9V146.3M89.5 146.3V151.6M90.9 142.6V146.1M93 139.3V146.7M95.8 145.2V147.8M97.2 146.7V148.6M103.5 153.5V154.7M20.9 155.4V156.6M22.3 153.4V156M23.7 155.4V156.6M24.4 155.4V156.6M25.8 154.4V155.6M34.9 109V128.6M36.3 102.3V118M38.4 73.3V78.1M40.5 57.7V59.8M41.2 59.8V64.2M41.9 50V64.2M44 42.4V52.9M44.7 42.4V50.9M46.8 37V52.8M49.6 53V64.3M53.1 67.3V68.9M58 59.6V73.4M63.6 69V77.7M65.7 86.5V88.3M67.1 92.2V93.4M72.7 104.6V109.6M74.1 104.2V116.6M74.8 103.1V116.6M77.6 108.9V128.7M78.3 120V128.7M80.4 116.5V121.6M83.9 122.6V123.8M85.3 123.9V140M86 130.5V140M88.8 136.6V139.8M89.5 136.6V139.3M90.2 135.8V139.3M90.9 135.8V145.5M94.4 143.7V150.7M95.8 144.2V145.5M97.9 147.4V149.5M100.7 144.1V152.9M104.2 147V154.8M28.6 138.6V145.1M31.4 136.1V145.2M33.5 138.2V141.2M39.8 113.6V122.2M42.6 108.8V124.9M44 107.6V115.5M46.1 87.4V108.6M47.5 94.3V96.6M51.7 82.2V88.1M57.3 67.7V80.1M58.7 76.9V81M63.6 56.6V61.3M65.7 44.2V71M66.4 44.2V69.9M67.1 61V69.9M70.6 63.7V67M72.7 80.1V87.4M73.4 57.4V87.4M76.2 70.9V80.7M80.4 84.6V99.9M81.8 101.2V103.1M85.3 104.4V112.4M86.7 103V115M90.9 126.7V131.3M95.1 139.8V146.6M99.3 140.3V148.7M105.6 149.7V153.8M112.6 155V156.2M116.1 153.3V154.5M116.8 153.3V156M118.2 155.1V156.3M119.6 155.1V156.3M21.6 155.2V156.4M23.7 152.7V154.8M24.4 151.9V154.8M25.8 151.2V155.9M28.6 153.1V154.3M31.4 144.6V147M32.1 138.4V144.6M34.2 136.2V140.3M36.3 135.1V136.3M37.7 125.5V133.7M39.1 126.6V134M43.3 116.5V117.7M44.7 109V111M46.1 96.4V110.2M46.8 96.4V109.7M49.6 86.3V95.2M51.7 91V106.5M53.8 97.6V99.9M55.2 73.1V74.3M57.3 70V75.8M60.1 55.3V81M60.8 55.3V63.1M62.9 65.4V79M64.3 61.4V62.6M65 61.8V66M65.7 61.8V66M66.4 50.6V61.8M69.9 52V60.5M74.8 60.7V80.3M75.5 59.1V80.3M76.2 59.1V90.8M77.6 64.4V84.1M79 88.5V91M81.8 98V103.1M86 107.6V109.6M89.5 110.9V117M90.9 111V127.5M92.3 122.1V132.9M93.7 127.2V129.4M97.2 134V135.2M97.9 134V135.2M99.3 139.9V141.1M101.4 138.8V152.2M103.5 140V149.1M104.2 149.1V154.7M112.6 151.9V155.4M116.8 153.6V156" stroke="#000" stroke-opacity="0.4" stroke-width="1.4" fill="none"/>
<path d="M1 124.3V125.5M2.4 116.9V127.9M3.1 103.3V127.9M3.8 103.3V119.1M4.5 106.2V119.1M5.9 88.7V98.4M10.1 52.9V66M11.5 70.7V73.3M12.2 66.3V73.3M12.9 38.4V66.3M13.6 37.3V38.5M14.3 37.5V52.1M15 43.9V52.1M17.1 33.1V63.1M20.6 47.6V53.9M22.7 41.4V74.2M27.6 72.7V92.4M31.8 119.8V123.7M37.4 133.7V141.2M38.1 141.2V144.1M41.6 145.5V147.9M42.3 145.3V147.9M43.7 147.9V152.1M44.4 151.1V152.3M45.1 150.9V152.1M46.5 148.8V150M51.4 147V152.7M52.1 150.8V152.7M54.9 152.3V153.5M58.4 155.1V156.3M59.1 153.5V155.3M60.5 152.5V156M61.2 153.7V156M61.9 152.6V153.8M65.4 155.4V156.6M69.6 155.4V156.6M71.7 155.3V156.5M2.4 129.3V145.4M3.8 118.3V133.6M4.5 121.3V133.6M8.7 97.8V100.7M15.7 45.8V48.2M19.9 31.3V47.1M21.3 48.8V51.8M22.7 47.6V51.4M31.8 86.3V107.5M32.5 103.7V107.5M33.9 107.9V114.5M35.3 118.2V121.9M38.1 134.4V144.6M49.3 145.9V147.9M54.2 154.3V156M54.9 155.2V156.4M63.3 152.8V156M65.4 155.4V156.6M66.8 153.4V156M23.7 153.8V155M25.8 151.1V153M30.7 126.4V143.5M32.1 120.6V126.7M34.2 85.1V95.5M36.3 69.4V79.1M38.4 68.6V77.8M39.1 50V68.6M41.2 40.2V41.4M41.9 36.3V40.4M42.6 36.3V62.1M44.7 44.8V56.8M46.1 46.6V53.2M48.2 55V62.5M50.3 63.3V69.8M51 49.4V69.8M51.7 49.4V58.5M53.8 73.3V81.7M54.5 72V81.7M55.9 60.6V68.4M57.3 58.8V60M59.4 68V75.6M60.1 75.6V85.5M62.2 87V91.6M65 83V98M65.7 84V98M67.1 92.4V98.4M68.5 104.8V109M70.6 92.9V116.2M74.8 109.6V114.9M79.7 131.9V136.7M80.4 121.9V136.7M81.8 127.3V138.9M85.3 143.7V144.9M87.4 140.3V141.7M88.1 139.9V141.7M90.2 142.6V151.6M94.4 145.3V151.6M98.6 148.9V154.4M100 146.4V149.6M100.7 146.4V156M104.2 148.1V154.2M23 153.4V156M26.5 154.2V155.4M27.2 152.8V155.1M31.4 143.8V145M32.8 131.1V144.2M34.2 128.6V131.1M37 83V102.3M42.6 50V52.4M45.4 50.9V59.1M46.1 52.8V59.1M47.5 37V62.5M56.6 69.5V70.7M58.7 53.4V59.6M60.8 71.6V79.9M65 73.1V88.3M66.4 86.5V92.8M69.2 99.4V108.9M76.9 108.5V109.7M81.8 122.2V129.6M82.5 126.2V129.6M84.6 123V124.2M87.4 138.2V143.8M88.1 138.2V139.8M93 142.3V144.8M93.7 144.8V150.7M96.5 144.2V148.1M98.6 147V148.2M100 144.1V147.3M102.1 145.1V156M103.5 148.7V154.8M22.3 153.4V156M24.4 149.5V156M25.1 152.1V156M25.8 147.9V152.1M32.1 136.1V138.6M32.8 138.6V141.2M34.9 133.8V135.2M35.6 134V135.2M36.3 132.4V134M37 132.4V138.3M37.7 117.1V138.3M39.1 113.6V117.9M40.5 118.2V122.2M41.9 108.8V112.8M46.8 87.4V94.3M48.2 82.4V96.6M49.6 92.3V95.7M50.3 88.8V95.7M54.5 64.8V76.9M58 76.9V80.1M59.4 52.3V81M60.8 58.5V66.5M61.5 66.5V71M64.3 56.6V68.2M68.5 48V79.3M71.3 64.2V67M74.1 57.4V78.9M74.8 70.4V78.9M78.3 76.9V81.9M83.2 100.9V102.1M83.9 95.5V102.1M84.6 95.5V104.4M86 103V112.4M89.5 125.7V132.5M90.2 126.7V132.5M97.9 137.7V144M98.6 140.3V144M102.1 148.7V153.8M102.8 148V149.2M104.2 144V153.1M106.3 153.2V154.4M107 153.8V156M107.7 155.2V156.4M109.1 149.8V152M111.9 152.8V156M113.3 154.4V155.6M114 151.1V154.9M114.7 151.1V156M115.4 154.4V156M120.3 155.4V156.6M27.9 152.6V153.8M33.5 140.3V144.5M37 125.5V135.8M38.4 133.3V134.5M41.2 117.7V124.3M48.2 88.8V93.5M67.8 61.7V68.8M70.6 45.8V52M71.3 45.8V66M72.7 61.3V81.7M80.4 88.9V97.8M83.2 88V95M84.6 89.7V107.6M86.7 108.1V109.6M87.4 107.4V108.6M91.6 127.5V132.9M102.8 140V146.4M105.6 143V151.8M107.7 148.8V151.4M109.1 149.2V152.6M113.3 151.9V155.9M117.5 153.6V155.8M118.2 155.3V156.5M121 155.4V156.6M122.4 155.1V156.3" stroke="#000" stroke-opacity="0.6" stroke-width="1.4" fill="none"/>
<path d="M0.3 124.8V126M8.7 72.3V79.9M19.2 43.2V48.1M21.3 50.1V53.9M23.4 41.4V55.5M26.9 67.4V72.7M29.7 100.7V108.6M30.4 104.2V108.6M33.2 120.5V128.9M35.3 138.2V140.9M36 138.1V140.9M39.5 138.8V142.9M47.2 149.6V154.1M50.7 147V151.5M52.8 150.8V154.2M53.5 154.2V156M59.8 152.4V153.6M62.6 152.1V153.3M64 153.8V155M66.1 155V156.2M66.8 155V156.2M70.3 155.4V156.6M1 153.4V156M5.9 101.7V125.8M6.6 101.7V103.2M8 100.7V102.3M9.4 90V97.8M13.6 51.9V73.3M15 48.2V75.6M18.5 54.5V61.9M19.2 31.3V54.5M29 82.2V96.1M31.1 86.3V88.8M37.4 131.9V134.4M46.5 149.7V154.4M50 147.9V152.5M66.1 153.4V155.9M71.7 155.1V156.3M21.6 154.3V156M24.4 154.3V156M25.1 151.1V156M28.6 145.5V148.5M33.5 95.5V110.2M34.9 84.5V85.7M35.6 79.1V85M37 48.2V69.4M44 47.9V56.8M48.9 60.7V62.5M49.6 60.7V63.3M52.4 51.8V58.5M53.1 51.8V73.3M56.6 59.3V60.6M63.6 81.5V86.7M67.8 98.4V104.8M69.2 109V112.8M75.5 109.6V113.7M76.2 113.7V119.2M76.9 119.2V129.9M77.6 129.9V133.9M78.3 113.2V133.9M81.1 121.9V138.9M82.5 126.9V128.1M84.6 130.5V144.2M86.7 139.6V140.8M91.6 142.3V146.1M93.7 145.3V146.7M95.1 145.2V151.6M96.5 147.6V148.8M101.4 152.5V156M102.1 147.2V152.5M102.8 147.2V153.9M106.3 155.3V156.5M27.9 152.8V156M39.8 57.7V67.4M43.3 52V53.2M48.2 58.3V62.5M51 53.4V70.2M59.4 53.4V86.7M62.2 82.7V85.8M62.9 77.7V82.7M67.8 92.8V103M70.6 90V93.5M79 109.9V120M91.6 139.4V145.5M20.9 153.3V154.5M23.7 149.5V153M26.5 144.2V147.9M30 139V145.7M30.7 144.8V146M34.2 133.8V138.2M38.4 116.9V118.1M43.3 107.6V124.9M44.7 106.2V115.5M45.4 106.2V108.6M48.9 82.4V92.3M53.1 72.8V79.5M53.8 76.9V79.5M55.9 61.6V69.7M56.6 61.6V67.7M60.1 52.3V58.5M62.2 56.8V71M65 68.2V71M75.5 70V71.2M77.6 81.2V82.4M81.1 99.9V103.1M87.4 115V117M88.1 117V118.3M93.7 135.6V139.2M94.4 139.2V146.6M97.2 136.9V138.1M103.5 144V148.4M108.4 149.8V155.7M111.2 149.3V152.8M22.3 155.2V156.4M27.2 151.1V153M34.9 135.7V136.9M40.5 117.5V118.7M47.5 93.5V109.7M50.3 95.2V96.7M59.4 60.3V81M62.2 70.9V79M76.9 64.4V90.8M90.2 111V117M93 122.1V127.2M95.8 134.9V136.1M98.6 134.5V140.2M100.7 138.8V151.2M102.1 146.4V152.2M108.4 148.4V149.6M118.9 155.3V156.5M119.6 152V155.8M120.3 152V156" stroke="#000" stroke-opacity="0.85" stroke-width="1.4" fill="none"/>
<path d="M0 0H155.0V156.0H0Z" stroke="#333" stroke-width="1.05" fill="none"/>
<text x="0.6" y="-1.2" font-family="Liberation Mono, monospace" font-weight="bold" font-size="4.6" fill="#222" textLength="42.3" lengthAdjust="spacingAndGlyphs">SINGLE PARAMETER</text>
<text x="2.3" y="162.2" font-family="Liberation Mono, monospace" font-weight="bold" font-size="5" fill="#222" text-anchor="middle">1</text>
<text x="37.0" y="162.2" font-family="Liberation Mono, monospace" font-weight="bold" font-size="5" fill="#222" text-anchor="middle">1</text>
<text x="76.0" y="162.2" font-family="Liberation Mono, monospace" font-weight="bold" font-size="5" fill="#222" text-anchor="middle">10</text>
<text x="115.0" y="162.2" font-family="Liberation Mono, monospace" font-weight="bold" font-size="5" fill="#222" text-anchor="middle">100</text>
<text x="148.6" y="162.2" font-family="Liberation Mono, monospace" font-weight="bold" font-size="5" fill="#222" text-anchor="middle">1000</text>
<text transform="translate(-2.2 2.3) rotate(-90)" font-family="Liberation Mono, monospace" font-weight="bold" font-size="4.6" fill="#444" text-anchor="middle">20</text>
<text transform="translate(-2.2 39.0) rotate(-90)" font-family="Liberation Mono, monospace" font-weight="bold" font-size="4.6" fill="#444" text-anchor="middle">15</text>
<text transform="translate(-2.2 77.0) rotate(-90)" font-family="Liberation Mono, monospace" font-weight="bold" font-size="4.6" fill="#444" text-anchor="middle">10</text>
<text transform="translate(-2.2 115.5) rotate(-90)" font-family="Liberation Mono, monospace" font-weight="bold" font-size="4.6" fill="#444" text-anchor="middle">5</text>
<rect x="-5.2" y="153.4" width="2.2" height="1.4" fill="#111"/>
</g>
<g transform="matrix(0.9987 0.0058 0.0000 1.0064 360.60 417.15)">
<path d="M1.7 127.5V127.8M2.4 104.5V107.3M3.1 109.6V111.4M3.8 111V114.4M5.9 100.1V119.8M6.6 90.4V92.9M8 80.4V91.5M12.2 55.5V57.4M12.9 55.7V70.6M17.1 64.8V100.3M22.7 48.9V73.6M25.5 74.3V90.5M26.9 95.8V102M27.6 88.2V88.6M29.7 105V108.5M31.8 128.7V135.7M32.5 130V131.5M34.6 136.2V139.4M35.3 138.2V139.7M36 143.5V145M37.4 145.3V145.5M38.1 137.8V139.9M43 154.4V155.1M46.5 156V156M48.6 153V154M50.7 151.3V151.8M54.2 156V156M54.9 154.6V156M55.6 152.5V156M57.7 156V156M59.8 156V156M60.5 152.9V153.2M62.6 154.7V155.4M66.8 152.1V153M67.5 153.5V155.4M68.2 156V156M69.6 153.5V153.9M72.4 156V156M73.8 155.1V156M18.3 153V153.7M20.4 145.6V149.1M23.2 149.6V153M23.9 153.5V156M24.6 149.6V150.5M26.7 142.3V146.6M29.5 135.3V135.7M30.9 139.9V140.3M31.6 129.5V130.4M32.3 142V145.5M33 140.7V143.8M35.1 125.4V127.4M35.8 140V142.6M36.5 117.5V120.3M37.9 121.3V123.4M41.4 121.2V123.4M47 94.5V94.8M53.3 66.3V71.1M56.1 54.6V54.8M56.8 66.7V105.7M57.5 66.3V92.7M60.3 52.3V54.7M61 59.1V67M62.4 50.9V51.5M70.1 27.1V39.6M71.5 42V50.6M72.2 43.7V51.9M73.6 24.1V24.6M74.3 64.1V97.9M82 61.3V65.7M84.1 78.4V81.9M85.5 76.8V108.7M89 103.3V111.1M89.7 81.1V83.1M93.2 106.3V107.1M95.3 105.2V113.7M96 125.3V128.1M98.1 115.5V115.7M101.6 143.9V149.4M103 145.7V146.2M103.7 129.1V138M105.8 139.2V143.2M107.2 146.6V151.8M107.9 145.5V154.6M113.5 147.9V148.1M116.3 147.4V153M125.4 154.1V154.6M126.1 156V156M131 156V156M135.9 155.6V156M24 153.9V154.1M25.4 147.2V148.2M26.8 146.9V146.9M27.5 146.5V151.8M28.2 147.8V151.3M29.6 152V156M31 150.3V153.6M31.7 139.1V142M32.4 146.4V155.6M34.5 138.9V140.3M37.3 135.9V137.6M38 125.7V126M42.2 121.2V123.2M43.6 112.8V114.2M45 106.1V111M46.4 103.2V104.3M49.9 80.5V90.5M50.6 95.1V119.9M52 77.4V86M53.4 68.5V77.8M54.1 80.2V110.5M57.6 46.7V47.4M58.3 42.4V45.5M61.1 70.5V93.8M61.8 42.2V54.8M68.1 22V39M69.5 54.2V58.6M70.9 28.3V50.2M73.7 52.2V108M75.8 43.3V86.3M76.5 53.7V55.4M77.2 30.8V39.2M80 39.8V70.3M82.8 54.6V56.1M83.5 76.9V100.1M84.2 69.4V75.8M88.4 100.3V111.5M93.3 99.9V113.8M101 125.3V127.1M105.2 138.7V138.9M105.9 143.6V143.8M108 146.7V147.9M109.4 144.8V146.6M110.1 143V149.2M110.8 149.9V151.4M113.6 153V153.2M114.3 148V148M115 156V156M119.2 153.4V155.7M124.8 154.4V155.7M125.5 152V153.4M128.3 156V156M129 153.2V154M137.4 155.4V156" stroke="#000" stroke-opacity="0.22" stroke-width="0.8" fill="none"/>
<path d="M0.3 136.8V156M1.5 151.2V156M2.7 155.1V156M5.1 154.4V156M8.1 126V156M8.7 138.4V156M9.9 155.4V156M11.1 155.5V156M17.1 126V156M17.7 155.4V156M20.7 136.2V156M25.5 135.6V156M26.7 147.7V156M27.3 126V156M29.1 153.1V156M31.5 154.6V156M32.1 152.4V156M33.3 146.6V156M33.9 140.8V156M35.1 126V156M37.5 154.9V156M40.5 150.7V156M43.5 152.6V156M44.1 139.4V156M50.1 142.5V156M50.7 152.2V156M52.5 126V156M55.5 148.7V156M56.1 143.2V156M59.7 135.4V156M60.9 132.5V156M62.1 126V156M62.7 142V156M65.1 134.2V156M66.9 132.5V156M68.7 126V156M69.3 136.1V156M69.9 138.4V156M71.7 126V156M74.1 126V156M74.7 126V156M76.5 126V156M77.7 136.8V156M78.3 126V156M80.7 145.8V156M81.9 142.8V156M83.1 137.9V156M83.7 154.3V156M87.9 126.7V156M92.7 126V156M93.9 126V156M94.5 155.9V156M96.3 141.2V156M98.1 147.7V156M99.3 126V156M99.9 153.2V156M102.9 152.9V156M105.3 148.7V156M112.5 149.9V156M113.1 152.7V156M117.3 155.9V156M122.1 153.7V156" stroke="#000" stroke-opacity="0.22" stroke-width="0.8" fill="none"/>
<path d="M0.9 151.3V156M1.5 154.3V156M2.1 148.8V156M2.7 149.4V156M3.3 146.4V156M4.5 155V156M6.3 153.6V156M6.9 147.8V156M7.5 154.3V156M8.1 153.9V156M8.7 153.1V156M9.9 154.9V156M11.1 155.2V156M11.7 152.8V156M12.3 154.8V156M12.9 154.9V156M13.5 146.4V156M14.7 154.9V156M15.3 146.4V156M16.5 146.4V156M17.7 151.4V156M18.3 154.1V156M18.9 154.9V156M19.5 154.5V156M20.1 154.6V156M20.7 154.8V156M21.3 153.8V156M21.9 154V156M22.5 151.5V156M23.7 152.7V156M24.3 151.7V156M24.9 155.3V156M25.5 153.8V156M26.1 148.5V156M26.7 152.1V156M27.3 146.4V156M27.9 149.1V156M28.5 147.5V156M29.1 153.3V156M30.3 153.5V156M30.9 154V156M32.1 153.1V156M33.3 155.4V156M34.5 151.6V156M36.9 152.1V156M37.5 155V156M38.1 153.9V156M38.7 153.7V156M40.5 153.6V156M42.9 153.1V156M43.5 147.4V156M45.3 152.8V156M45.9 154.7V156M46.5 154.5V156M47.1 146.4V156M48.3 154.8V156M50.1 152.9V156M51.3 151.8V156M52.5 150.1V156M53.1 147.2V156M54.9 149.2V156M55.5 154.8V156M56.7 153.9V156M59.1 154.1V156M59.7 153.4V156M60.9 154.6V156M61.5 152.3V156M62.1 153.5V156M62.7 154.7V156M63.3 153.4V156M63.9 146.4V156M64.5 150.5V156M65.1 153.2V156M65.7 153.1V156M66.3 155V156M67.5 154.3V156M68.1 152.3V156M69.3 154V156M69.9 146.8V156M70.5 155.1V156M71.1 153V156M71.7 146.4V156M72.3 150V156M74.1 151.6V156M74.7 154.2V156M75.9 154.3V156M76.5 147.1V156M77.7 154.1V156M78.3 149.8V156M79.5 146.4V156M80.7 154.7V156M81.9 146.4V156M83.1 152.7V156M83.7 147.5V156M84.3 153.6V156M85.5 147.5V156M86.1 152.3V156M86.7 154.7V156M87.3 154.6V156M87.9 146.4V156M88.5 153.1V156M89.7 153.1V156M90.3 147.6V156M90.9 152.5V156M91.5 152.4V156M92.1 153.8V156M92.7 153.1V156M93.9 153.1V156M94.5 151.5V156M95.1 150.9V156M95.7 155V156M96.3 152V156M96.9 146.4V156M97.5 154.7V156M98.1 153.3V156M98.7 152.2V156M99.3 150.5V156M99.9 152.8V156M100.5 154.7V156M101.1 146.4V156M101.7 152V156M102.3 146.4V156M102.9 151.3V156M103.5 154.1V156M104.1 154.9V156M104.7 155.1V156M105.9 149.3V156M107.1 153.3V156M107.7 152.3V156M108.9 153V156M109.5 148.8V156M110.1 152.6V156M110.7 154.1V156M111.3 152.5V156M111.9 153.4V156M113.1 146.8V156M113.7 154.3V156M114.9 150.4V156M115.5 154.2V156M116.1 149.7V156M116.7 149.9V156M117.3 153.8V156M117.9 153.7V156M118.5 149.7V156M119.1 147.5V156M119.7 149V156M120.3 146.4V156M120.9 153.3V156M122.7 146.4V156M123.3 154.6V156M125.1 148.7V156M125.7 150.7V156M126.3 155V156M126.9 146.4V156M127.5 146.4V156M128.1 151.9V156M128.7 154.6V156M130.5 155V156M131.1 155V156" stroke="#000" stroke-opacity="0.6" stroke-width="0.9" fill="none"/>
<path d="M0.3 119.8V121M1 117.7V118.4M1.7 110.7V118.4M3.1 102.4V104.5M3.8 106.9V109.6M4.5 108.4V110.2M5.2 103.3V104.6M5.9 97.7V100.1M6.6 88.7V90.4M7.3 87.1V90.4M8 70.8V80.4M9.4 72V75.1M10.1 51V51M11.5 54.6V55.9M12.2 54.6V55.1M13.6 38.1V44.3M15 31.6V34.5M15.7 47.9V48.6M16.4 36V39.3M17.1 28.3V39.3M17.8 40.6V42.4M18.5 30.9V42.4M19.2 41.1V41.1M19.9 40.5V41.1M20.6 45.8V52.2M21.3 50.1V52.2M22.7 39.1V48.9M23.4 44.6V48.9M24.1 57.6V60.8M24.8 45.4V56.4M26.9 92.5V95.8M27.6 78.2V88.2M28.3 87.1V88.2M29 85.3V93.4M29.7 91.5V100.3M30.4 96.4V105M31.1 109.8V117M31.8 108.6V117M33.2 122.5V130M33.9 131V133.9M34.6 135.7V135.7M35.3 130.8V136.2M36 132.1V138.2M36.7 134V136M37.4 135.5V136M38.1 135V137.8M38.8 134.6V137.8M39.5 140.9V141.8M40.2 142.5V144.7M40.9 144.3V144.7M41.6 142.6V144.4M42.3 143.3V144.4M43 145V149.2M43.7 149.3V154.4M44.4 151.8V153M45.1 149.6V153M45.8 145.2V148.8M46.5 148.1V148.8M47.2 153.4V153.4M47.9 151.1V151.4M50 149.2V152.4M50.7 147V151.3M52.1 151.8V152M52.8 151.5V152M53.5 152.7V153.3M54.2 153.2V153.3M54.9 150.6V154.6M55.6 152.3V152.5M56.3 147.4V150.8M57 149.7V150.8M57.7 155V155.4M58.4 154.9V155.4M59.1 150.5V151.4M59.8 148.1V151.4M60.5 152.2V152.9M61.2 151.5V152.9M61.9 153.1V155.4M62.6 154.6V154.7M63.3 153.9V154.7M64 152.3V153.4M64.7 152.1V152.7M65.4 149.3V152.2M66.8 148.6V152.1M67.5 150.6V152.1M68.2 152.7V153.5M68.9 151.9V153.4M69.6 150.7V152.9M70.3 150.4V153.5M71 151.9V155.2M72.4 152.2V155.4M73.8 153V154.8M74.5 154.3V155M13.4 154.8V155.3M14.1 154.8V155.2M14.8 151.2V152.1M15.5 146V150.3M16.2 148.4V149M16.9 147.9V149M17.6 151.4V154.2M18.3 152.5V153M19 152V152.4M19.7 152.8V153.1M20.4 144.3V145.6M21.1 143.8V145.2M21.8 144.4V146.1M22.5 147.4V150.9M23.2 144.4V149.6M23.9 149.3V149.6M24.6 144.7V149.6M25.3 141.2V144.6M26 140V140.1M26.7 138.9V140.1M27.4 137.4V139.4M28.1 139.2V139.4M28.8 143.2V148.8M30.2 134.1V135.3M30.9 132.9V139.2M31.6 127.2V129.5M32.3 125.8V129.5M33.7 131.3V138.2M34.4 119V123.2M35.1 122.4V123.2M35.8 121.4V125.4M37.9 113.7V121.3M39.3 107.1V107.7M40 105.6V107.7M40.7 104.8V106.8M41.4 105.7V106.8M42.1 103.7V106.6M42.8 103.6V106.6M43.5 103.7V108.1M44.9 107.4V107.6M45.6 103.9V107.6M46.3 102.3V102.4M47 90.9V94.5M47.7 84.8V86.7M48.4 81.7V86.7M49.1 95.5V95.6M49.8 79.4V89.3M50.5 86.7V89.3M51.9 68.1V78.3M53.3 64.8V66.3M54 55V58.3M54.7 50.2V57M55.4 46.2V57M56.1 53.5V54.6M56.8 50.8V54.6M57.5 65.2V65.9M58.9 40V46.8M59.6 28.1V31.9M60.3 24.9V31.9M61 51.6V52.3M61.7 43V44.1M63.8 17.3V29M64.5 22.2V23.1M65.2 17.6V23.1M65.9 30.6V38.4M66.6 37.1V38.6M67.3 35.8V38.6M68 31.3V41.7M68.7 25.8V31.5M69.4 19.6V31.5M70.1 23V27.1M70.8 21.8V27.1M71.5 41.8V42M72.2 41.4V42M72.9 31.8V43.7M74.3 18.2V24.1M75.7 41.3V51.2M76.4 50.4V51.2M77.1 45.7V45.8M77.8 39.8V45.8M78.5 46.2V52.9M79.2 52.1V52.4M79.9 51.5V53.1M80.6 46.7V56.6M81.3 55V58.9M82 50.2V61.3M82.7 59.6V60.4M83.4 49.7V60.6M84.8 72.2V78.4M86.2 70.5V76.8M86.9 79.8V85.8M87.6 81.6V88.5M88.3 71.5V74.4M89 69.1V74.4M89.7 80.9V81.1M90.4 79V81.1M91.1 88.7V91.3M92.5 95.1V101.1M93.2 100.2V102.1M93.9 104.6V105.9M94.6 103.9V106.5M95.3 96.6V105.2M96 103.7V105.2M96.7 108.8V117.1M97.4 105.5V111.8M98.1 108.9V111.8M98.8 107.6V115.5M99.5 126.5V126.6M100.9 128.1V128.7M101.6 130.5V130.7M102.3 130.4V130.7M103 123.7V130.7M103.7 128.5V129.1M105.1 134.7V136.4M105.8 132.7V139.2M106.5 132.8V139.2M107.9 144.3V145.5M108.6 144.4V144.4M109.3 142.8V144.4M110 144.1V144.6M110.7 137.9V143.6M111.4 138.1V143.6M112.1 144V144.2M112.8 140.8V144.4M113.5 144.9V145.1M114.2 144.6V146.3M114.9 141.1V146.3M115.6 148.4V150.1M117 141.9V146.5M117.7 146.1V146.8M119.1 146.9V148.2M119.8 147.6V148.2M120.5 148.7V148.9M121.2 147.3V148.9M121.9 147V151.5M122.6 149.1V153.5M123.3 154.2V155.4M124.7 149V150.9M126.1 149.9V154.1M127.5 152.6V155.4M128.9 154.4V155.4M131 151.7V153.1M131.7 153.2V155.4M132.4 154.4V155.1M133.1 154.7V155.2M133.8 154.3V155.1M134.5 154.6V155.1M135.2 153.8V155.4M135.9 155.1V155.2M136.6 153.7V155.2M18.4 153.5V155.4M19.1 154.5V155.4M19.8 148.4V152.3M20.5 150.9V152.3M21.2 152.8V154.3M21.9 151.4V151.6M22.6 151.6V151.6M23.3 148.3V150.1M24 149.9V150.1M25.4 146.6V147.2M26.1 147.1V147.2M26.8 145.2V146.9M27.5 141.9V146.1M28.2 146.2V146.5M29.6 150.7V152M31.7 138.2V139.1M32.4 137.1V139.1M33.1 141.7V146.2M33.8 139.7V142.4M34.5 138.4V138.9M35.2 135.1V138.9M35.9 131.2V132.1M37.3 122.8V129.8M38.7 123.5V125.7M39.4 127.7V130.6M41.5 105.3V113M42.2 112V113M42.9 119.8V121.2M43.6 111.5V112.8M44.3 106V110.9M45.7 102.9V106.1M47.1 97.2V103.2M47.8 88.6V94.6M48.5 85.4V94.6M49.2 97.3V99.2M50.6 79.8V80.5M51.3 78.2V85.4M52 67.5V77.4M52.7 67.4V77.4M54.1 64.9V68.5M54.8 56.1V61.6M55.5 61.5V61.6M56.2 79V80.3M56.9 61.3V63.2M58.3 31.4V42.4M59 31.3V42.4M59.7 53V55.5M60.4 53.9V55.5M61.1 58.6V58.6M61.8 31.5V42.2M62.5 35V42.2M63.2 20.8V32.3M63.9 31.1V32.3M64.6 42V43.2M66 38.3V45.4M66.7 25.8V37.5M67.4 36.5V37.5M68.1 16V22M68.8 20.1V22M70.2 39.1V40.3M70.9 16.5V28.3M71.6 27.3V28.3M72.3 34.7V36.7M73 45V45.7M74.4 50.9V52.2M75.1 44.2V50.9M75.8 40.3V43.3M77.2 22.3V30.8M77.9 29.4V30.8M78.6 43.2V46M79.3 53V54M80 28.4V39.8M80.7 39V39.8M81.4 53.8V57.1M82.1 36.3V44M83.5 50.5V54.6M84.2 63V69.4M84.9 61.3V69.4M85.6 51.2V59.5M87 74.2V84.5M87.7 83.5V84.6M89.1 100.2V100.3M89.8 92V94.5M90.5 86V90.4M91.2 80.8V90.4M91.9 91.4V96.1M92.6 93.1V95.8M93.3 95V96.7M94 94.2V99.9M94.7 93.4V99.1M95.4 95.9V99.1M96.1 98.2V106.8M96.8 109V109.8M97.5 117V118M98.2 114V120.4M98.9 118V121.7M99.6 118.7V120.5M100.3 117.7V120.5M101 120.3V125.3M102.4 129.1V130.4M103.1 126.4V130.4M103.8 125.3V132.3M105.2 122.5V129.3M105.9 132.1V138.7M106.6 143.2V143.4M107.3 140V140.5M108 135.8V140.5M108.7 138.5V140.9M109.4 140.6V140.9M110.1 142.8V143M110.8 138.1V143M111.5 147.4V149.9M112.2 150.1V151.4M114.3 147.9V148M115 145.5V148M115.7 152.2V153.7M116.4 152V152.4M117.1 151.6V152.4M119.2 148.6V153.4M119.9 149.9V153.2M120.6 151.4V151.6M121.3 148V151.6M122 153.6V155.4M122.7 152.1V155.3M123.4 149.9V154.2M124.1 151.6V153.7M124.8 152.6V153.8M125.5 150.3V152M126.9 151.7V155.2M127.6 153.4V155.2M128.3 155.1V155.4M129 151.6V153.2M129.7 149.3V153.2M131.1 152.7V154.2M131.8 152.9V154.2M132.5 153.4V155.4M133.2 154.2V154.6M133.9 152.1V154.6M134.6 153V154.9M135.3 153.6V154.3M136.7 153.2V155.2" stroke="#000" stroke-opacity="0.3" stroke-width="0.8" fill="none"/>
<path d="M3.8 109.6V111M6.6 90.4V100.1M7.3 90.4V93.9M9.4 75.1V78.5M14.3 34.5V44.3M15.7 48.6V55.9M21.3 52.2V60.6M29.7 100.3V105M31.1 117V118.5M34.6 135.7V136.9M39.5 141.8V152.3M40.2 144.7V152.3M40.9 144.7V154.5M42.3 144.4V149.2M43 149.2V154.4M45.8 148.8V156M47.9 151.4V153.4M52.8 152V156M54.9 154.6V156M63.3 154.7V156M66.8 152.1V156M68.9 153.4V156M69.6 152.9V154.1M74.5 155V156.2M0.3 155V156.2M1 155.2V156.4M1.7 144.2V156M3.1 126.8V128M3.8 112.9V127.1M4.5 111.9V113.1M5.9 101.4V102.6M9.4 89.7V97.2M12.9 83.8V87.9M13.6 69.6V83.8M15 59.8V64.1M16.4 40.7V58.5M17.1 58.5V63.4M21.3 48V50.1M22.7 30.1V40.2M24.8 44V58M25.5 58V59.8M26.2 59.8V61.8M26.9 61.8V70.8M29 74.8V82M29.7 76.7V82M30.4 76.7V87.7M32.5 118.7V120.8M33.9 118V121.4M34.6 121.4V131.4M35.3 129V131.4M37.4 136.1V137.3M38.1 136.7V138.9M38.8 138.9V144M41.6 144.5V151.2M42.3 151.2V154.9M43 152.5V154.9M43.7 147.8V152.5M45.1 147.6V156M46.5 151.3V153.3M47.2 151.3V154.5M47.9 150.5V154.5M57.7 150.7V151.9M60.5 153.9V156M61.9 152.6V154.2M62.6 152.2V153.4M65.4 155.4V156.6M66.8 151.1V153.9M68.9 152.5V156M71.7 154.5V156M73.1 155.4V156.6M74.5 154.6V155.8M14.1 155.2V156.4M23.9 149.6V153.5M37.2 117.5V125.8M37.9 121.3V125.8M38.6 121.3V127.2M42.1 106.6V121.2M47 94.5V102.4M47.7 86.7V94.5M49.1 95.6V102.7M50.5 89.3V96.1M51.2 81.1V96.1M51.9 78.3V81.1M56.1 54.6V60M61.7 44.1V59.1M65.9 38.4V49.1M67.3 38.6V41.7M68.7 31.5V56.3M70.8 27.1V47.4M73.6 24.1V62.1M74.3 24.1V64.1M76.4 51.2V65.5M80.6 56.6V58.9M86.2 76.8V85.8M87.6 88.5V101M92.5 101.1V102.3M94.6 106.5V107.7M97.4 111.8V117.1M104.4 129.1V136.4M108.6 144.4V145.6M111.4 143.6V144.8M119.1 148.2V156M126.1 154.1V156M128.2 155.4V156.6M136.6 155.2V156.4M14.8 154.8V156M15.5 154.8V156M16.2 150V156M18.3 153.1V154.8M19 154.2V155.4M19.7 153.4V154.9M22.5 153.9V156M23.9 150V154M26 147.3V149.3M26.7 147V149.3M27.4 147V148.5M28.8 145.2V146.4M31.6 143.6V145.2M33 139.8V143M34.4 131V144.6M38.6 133.5V134.7M39.3 128.7V133.9M40 127.7V128.9M40.7 125.4V127.9M42.1 122.1V127.3M43.5 110.8V123.6M47.7 102.2V106.2M53.3 77.4V96.2M54.7 68.5V90.1M55.4 64.8V90.1M56.1 51.3V64.8M57.5 69.2V76.1M58.2 43.3V76.1M58.9 43.3V64.3M61 41.8V72.2M63.1 56.9V65.2M63.8 56.9V66.8M64.5 37.1V66.8M65.2 33.7V37.1M68.7 36.6V49.6M69.4 34V49.6M70.1 29V34M71.5 40.1V60.1M72.9 25V51.6M73.6 25V38.1M78.5 36.7V53.8M79.2 36.7V43.1M82.7 55.1V68M83.4 49.8V55.1M84.8 53.2V71.1M85.5 53.2V70.6M88.3 75.4V83.6M89 83.6V89.8M89.7 84.5V89.8M92.5 93.4V94.6M93.2 84.6V93.4M95.3 94V100.7M96 94V108.9M98.1 109V118M98.8 118V127.3M100.9 117.9V124.9M104.4 136.9V143.2M105.8 138.6V139.8M107.2 135.6V143.1M107.9 135.6V145.7M109.3 139.3V140.5M110 140V152.6M111.4 140.8V147.5M117 148.9V151.4M118.4 149.3V150.7M119.1 149.3V156M120.5 152.8V155.8M121.2 149.5V152.8M121.9 149.3V150.5M123.3 153.9V156M126.1 154.1V155.6M126.8 155.2V156.4M128.2 155.4V156.6M130.3 153.7V154.9M131 153.9V156M135.2 155.4V156.6M22.6 151.6V154M25.4 147.2V153M32.4 139.1V146.4M35.9 132.1V146.3M36.6 129.8V132.1M41.5 113V122.6M43.6 112.8V124.1M47.1 103.2V106.8M48.5 94.6V102.3M49.2 99.2V102.3M49.9 80.5V99.2M50.6 80.5V95.1M52 77.4V85.4M56.9 63.2V80.3M59 42.4V66.4M61.1 58.6V70.5M61.8 42.2V70.5M63.2 32.3V52.9M77.2 30.8V53.7M79.3 54V56.7M80.7 39.8V75.6M85.6 59.5V75.8M88.4 87.8V100.3M90.5 90.4V94.5M91.2 90.4V101.3M92.6 95.8V97M93.3 96.7V99.9M96.8 109.8V118M100.3 120.5V132.1M101.7 125.3V134.9M112.2 151.4V152.6M114.3 148V153M124.8 153.8V155M125.5 152V154.4M130.4 154.8V156M131.8 154.2V156M20.5 155.1V156.3M22.6 154.6V156M26.1 154.5V156M26.8 149.2V156M27.5 149.2V154.7M29.6 148.3V151.3M30.3 148.3V150.2M31.7 144.7V150.8M32.4 138.3V150.8M33.1 138.3V141.4M35.9 142.2V143.4M37.3 130.3V143.7M39.4 130.1V141.3M40.1 130.1V131.6M42.9 115V123.8M45 108.2V123.6M47.1 100.8V112.5M47.8 112.5V117.2M48.5 114.9V117.2M49.9 95.9V108.9M52 83.1V94.4M54.8 65.2V74.9M56.2 81.8V84.9M56.9 69.4V81.8M58.3 68.4V73.6M59 66.1V73.6M59.7 46V66.1M60.4 46V51M63.9 50.7V59.8M64.6 58.8V60M66 40.1V50.2M73 47.2V54.2M75.1 23.9V54.9M75.8 48.2V54.9M80 42.5V66.7M84.9 56V75.4M87.7 68.1V70.5M88.4 68.1V79.5M89.1 79.5V90.2M89.8 74.5V90.2M96.1 113.7V116.1M98.9 107.2V115M99.6 107.2V120.3M100.3 114.6V120.3M101 114.6V115.9M102.4 123V128.6M103.1 124.6V128.6M104.5 128.1V129.3M108 139.5V140.7M110.1 138.5V152M110.8 137.4V152M113.6 143.1V146M114.3 143.1V147M115.7 145.1V146.5M116.4 145.1V149.6M120.6 147.2V149.8M121.3 147.2V153.9M122.7 151.5V152.7M124.1 151.2V155.2M124.8 154.1V155.3M125.5 149.9V154.3M127.6 152.9V156M130.4 154.9V156.1M131.1 153.2V155M133.9 155V156.2M134.6 155.4V156.6M136.7 155.4V156.6" stroke="#000" stroke-opacity="0.2" stroke-width="1.4" fill="none"/>
<path d="M1 118.4V121.6M1.7 118.4V127.5M3.1 104.5V109.6M16.4 39.3V55.9M17.1 39.3V64.8M19.2 41.1V46.3M20.6 52.2V62.5M22.7 48.9V57.8M26.9 95.8V97.7M28.3 88.2V93.4M33.9 133.9V136.4M35.3 136.2V138.2M37.4 136V145.3M43.7 154.4V156M46.5 148.8V156M51.4 151.3V156M54.2 153.3V156M57.7 155.4V156.6M58.4 155.4V156.6M60.5 152.9V156M61.2 152.9V156M61.9 155.4V156.6M65.4 152.2V153.4M67.5 152.1V153.5M70.3 153.5V156M2.4 127.7V144.2M8 96.8V98M10.8 76.8V93.6M11.5 75.9V77.1M14.3 64.1V69.6M20.6 48V56.5M22 30.1V50.1M23.4 40.2V49.1M24.1 44V49.1M27.6 70.8V74.2M31.1 87.7V100.6M31.8 100.6V118.7M36.7 129.4V136.7M48.6 150.5V152.4M50 151.6V156M51.4 151V156M54.9 152.2V153.4M57 151.4V156M58.4 151.2V155.6M59.8 153.9V156M63.3 151.2V153.1M64 151.2V153.8M64.7 153.8V156M66.1 153.9V156M67.5 151.1V156M68.2 155.4V156.6M69.6 152.5V155.8M71 153.8V155M72.4 155.4V156.6M73.8 155.1V156.3M15.5 150.3V152.1M16.2 149V150.3M16.9 149V156M19.7 153.1V155.7M22.5 150.9V152.1M26.7 140.1V142.3M27.4 139.4V142.3M28.8 148.8V151.2M29.5 135.3V151.2M30.2 135.3V139.8M34.4 123.2V138.2M35.8 125.4V140M39.3 107.7V127.2M40.7 106.8V115.1M41.4 106.8V121.2M42.8 106.6V108.7M43.5 108.1V109.3M45.6 107.6V109M46.3 102.4V109M54 58.3V66.3M60.3 31.9V52.3M62.4 44.1V50.9M63.1 50.9V54.7M69.4 31.5V37M75 58.6V64.1M75.7 51.2V58.6M79.9 53.1V56.6M85.5 76.8V80.7M88.3 74.4V101M89 74.4V103.3M91.1 91.3V92.5M95.3 105.2V107.5M98.8 115.5V133.1M105.8 139.2V141.5M107.2 142.6V146.6M110.7 143.6V144.8M112.1 144.2V145.4M112.8 144.4V145.6M117 146.5V147.7M119.8 148.2V150.2M125.4 152.3V154.1M126.8 155.4V156.6M127.5 155.4V156.6M128.9 155.4V156.6M129.6 154.9V156.1M131.7 155.4V156.6M133.8 155.1V156.3M13.4 154.8V156M14.1 155.1V156.3M16.9 150V155.5M21.8 153.9V156M24.6 153V154.2M30.9 143.5V145.2M32.3 139.8V143.6M33.7 143V144.6M36.5 126.4V136.8M37.2 126.4V129.4M41.4 122.1V125.4M45.6 102.1V103.3M46.3 93.9V102.1M49.1 88.3V96.5M50.5 94.1V98.1M51.9 84V101M52.6 77.4V101M61.7 68.5V72.2M62.4 65.2V68.5M65.9 33.7V45M66.6 45V48.2M67.3 48.2V60.7M68 36.6V60.7M72.2 51.6V60.1M75.7 44.6V62M76.4 44.6V46.3M77.1 46.3V63.9M86.2 61.2V70.6M86.9 61.2V66M91.1 78.4V86.7M91.8 78.4V94.6M102.3 118.9V120.9M103 118.9V125.5M103.7 125.5V136.9M105.1 139.2V143.2M106.5 139.1V143.1M112.1 140.8V143.5M112.8 143.5V147.4M113.5 147.4V153.1M114.2 151.9V153.1M114.9 149.4V152M116.3 145.5V148.9M117.7 150.5V151.7M124 153.9V156M124.7 155.1V156.3M128.9 155.2V156.4M134.5 154.7V156M136.6 154.5V156M20.5 152.3V155M23.3 150.1V154M26.1 147.2V152.5M26.8 146.9V152.5M28.9 147.8V154.1M30.3 150.3V152M33.1 146.2V147.4M33.8 142.4V147.3M34.5 138.9V142.4M38 125.7V135.9M40.8 122.6V126.2M52.7 77.4V83M53.4 68.5V83M54.8 61.6V80.2M59.7 55.5V66.4M60.4 55.5V58.6M63.9 32.3V43.2M65.3 50.9V52.1M68.1 22V47.7M69.5 39V54.2M75.8 43.3V50.9M80 39.8V54M82.1 44V57.1M84.2 69.4V76.9M86.3 59.5V85.6M94.7 99.1V121.5M98.2 120.4V126.2M103.1 130.4V136.3M103.8 132.3V136.3M110.8 143V149.9M115.7 153.7V156M117.1 152.4V156M119.9 153.2V154.4M121.3 151.6V156M122 155.4V156.6M131.1 154.2V156M133.2 154.6V156M135.3 154.3V155.5M136 154.5V155.7M136.7 155.2V156.4M18.4 155.3V156.5M19.1 153.4V155.9M21.9 153.7V154.9M23.3 151.7V156M24 150.6V151.8M25.4 147.8V154.5M28.2 150.4V154.7M33.8 141.4V147M34.5 146.7V147.9M36.6 142.7V143.9M38.7 131V141.3M41.5 125.2V132.5M43.6 110.4V123.8M44.3 110.4V123.6M45.7 108.2V116.6M49.2 108.9V114.9M50.6 94.9V96.1M54.1 74.9V96.4M57.6 68.3V69.5M61.1 51V67.2M63.2 50.7V66.5M67.4 42.3V50.2M69.5 34.5V39.5M73.7 21.7V47.2M80.7 37V42.5M81.4 37V69.6M82.1 69.6V73.1M84.2 56V76.7M85.6 58.4V75.4M87 70.5V72.5M91.2 75.4V99.6M91.9 75.4V96.4M93.3 92.6V98.2M95.4 97.1V116.1M97.5 106.5V108.9M107.3 128.9V140.6M112.2 143.3V147.4M117.1 148V149.6M117.8 145.9V148M118.5 145.9V149.6M122 151.9V153.9M126.9 152.8V156M131.8 153.2V156M132.5 155.4V156.6" stroke="#000" stroke-opacity="0.4" stroke-width="1.4" fill="none"/>
<path d="M4.5 110.2V111.4M5.9 100.1V104.6M13.6 44.3V55.7M15 34.5V48.6M17.8 42.4V64.8M18.5 42.4V46.3M24.1 60.8V68.8M26.2 74.3V97.7M29 93.4V100.3M30.4 105V118.5M38.8 137.8V141.8M41.6 144.4V154.5M45.1 153V156M47.2 153.4V156M50 152.4V154.1M50.7 151.3V154.1M56.3 150.8V152.5M62.6 154.7V156M64.7 152.7V153.9M66.1 152.3V156M71 155.2V156.4M71.7 155.2V156.4M72.4 155.4V156.6M73.1 155.3V156.5M73.8 154.8V156M75.2 155.4V156.6M5.2 102.6V112M8.7 96.5V97.7M10.1 89.7V93.6M17.8 44.3V63.4M18.5 36.4V44.3M19.2 28.5V36.4M19.9 28.5V56.5M39.5 144V146.5M40.2 144.7V146.5M44.4 147.8V156M45.8 147.6V153.3M50.7 151V156M52.8 152V154.4M54.2 152.3V154.2M55.6 152.9V154.1M56.3 153.7V156M61.2 154.2V156M13.4 155.3V156.5M17.6 154.2V156M19 152.4V153.6M20.4 145.6V155.7M21.8 146.1V151.2M23.2 149.6V151.8M24.6 149.6V153.5M26 140.1V144.6M28.1 139.4V148.8M30.9 139.2V140.4M33.7 138.2V140.7M44.2 108.7V110.9M44.9 107.6V110.9M48.4 86.7V102.7M52.6 74.9V78.3M58.2 47.8V66.3M61 52.3V59.1M68 41.7V56.3M71.5 42V47.4M79.2 52.4V53.6M81.3 58.9V64.2M82.7 60.4V61.6M83.4 60.6V73.8M84.1 73.8V78.4M86.9 85.8V88.5M89.7 81.1V103.3M91.8 92.4V101.3M93.2 102.1V106.3M93.9 105.9V107.1M96 105.2V125.3M98.1 111.8V115.5M99.5 126.6V133.1M100.9 128.7V130.7M101.6 130.7V143.9M102.3 130.7V143.9M103.7 129.1V145.7M107.9 145.5V146.7M113.5 145.1V147.9M114.2 146.3V147.9M114.9 146.3V151.1M115.6 150.1V151.3M117.7 146.8V153.8M118.4 153.8V156M120.5 148.9V150.2M121.2 148.9V151.5M121.9 151.5V153.5M123.3 155.4V156.6M124.7 150.9V152.3M130.3 153.1V154.9M131 153.1V156M132.4 155.1V156.3M133.1 155.2V156.4M134.5 155.1V156.3M135.9 155.2V156.4M17.6 153.1V155.5M20.4 151.2V153.4M21.1 151.2V156M23.2 150V156M25.3 147.3V153.2M29.5 146.1V150.6M35.1 126.3V131M35.8 126.3V136.8M37.9 129.4V134.2M44.9 103.3V121.1M47 93.9V102.2M48.4 88.3V106.2M49.8 94.1V96.5M59.6 64.3V69.6M60.3 41.8V69.6M70.8 29V40.1M74.3 25.4V38.1M75 25.4V62M77.8 53.8V63.9M79.9 43.1V56.8M81.3 41.2V48.9M82 41.2V68M87.6 66V75.4M90.4 84.5V86.7M93.9 84.6V99.1M94.6 99.1V100.7M96.7 108.4V109.6M97.4 108.4V109.6M99.5 127.3V131.7M100.2 124.9V131.7M101.6 117.9V120.9M110.7 147.5V152.6M122.6 150.2V156M125.4 154.1V155.4M127.5 155.4V156.6M131.7 155.4V156.6M132.4 153V156M133.8 154.5V155.7M135.9 155.4V156.6M18.4 155.4V156.6M19.1 155.4V156.6M19.8 152.3V156M21.2 154.3V155.5M21.9 151.6V154.8M24 150.1V153.9M29.6 152V154.1M31 149.7V150.9M37.3 129.8V135.9M38.7 125.7V138.7M39.4 130.6V138.7M40.1 126.2V130.6M42.9 121.2V124.1M45 106.1V110.9M46.4 103.2V109.8M47.8 94.6V106.8M51.3 85.4V95.1M54.1 68.5V80.2M55.5 61.6V84.8M56.2 80.3V84.8M62.5 42.2V52.9M66 45.4V52M66.7 37.5V45.4M71.6 28.3V36.7M74.4 52.2V57.5M76.5 43.3V53.7M83.5 54.6V76.9M87 84.5V85.7M87.7 84.6V87.8M89.8 94.5V105.4M91.9 96.1V101.3M94 99.9V121.5M97.5 118V120.4M99.6 120.5V121.7M102.4 130.4V134.9M105.2 129.3V138.7M107.3 140.5V144.5M108.7 140.9V146.7M110.1 143V144.8M111.5 149.9V152.1M112.9 148V151.8M115 148V156M116.4 152.4V153.7M119.2 153.4V156M120.6 151.6V154.2M122.7 155.3V156.5M123.4 154.2V155.8M127.6 155.2V156.4M129.7 153.2V154.8M133.9 154.6V155.8M134.6 154.9V156.1M19.8 153.4V156M21.2 154V155.4M28.9 150.2V151.4M31 144.7V150.2M38 130.1V131.3M53.4 74.9V96.4M55.5 65.2V84.9M61.8 67.2V74.8M66.7 49.6V50.8M68.1 27.2V42.3M68.8 27.2V39.5M70.2 34.5V41M70.9 23.7V41M71.6 23.7V55.5M72.3 54.2V55.5M76.5 37.4V48.2M77.2 37.4V43.8M77.9 35.5V43.8M78.6 35.5V52.3M82.8 61.3V73.1M90.5 74.5V99.6M92.6 96.4V98.2M94 92.6V95.1M94.7 95.1V97.1M98.2 108.9V115M105.2 129.1V139.6M105.9 133.5V139.6M109.4 138.5V142.8M111.5 137.4V143.3M112.9 146V147.4M115 146.1V147.3M119.2 149.6V154M119.9 149.8V154M126.2 149.9V152.8M129.7 151.4V156M133.2 155V156.2M137.4 153.4V156" stroke="#000" stroke-opacity="0.6" stroke-width="1.4" fill="none"/>
<path d="M0.3 121V122.2M2.4 104.5V127.5M5.2 104.6V110.7M8 80.4V93.9M8.7 75.1V80.4M10.1 51V78.5M10.8 51V63.9M11.5 55.9V63.9M12.2 55.1V56.3M12.9 55V56.2M19.9 41.1V62.5M22 57.8V60.6M23.4 48.9V60.8M24.8 56.4V68.8M25.5 56.4V74.3M27.6 88.2V95.8M31.8 117V128.7M32.5 128.7V130M33.2 130V133.9M36 138.2V143.5M36.7 136V143.5M38.1 137.8V145.3M44.4 153V156M48.6 151.4V153M49.3 152.1V153.3M52.1 152V156M53.5 153.3V156M55.6 152.5V154.6M57 150.8V156M59.1 151.4V156M59.8 151.4V156M64 153.4V156M68.2 153.5V156M6.6 96.7V101.5M7.3 96.7V97.9M12.2 76.3V87.9M15.7 40.7V59.8M28.3 73.9V75.1M33.2 118V120.8M36 128.6V129.8M40.9 144V145.2M49.3 151.4V152.6M52.1 154.4V156M53.5 152V154.2M59.1 155.2V156.4M70.3 154.4V155.8M75.2 155V156.2M14.8 152.1V155.7M18.3 153V154.2M21.1 145.2V146.4M25.3 144.6V149.6M31.6 129.5V139.9M32.3 129.5V142M33 140.7V142M35.1 123.2V125.4M36.5 117.5V140M40 107.7V115.1M49.8 89.3V95.6M53.3 66.3V74.9M54.7 57V58.3M55.4 57V60M56.8 54.6V66.7M57.5 65.9V67.1M58.9 46.8V48M59.6 31.9V46.9M63.8 29V54.7M64.5 23.1V29M65.2 23.1V38.4M66.6 38.6V49.1M70.1 27.1V37M72.2 42V43.7M72.9 43.7V62.1M77.1 45.8V65.5M77.8 45.8V56.9M78.5 52.9V56.9M82 61.3V64.2M84.8 78.4V80.7M90.4 81.1V91.4M96.7 117.1V125.3M100.2 126.6V128.7M103 130.7V145.7M105.1 136.4V141.5M106.5 139.2V142.6M109.3 144.4V150.1M110 144.6V150.1M116.3 147.4V150.3M122.6 153.5V156M124 150.9V156M135.2 155.4V156.6M28.1 145.5V148.5M30.2 143.5V150.6M42.8 110.8V127.3M44.2 121.1V123.6M51.2 84V98.1M54 68.5V96.2M56.8 51.3V69.2M80.6 48.9V56.8M84.1 49.8V71.1M108.6 139.9V145.7M115.6 145.5V149.4M119.8 155.3V156.5M129.6 154.5V155.7M133.1 153V155.4M24.7 152.8V154M27.5 146.1V147.3M28.2 146.5V147.8M31.7 139.1V150.3M35.2 138.9V146.3M42.2 113V121.2M44.3 110.9V112.8M45.7 106.1V109.8M57.6 46.7V63.2M58.3 42.4V46.7M64.6 43.2V51.1M67.4 37.5V47.7M68.8 22V39M70.2 40.3V54.2M70.9 28.3V40.3M72.3 36.7V45.7M73 45.7V50.1M73.7 50.1V52.2M75.1 50.9V57.5M77.9 30.8V46M78.6 46V56.7M81.4 57.1V75.6M82.8 44V54.6M84.9 69.4V75.8M89.1 100.3V105.4M95.4 99.1V106.8M96.1 106.8V109.8M98.9 121.7V126.2M101 125.3V132.1M104.5 129.3V132.3M105.9 138.7V143.6M106.6 143.4V144.6M108 140.5V146.7M109.4 140.9V144.8M113.6 148V153M117.8 154.5V156M118.5 154.5V156M124.1 153.7V154.9M126.2 152V155.9M126.9 155.2V156.4M128.3 155.4V156.6M129 153.2V156M132.5 155.4V156.6M137.4 155.1V156.3M24.7 147.8V150.6M35.2 142.7V147.6M40.8 125.2V131.6M42.2 115V132.5M46.4 100.8V116.6M51.3 94.1V95.3M52.7 74.9V83.1M62.5 66.5V74.8M65.3 40.1V59M74.4 21.7V23.9M79.3 52.3V66.7M83.5 61.3V76.7M86.3 58.4V72.5M96.8 106.5V113.7M101.7 115.9V123M103.8 124.6V128.3M106.6 128.9V133.5M108.7 139.7V142.8M123.4 151.2V152.4M128.3 152.9V154.8M129 151.4V154.8M135.3 155.2V156.4M136 155.2V156.4" stroke="#000" stroke-opacity="0.85" stroke-width="1.4" fill="none"/>
<path d="M0 0H155.0V156.0H0Z" stroke="#333" stroke-width="1.05" fill="none"/>
<text x="0.6" y="-1.2" font-family="Liberation Mono, monospace" font-weight="bold" font-size="4.6" fill="#222" textLength="42.3" lengthAdjust="spacingAndGlyphs">SINGLE PARAMETER</text>
<text x="2.3" y="162.2" font-family="Liberation Mono, monospace" font-weight="bold" font-size="5" fill="#222" text-anchor="middle">1</text>
<text x="37.0" y="162.2" font-family="Liberation Mono, monospace" font-weight="bold" font-size="5" fill="#222" text-anchor="middle">1</text>
<text x="76.0" y="162.2" font-family="Liberation Mono, monospace" font-weight="bold" font-size="5" fill="#222" text-anchor="middle">10</text>
<text x="115.0" y="162.2" font-family="Liberation Mono, monospace" font-weight="bold" font-size="5" fill="#222" text-anchor="middle">100</text>
<text x="148.6" y="162.2" font-family="Liberation Mono, monospace" font-weight="bold" font-size="5" fill="#222" text-anchor="middle">1000</text>
<text transform="translate(-2.2 2.3) rotate(-90)" font-family="Liberation Mono, monospace" font-weight="bold" font-size="4.6" fill="#444" text-anchor="middle">20</text>
<text transform="translate(-2.2 39.0) rotate(-90)" font-family="Liberation Mono, monospace" font-weight="bold" font-size="4.6" fill="#444" text-anchor="middle">15</text>
<text transform="translate(-2.2 77.0) rotate(-90)" font-family="Liberation Mono, monospace" font-weight="bold" font-size="4.6" fill="#444" text-anchor="middle">10</text>
<text transform="translate(-2.2 115.5) rotate(-90)" font-family="Liberation Mono, monospace" font-weight="bold" font-size="4.6" fill="#444" text-anchor="middle">5</text>
<rect x="-5.2" y="153.4" width="2.2" height="1.4" fill="#111"/>
</g>
<g transform="matrix(1.0010 -0.0061 0.0087 1.0061 161.52 608.23)">
<path d="M0.3 119.1V123.7M1.7 120.7V121.9M6.6 92.2V99.5M8 87.7V119.8M12.9 53.5V59.7M16.4 43.1V45.4M17.1 46.4V57.6M21.3 56.9V121.7M22 53.9V61.8M23.4 65.3V69.2M24.8 78.5V91.2M26.2 86.6V108.6M27.6 83.5V86.3M29 108.3V115.1M30.4 110.8V115.7M33.9 145V150.7M34.6 135.5V139.8M36 135V139.2M38.1 145.5V145.6M39.5 149.6V153.1M40.2 154.2V156M44.4 153.7V156M45.8 153.4V153.6M47.9 156V156M50.7 156V156M51.4 153.4V153.8M52.8 156V156M53.5 155.2V156M56.3 154.8V155.8M57.7 156V156M17.1 152.8V154.5M17.8 150.9V154.3M18.5 144.9V146.8M19.2 154.6V155M20.6 148.7V153.9M21.3 154.1V154.4M22 150.6V151.9M24.1 140.6V142.2M24.8 130.3V130.9M25.5 139.7V149.1M26.2 121.4V121.6M31.8 118.9V125.2M32.5 102.2V114.6M34.6 91.2V98.3M36.7 82V82M40.2 67.1V91M43.7 54.7V87.2M45.1 47.5V53.1M45.8 55.6V59.4M52.1 51.6V61.6M58.4 45V46.2M61.9 64.9V90.5M64 65.8V82.7M66.1 83.8V84.1M68.2 70.9V86.4M69.6 78.8V79.6M72.4 79.4V82.8M73.1 110V112.1M73.8 85.9V98.2M77.3 120.6V128.7M80.1 110.3V121.7M82.9 121.9V122.1M83.6 125.8V144.2M84.3 113.9V115.1M88.5 129.4V131.4M93.4 144.4V146.1M94.1 136V142.2M94.8 142.6V146.4M95.5 143.1V147.8M96.2 152.3V154.9M99 152.1V153.6M99.7 147.2V147.6M100.4 147.1V149.9M106 149.8V153M107.4 150.3V151.3M108.1 152.4V153M114.4 154.3V154.6M115.1 156V156M21.8 150.9V151M25.3 150.8V151.7M29.5 136.7V137.8M31.6 117.8V118.1M33 127V131M37.9 95.8V104.9M40.7 64.4V69.5M41.4 80V97.8M42.1 78.9V110.2M44.2 64.1V65.2M46.3 58.2V58.2M47.7 60.4V106.4M48.4 47.1V119.6M51.9 56.4V60.2M54.7 71.8V112.4M55.4 52V73.6M58.2 71.4V72.5M61.7 46.4V68.8M62.4 74.1V82.3M63.1 52.2V66.5M63.8 78.1V95.7M65.2 59.9V66.2M67.3 92.9V94.2M68 73V124.2M68.7 88.5V97.8M69.4 93.6V110.2M70.1 91.4V100.2M72.2 91.1V99.7M76.4 91.3V101.4M79.9 114.2V114.8M82 122.2V126.9M83.4 126.7V128.5M84.1 128.4V133.1M84.8 124.2V126.4M86.9 137.2V138.1M88.3 140V152.4M89.7 133V137.4M93.2 143.6V146.7M94.6 141.5V141.6M95.3 142.6V142.9M96 151.1V151.5M96.7 142.4V142.9M102.3 151.3V153.9M103 146.4V147.7M103.7 147V149M105.1 150.7V154.2M110.7 149.9V150.1M112.1 151.9V154.4M24.8 153.4V153.6M26.2 155.6V155.9M26.9 156V156M29 151.2V151.8M33.9 139.1V140.4M34.6 139.8V140.9M38.8 135.2V138.5M43.7 142.3V143.8M47.9 144.5V146.3M48.6 143.4V149.1M51.4 148.5V149.9M54.2 145V145.1M54.9 150.1V150.3M56.3 151.7V153.3M57.7 152V152M59.8 153.1V153.4M61.2 152.6V154.1M62.6 151.6V152.1M63.3 154.2V156M64.7 156V156M67.5 152.5V152.8M71 155.5V155.8M71.7 153.4V155.9M72.4 155.7V156M73.8 155.7V156" stroke="#000" stroke-opacity="0.22" stroke-width="0.8" fill="none"/>
<path d="M0.3 140V156M4.5 144.6V156M8.7 129.2V156M10.5 148.7V156M11.1 142.7V156M15.3 126V156M15.9 144.8V156M17.1 146.6V156M18.9 152.4V156M19.5 153.8V156M21.9 155.7V156M23.1 150.9V156M24.3 146.3V156M24.9 139.5V156M25.5 146.2V156M26.1 126V156M26.7 151.7V156M27.3 148.4V156M29.1 126V156M30.9 138.7V156M31.5 137.2V156M36.3 148.3V156M37.5 126V156M39.9 146.7V156M44.7 126V156M53.7 133.1V156M59.1 146.2V156M60.3 145.9V156M60.9 126V156M61.5 150.7V156M62.1 131.1V156M62.7 126V156M63.3 126V156M65.1 137.6V156M66.3 126V156M66.9 155.3V156M68.7 135.4V156M69.3 151.7V156M72.3 127.9V156M74.7 147.5V156M77.1 155.6V156M81.3 142.9V156M81.9 154.9V156M82.5 142.9V156M84.9 155.9V156M90.3 152.6V156M90.9 153.2V156M95.1 150.4V156M96.9 151V156M97.5 153.8V156M100.5 153.1V156M101.1 152.3V156M101.7 147.5V156M102.3 149.5V156M103.5 154.3V156M106.5 153.6V156M107.7 154.9V156" stroke="#000" stroke-opacity="0.22" stroke-width="0.8" fill="none"/>
<path d="M0.3 147.6V156M0.9 154.6V156M1.5 151.5V156M2.1 154.6V156M2.7 149.9V156M3.3 154V156M3.9 155.3V156M4.5 152.7V156M5.1 154.2V156M5.7 154.2V156M6.3 149.6V156M6.9 154.7V156M7.5 154.9V156M9.3 150.6V156M9.9 154.7V156M10.5 154.4V156M11.1 153.6V156M11.7 149.1V156M12.3 153.6V156M12.9 155.1V156M14.1 155.3V156M14.7 146.7V156M15.3 155.3V156M15.9 151.6V156M16.5 154.6V156M17.1 150.8V156M17.7 154.9V156M18.3 149.8V156M18.9 147.8V156M19.5 154.5V156M20.7 151.3V156M21.3 154.3V156M23.1 154.1V156M24.3 151.9V156M24.9 154.3V156M26.1 153.7V156M26.7 146.4V156M27.3 154V156M27.9 150.7V156M29.1 146.4V156M29.7 152V156M30.3 154.2V156M30.9 152.9V156M33.3 151.2V156M33.9 150.8V156M34.5 149.3V156M35.1 154V156M35.7 152.6V156M36.3 155.3V156M36.9 155.2V156M37.5 154.5V156M38.1 152.8V156M38.7 151V156M39.3 155.2V156M39.9 151.3V156M40.5 153.9V156M41.1 148.9V156M41.7 154.4V156M42.9 155.1V156M43.5 153.1V156M44.7 146.4V156M45.3 153.5V156M45.9 151V156M47.7 149.3V156M48.3 151.6V156M48.9 153.9V156M50.1 154.9V156M50.7 154.7V156M51.3 153.7V156M51.9 154V156M52.5 151.4V156M53.1 148.8V156M53.7 148.4V156M54.3 146.4V156M54.9 154.6V156M56.7 154.8V156M57.3 152.3V156M57.9 151.8V156M58.5 154.9V156M59.1 149.5V156M59.7 153.8V156M60.3 154.3V156M60.9 155.1V156M61.5 155V156M62.1 153V156M62.7 149.7V156M63.3 154.9V156M63.9 155V156M64.5 154.7V156M66.3 151.1V156M66.9 153.9V156M67.5 149.5V156M68.7 154.2V156M69.9 147.4V156M70.5 153.5V156M71.7 146.4V156M72.3 148.8V156M72.9 150.5V156M73.5 151.4V156M74.1 150.8V156M74.7 155.4V156M75.3 152.2V156M75.9 153.6V156M76.5 147.8V156M77.1 150.3V156M77.7 155.1V156M78.3 146.4V156M79.5 151.1V156M80.7 150.9V156M81.9 154.8V156M82.5 154.5V156M83.1 152.2V156M84.3 153.8V156M84.9 155.2V156M85.5 148.6V156M86.7 153.3V156M87.3 149V156M88.5 154.7V156M89.1 147.4V156M89.7 151.3V156M90.3 149.6V156M90.9 146.4V156M91.5 150.6V156M92.7 154.8V156M94.5 146.4V156M95.1 147.9V156M95.7 152.7V156M96.3 151.7V156M96.9 154.5V156M97.5 154.5V156M98.1 154.3V156M98.7 153.9V156M99.3 154.6V156M100.5 153.7V156M101.1 153.5V156M102.3 150.6V156M103.5 150.9V156M104.1 152.5V156M104.7 154.4V156M105.3 152V156M105.9 153.2V156M106.5 155.1V156M107.1 151.5V156M107.7 151.1V156M108.3 151.5V156M109.5 147.1V156M110.1 146.9V156M110.7 151.4V156M112.5 146.4V156M113.1 147.3V156M113.7 155.1V156M114.3 150.1V156M114.9 153.7V156M115.5 150.5V156M116.1 153.6V156M116.7 154.1V156" stroke="#000" stroke-opacity="0.6" stroke-width="0.9" fill="none"/>
<path d="M0.3 115.9V118.5M1.7 106V113.2M2.4 116.7V116.9M3.1 108.5V116.5M3.8 116V117.3M4.5 102.4V104.7M5.2 92.9V94.9M5.9 83V87.8M6.6 78.7V87.8M8 70.8V72.2M8.7 76.1V78.8M9.4 77.6V78.3M10.1 73.5V73.9M10.8 65V68.1M11.5 62.9V67.8M12.2 60.2V63.1M12.9 52.1V53.5M13.6 52.6V52.6M14.3 51.4V52.9M15 41.3V45M16.4 41.7V43.1M17.1 40.1V43.1M17.8 43.3V46.4M18.5 46.3V57.7M19.2 28.4V37.5M19.9 26.1V37.5M20.6 53.6V55.3M21.3 55.9V56.4M22 49.9V53.9M24.1 50.6V51M24.8 46.1V51M25.5 68V78.5M26.2 79.7V83.7M26.9 79V86.6M28.3 80.2V83.5M29 80V86.6M29.7 106.5V108.3M30.4 102V110.7M31.1 105.8V110.8M31.8 110.4V118.6M32.5 117.5V118.6M33.2 124.5V127.1M33.9 119.8V127.1M34.6 135.1V135.5M35.3 128.7V135.5M36 135V135M36.7 131.2V135M37.4 142.9V143.8M38.8 145.1V145.5M39.5 147.9V149.6M40.2 148.2V149.6M40.9 154V154.2M43 151.1V153.9M45.1 152.7V153.7M45.8 151.8V153.4M46.5 152V153.4M47.2 151.7V154.7M47.9 154.7V155.4M49.3 154.2V155.4M50.7 155.2V155.4M51.4 153.3V153.4M52.1 151.3V153.4M52.8 153.6V155.4M53.5 154.5V155M54.2 154V154.3M54.9 153.6V153.7M55.6 153.9V154.1M56.3 154.7V154.8M57 152.3V154.8M57.7 153.7V155.4M58.4 154.6V154.8M17.1 149.9V152.2M17.8 148.8V150.9M18.5 144.5V144.9M19.2 144.9V144.9M20.6 148V148.7M21.3 148.4V148.7M22 148.1V150.6M22.7 136.7V139.1M23.4 137.9V138.8M24.1 138.6V139.6M25.5 129.2V130.3M26.2 118.1V121.4M26.9 120.4V121.4M27.6 126.6V127.9M28.3 113.9V114.4M29 111.7V113.9M29.7 108.7V113.4M30.4 111.1V112.2M31.1 112.1V112.2M31.8 110.6V118.9M32.5 96.8V102.2M33.9 85.5V91.1M34.6 87.9V91.2M35.3 87.4V91.2M36 95.8V98.2M36.7 80.1V82M37.4 63.7V71.6M38.1 63.2V67.7M38.8 59.4V60M39.5 57.5V60M40.2 58.7V67.1M41.6 48.7V55.1M42.3 57.1V61.4M43 55.3V56.3M43.7 51.1V54.7M44.4 33.1V44M45.1 33V44M45.8 41.8V47.5M46.5 54.6V55.6M47.9 38.1V39.2M48.6 35.6V39.2M49.3 33.2V44.3M50 40.6V45M50.7 31V37.4M52.1 44.2V51.6M52.8 40.5V51.6M53.5 49V54.2M54.2 50.6V54.2M54.9 54.6V60.8M56.3 44.9V55.8M57 40.8V45.4M58.4 42.3V45M59.8 49.6V59.4M60.5 48.6V58.5M61.2 51.3V58.5M61.9 53.9V64.5M62.6 41.1V51.6M63.3 48.2V51.6M64 54.7V65.2M64.7 55.4V65.8M65.4 66.6V73.8M66.8 74.8V78.4M67.5 77.6V78.4M68.2 67.7V70.9M68.9 66.5V70.9M69.6 75.5V78.8M70.3 71.6V76.1M71 66.5V76.1M71.7 75.1V80.6M72.4 78.2V79.4M73.1 76.2V79.4M73.8 83.5V85.9M74.5 85V85.9M75.9 99.8V104.2M76.6 95.4V104.2M77.3 106.1V111M78 112.3V120M78.7 101.3V109.3M79.4 106.8V109.3M80.1 101.9V110.3M81.5 103.5V108.1M82.2 108.9V108.9M82.9 116.7V118.2M83.6 114.1V121.9M84.3 112.2V113.9M85 111.7V113.9M86.4 121.2V124.3M87.1 124.6V124.9M87.8 124.8V124.9M89.2 128.9V129.4M89.9 135.1V138.7M90.6 128.6V132.4M91.3 131.3V132.4M92 136.3V138.3M92.7 138.3V138.3M94.1 131.6V136M94.8 132.7V136M95.5 140.8V142.3M96.2 138.2V143.1M96.9 141.5V142.4M99 140.1V145.6M99.7 147V147.2M100.4 145.6V146.5M101.1 146.4V147.1M101.8 145.9V149M102.5 143.8V149M103.9 145.3V146.8M104.6 146.7V150.2M105.3 144.3V146.6M106 144.2V146.6M106.7 147.8V149.8M107.4 148.6V150.3M108.1 145.7V150.3M108.8 147V149.6M109.5 147.9V149.6M110.2 146.1V149.2M111.6 150.4V154.7M112.3 152.8V155M113 154.6V155M113.7 148.3V150.4M114.4 146.4V150.4M115.8 154V155.1M116.5 153.5V154.9M117.2 153.8V154.5M21.1 148.1V148.6M21.8 144.7V149.2M22.5 150.4V150.6M23.9 148.9V151.7M24.6 152.4V153.5M25.3 147.8V150.8M26 144.8V149.3M26.7 140.5V141M27.4 141V141M28.1 143.1V145.1M28.8 143.7V145.1M29.5 130.5V136.7M30.2 133.7V134.6M31.6 111.2V117.8M33 120.6V121.8M33.7 108.9V116.4M34.4 106.1V112.1M35.1 109.6V110.7M35.8 108.9V110.7M37.2 98V100.1M37.9 91.8V95.8M38.6 92.8V93.8M39.3 84.6V93.8M40 77.4V78.7M40.7 64.1V64.4M41.4 64.2V64.4M42.1 77.9V78.9M42.8 58.5V61.5M43.5 60.2V61.5M44.2 63.6V64.1M44.9 55.9V59.3M45.6 58.7V59.3M46.3 57.4V58.2M47 54.3V58.2M47.7 53.1V60.4M48.4 41.3V47.1M49.1 36.3V47.1M49.8 48.4V58.4M50.5 56.7V58.4M51.2 46.2V47.5M53.3 39.1V50M54 50V50M54.7 62.9V71M55.4 45.9V52M56.1 27.6V37.5M56.8 26.7V37.5M57.5 52.6V53.7M58.2 45V53.7M59.6 46.5V57.3M61 49.2V55.6M61.7 40V46.4M63.1 43V52.2M63.8 47.2V52.2M64.5 55.2V62.8M65.2 57.7V59.9M67.3 71.7V77.3M68 72.8V73M68.7 72.6V73M70.1 88.9V91.4M70.8 91V91.4M71.5 79.9V84.3M72.2 82.4V84.3M72.9 84.4V89.2M73.6 83.9V88.9M75 94.6V95.4M75.7 85.3V93.6M76.4 83V91.3M78.5 102V110.6M79.2 111.4V115.2M79.9 112.6V114.1M80.6 110.1V113.7M81.3 110V114.4M82.7 114.9V121.8M83.4 114.8V122.6M84.1 121.7V126.7M84.8 121.7V124.2M85.5 122.6V124.2M86.2 119.5V126.9M86.9 124.5V126.9M87.6 125.4V131.4M88.3 131.4V131.4M89 125.1V129.3M89.7 124.9V129.3M90.4 126.3V131.5M91.1 128.5V131.5M91.8 142.7V143.4M92.5 146.2V146.6M93.2 138.3V143.6M93.9 135.1V138.9M95.3 140.8V141.4M96 140.2V142.6M96.7 138.6V142.4M97.4 140V142.4M98.1 143.5V144.6M98.8 149.2V150.1M99.5 151.5V152.1M100.2 149.4V150.2M101.6 142.8V144.8M102.3 147.3V150M103 144.7V146.4M103.7 144.6V146.1M105.1 145.5V150.3M105.8 146.4V149.2M106.5 147.1V149.2M108.6 154.8V154.8M110 150.4V151.4M110.7 149.8V149.9M111.4 147.7V149.9M112.1 149.5V151.7M112.8 149.1V151.9M113.5 154V155M114.2 154.1V155.4M114.9 154.9V155.1M24.1 152.3V153.6M24.8 151.8V153.2M25.5 153.2V153.4M26.2 154.2V154.9M27.6 154.1V155.1M28.3 154.1V154.4M29 150.7V151.2M29.7 150.8V151.2M30.4 151.7V153.1M31.1 147.2V147.5M31.8 139.7V141.6M33.2 136.6V138.3M33.9 135.7V138.1M34.6 136V138.8M35.3 130.9V135.7M36 128.6V132.5M36.7 129.8V132.5M38.1 135.7V136M38.8 131.6V135.2M39.5 133.4V135.2M40.2 136.2V137.6M40.9 130.8V135.5M41.6 134.8V135.5M42.3 134.3V137.4M43.7 139.9V142.3M44.4 135.3V140M45.8 138.3V138.7M46.5 142.3V142.7M47.2 138.8V143.3M47.9 140V144.5M49.3 141.7V143.4M50 143.7V145M50.7 140.7V145.2M51.4 147.6V147.8M52.1 142.9V145.8M52.8 143.5V145.8M53.5 144V147.6M54.2 144.7V145M54.9 143.7V145M56.3 150.3V150.4M57 151.6V151.7M57.7 151.9V152M58.4 150.4V152M59.1 150.8V152M59.8 151.8V152M60.5 150.5V153.1M61.9 148.1V150.8M62.6 150.5V150.6M63.3 149.4V151.6M64 150.6V153.5M64.7 151.9V153.9M65.4 154.1V154.8M66.1 151V153.3M66.8 149V152.7M67.5 150.6V152.3M68.9 150.1V152.4M69.6 152.3V152.4M70.3 149.1V152.7M71 152.4V152.7M71.7 150.4V153.4M72.4 153.4V153.4M73.1 154.3V155.3M73.8 155V155.2M74.5 154.8V155.2" stroke="#000" stroke-opacity="0.3" stroke-width="0.8" fill="none"/>
<path d="M1 113.2V119.1M2.4 116.9V120.7M5.2 94.9V104.7M6.6 87.8V92.2M7.3 72.2V92.2M16.4 43.1V57.4M17.1 43.1V46.4M27.6 83.5V88.8M28.3 83.5V86.6M31.1 110.8V120.6M36 135V137.5M38.1 143.8V145.5M40.2 149.6V154.2M43 153.9V156M50 155.4V156.6M55.6 154.1V156M56.3 154.8V156M57 154.8V156M57.7 155.4V156.6M58.4 154.8V156M1.7 141.9V155.6M4.5 116.2V120.8M5.2 110.2V120.8M6.6 94V101.4M8.7 98.9V104.1M9.4 84V104.1M10.1 82.9V84.1M12.2 80.7V81.9M12.9 81.3V84.5M14.3 53.4V62.1M17.1 32.9V44.2M19.2 40.8V65.1M19.9 50.9V65.1M20.6 50.9V54.2M21.3 53.2V54.4M22 34.7V53.5M26.9 70.6V74.6M27.6 74.6V79.7M28.3 79.7V83.4M29.7 91.6V102.8M31.1 97.7V99.1M33.9 111.3V126.3M35.3 122.5V133.7M36.7 140.2V144.4M37.4 142.3V144.4M40.9 147V152M41.6 144.1V152M42.3 144.1V147.9M45.1 151.2V153.4M45.8 151.2V156M47.2 151.1V155.5M50.7 152.7V153.9M54.2 154.6V155.8M55.6 154.6V155.9M57.7 154.4V156M17.8 150.9V152.8M23.4 138.8V140M24.8 130.3V140.6M25.5 130.3V139.7M27.6 127.9V129.1M28.3 114.4V128.6M29 113.9V115.1M30.4 112.2V113.4M33.9 91.1V102M43 56.3V61.4M45.8 47.5V55.6M50.7 37.4V45.2M51.4 37.4V55.8M61.2 58.5V65.3M62.6 51.6V64.9M64 65.2V66.4M68.9 70.9V85.4M73.8 85.9V110M78.7 109.3V120.5M79.4 109.3V125.4M92 138.3V143.2M101.1 147.1V155.1M103.2 146.8V153.7M103.9 146.8V150.2M106 146.6V149.8M107.4 150.3V153.9M108.8 149.6V152.4M117.2 154.5V155.7M17.8 154.9V156.1M20.6 148.1V152.9M21.3 152.2V153.4M22 146.8V152.6M24.1 149V154.5M24.8 141.8V149M29 127.9V135.7M30.4 120V132.2M33.2 111V112.9M34.6 105.7V111.8M36 90.2V99.9M38.1 73.9V76M41.6 70.8V78.2M42.3 78.2V84.3M43.7 61V62.2M45.8 40.2V69.4M47.2 45.1V63.4M49.3 49.2V50.4M51.4 31.8V57.1M53.5 46.8V59.7M54.9 36.5V42.2M55.6 36.5V52.3M56.3 51V52.3M57.7 44V46.5M61.9 72.7V76.2M66.1 60.6V63.2M67.5 71.8V76.1M68.2 76.1V82.1M71 77.1V87.9M73.1 86.8V98.1M74.5 85.6V98.5M75.2 95.4V98.5M75.9 95.4V104.2M79.4 106.8V113.3M80.1 103.7V106.8M80.8 101.1V103.7M83.6 113.5V115.5M84.3 115.5V129.5M85.7 122.3V124.2M89.2 122.9V135.5M91.3 129.6V136.6M92 136.6V138M93.4 128.4V147.5M95.5 142.2V144.9M96.2 135.2V142.2M96.9 135.2V144.3M99.7 145V147.1M101.8 149.1V150.4M102.5 148.5V149.7M105.3 150.6V156M106 152.1V156M106.7 151V152.2M108.1 148.9V154.8M109.5 154.3V156M110.2 150.8V156M115.8 151.2V154.8M24.6 153.5V154.7M28.1 145.1V148.6M33.7 116.4V127M35.8 110.7V114.5M39.3 93.8V102.4M47 58.2V64.3M49.8 58.4V61.8M50.5 58.4V59.6M51.2 47.5V59.6M54.7 71V72.2M56.1 37.5V52M66.6 57.8V77.3M69.4 88.5V93.6M72.2 84.3V91.1M74.3 89.9V101.8M81.3 114.4V126.8M82 122.2V126.8M86.2 126.9V133.7M87.6 131.4V137.2M91.1 131.5V143.4M93.9 138.9V143.6M97.4 142.4V144.6M98.1 144.6V150.1M105.8 149.2V150.7M107.9 152.3V154.9M21.1 155.4V156.6M21.8 155.4V156.6M22.5 155.1V156.3M26 147.7V148.9M29.5 148.6V152.7M30.2 142.9V152.7M31.6 141.3V146M33 127V145.4M34.4 128.5V136.6M36.5 108.7V127.1M41.4 90.7V93.3M42.1 90.7V100.7M42.8 79.4V100.7M43.5 78.8V80M49.1 42.8V69.1M50.5 43.1V61.3M51.9 45V60.9M54.7 40.8V45.8M55.4 40.8V49.3M56.8 49.3V60.9M58.2 37.1V62.4M59.6 44.2V70.7M60.3 54.5V70.7M65.2 48.3V69.5M66.6 70.6V73.7M69.4 79.1V85.3M70.8 85V88.6M71.5 87.8V89M72.2 69.9V88.2M72.9 69.9V72.1M73.6 72.1V76.7M74.3 76.7V106M76.4 81.1V94.3M77.1 94.3V105.7M80.6 105.4V106.6M81.3 106.1V112.9M82.7 113.6V122.7M83.4 117.4V122.7M85.5 119.9V123.4M86.2 123.4V133.5M87.6 118.3V134.6M89.7 127.2V132.6M90.4 126.7V127.9M92.5 145.2V146.4M93.2 144V146.4M93.9 143.8V145M96.7 140V144.8M97.4 139V144.8M100.2 145.6V154.6M100.9 144.5V154.6M103 147.2V150.8M104.4 148.6V151.9M105.1 151.7V152.9M109.3 148.7V150.2M111.4 151V156M112.8 155.1V156.3M114.9 150.2V154.7M24.1 153.6V154.8M25.5 153.4V155.4M30.4 153.1V154.3M33.2 138.3V145.1M41.6 135.5V137.4M42.3 137.4V142.4M45.8 138.7V143.3M46.5 142.7V143.9M47.2 143.3V147.6M50.7 145.2V148.2M54.2 145V147.6M57 151.7V153.3M59.1 152V154.1M59.8 152V153.2M68.2 152.5V156M68.9 152.4V156M71 152.7V155.5M24.8 155V156.2M26.9 155.2V156.4M28.3 155.4V156.6M31.8 154.3V155.5M32.5 151.8V154.9M33.2 146.9V151.8M41.6 132.5V136.6M43 136.5V142.5M44.4 138.2V139.4M45.1 138.7V141M54.2 142.1V143.3M54.9 143.1V145.7M59.1 147.8V153.6M59.8 147.4V148.6M61.9 150.7V152.3M62.6 149.9V151.1M65.4 151.9V153.1M66.1 152.9V155.6M66.8 154.4V155.6M68.9 152.9V156M70.3 155.2V156.4M71 154.7V155.9M72.4 152V155.5M74.5 153V154.2" stroke="#000" stroke-opacity="0.2" stroke-width="1.4" fill="none"/>
<path d="M3.1 116.5V117.7M3.8 117.3V121.8M5.9 87.8V94.9M11.5 67.8V69M15 45V62.7M15.7 45V57.4M19.2 37.5V57.7M23.4 52.4V65.3M25.5 78.5V83.7M26.2 83.7V86.6M29 86.6V108.3M30.4 110.7V111.9M32.5 118.6V134.5M33.2 127.1V134.5M36.7 135V148.9M37.4 143.8V148.9M41.6 155.3V156.5M45.1 153.7V156M45.8 153.4V156M47.2 154.7V156M48.6 155.4V156.6M52.1 153.4V156M52.8 155.4V156.6M54.9 153.7V154.9M7.3 94V116.4M15 57V62.1M15.7 51.5V57M17.8 32.9V51.2M18.5 40.8V51.2M22.7 34.7V47.6M23.4 47.6V50M24.1 50V52.3M24.8 52.3V58.3M29 83.4V102.8M30.4 91.6V97.7M31.8 99.1V116.2M32.5 116.2V119.3M33.2 111.3V119.3M34.6 122.5V126.3M36 133.7V140.2M38.1 142.3V143.9M38.8 143.9V149.5M40.2 139.3V147M43.7 154.1V155.6M47.9 152.7V155.5M48.6 152.7V155.3M49.3 154.1V155.3M50 153.4V154.6M51.4 152.7V156M52.1 153.4V156M53.5 155.1V156.3M54.9 154.8V156M57 155.4V156.6M58.4 154.4V155.9M18.5 144.9V150.9M19.2 144.9V154.6M20.6 148.7V150.9M21.3 148.7V154.1M22 150.6V154.1M24.1 139.6V140.8M29.7 113.4V114.7M32.5 102.2V118.9M37.4 71.6V82M40.9 55.1V67.1M44.4 44V54.7M49.3 44.3V46M54.2 54.2V61.1M55.6 61.8V72.2M57 45.4V55.8M57.7 45.4V74.7M58.4 45V74.7M59.8 59.4V67.1M63.3 51.6V65.8M65.4 73.8V75M66.8 78.4V83.8M69.6 78.8V85.4M70.3 76.1V78.8M71.7 80.6V97.3M72.4 79.4V97.3M73.1 79.4V110M75.2 108.8V113.6M76.6 104.2V111M77.3 111V120.6M80.1 110.3V125.4M80.8 108.5V110.3M81.5 108.1V109.3M83.6 121.9V125.8M84.3 113.9V125.8M87.1 124.9V127.7M89.9 138.7V146.1M91.3 132.4V143.2M95.5 142.3V143.5M99.7 147.2V152.1M100.4 146.5V147.7M101.8 149V155.1M102.5 149V153.7M115.8 155.1V156.3M19.2 149.4V152.5M19.9 148.1V149.4M22.7 141.8V146.8M25.5 141.8V147M26.9 137.1V138.3M27.6 138V142.7M28.3 135.7V142.7M29.7 127.9V132.2M33.9 105.7V112.9M35.3 90.2V111.8M37.4 76V84.9M38.8 73.9V83.9M39.5 78.9V83.9M40.2 77.3V78.9M44.4 44.9V61.7M47.9 39.9V45.1M48.6 39.9V49.7M52.1 44.3V57.1M54.2 42.2V59.7M57 46.5V51M60.5 62.9V65.7M64 68.7V71.6M64.7 56.4V71.6M66.8 60.6V71.8M68.9 74V82.1M70.3 87.9V94.2M71.7 76.4V77.6M77.3 84.5V88.9M78 88.9V109M78.7 109V113.3M81.5 101.1V112.4M82.2 112.4V122.4M82.9 113.5V122.4M85 122.3V129.5M87.1 124.3V130.1M87.8 120.9V124.3M98.3 144.5V145.7M103.9 147.7V155.8M110.9 150.8V153.7M112.3 153.2V156M113 155.4V156.6M23.2 151.1V152.3M32.3 117.8V121.8M34.4 112.1V116.4M40 78.7V102.4M44.9 59.3V64.1M45.6 59.3V64.7M51.9 47.5V56.4M62.4 46.4V74.1M63.8 52.2V78.1M64.5 62.8V78.1M68 73V92.9M70.1 91.4V93.6M75 95.4V101.8M77.1 91.3V105.5M82.7 121.8V123M83.4 122.6V126.7M84.8 124.2V128.4M88.3 131.4V140M93.2 143.6V147.7M100.2 150.2V152.1M105.1 150.3V151.5M110.7 149.9V151.4M111.4 149.9V152.6M112.8 151.9V155.2M114.2 155.4V156.6M23.2 154.6V155.8M25.3 147.9V156M26.7 147.8V149M27.4 148V149.2M28.8 146.6V148.6M30.9 141.3V142.9M33.7 127V136.6M35.1 127.9V129.1M35.8 108.7V128.4M37.9 104.9V121.5M38.6 97.9V121.5M39.3 97.9V105.3M40 105.3V111.2M44.2 71V79.4M44.9 71V85.8M46.3 75.6V76.8M47 62.2V75.9M47.7 62.2V66.4M49.8 42.8V61.3M52.6 60.9V70.3M54 45.8V50.8M56.1 48.7V49.9M57.5 60.9V62.4M61 53.6V54.8M63.1 56.2V63.7M64.5 46.4V48.3M65.9 69.4V70.6M68 64.9V69M68.7 64.9V85.3M75 91.1V106M75.7 81.1V91.1M77.8 97V105.7M79.9 105.9V109M82 112.7V113.9M86.9 118.3V133.5M88.3 124.6V134.6M91.1 127.4V136.6M91.8 136.6V145.3M95.3 133.8V139.6M99.5 142.8V145.6M101.6 142.3V144.5M102.3 142.3V150.8M103.7 147.2V148.6M106.5 148.4V154.2M107.2 153.6V154.8M108.6 149.6V150.8M110 148.7V155.3M110.7 155.1V156.3M112.1 151V156M28.3 154.4V155.6M29 151.2V154.6M29.7 151.2V154M31.1 147.5V153.3M35.3 135.7V139.8M37.4 136V141M38.1 136V137.5M38.8 135.2V137.5M39.5 135.2V137.6M40.9 135.5V140M43 142.4V144.8M44.4 140V142.3M47.9 144.5V147.6M48.6 143.4V144.6M50 145V146.2M54.9 145V150.1M57.7 152V153.3M61.2 152.6V154.8M63.3 151.6V154.2M66.1 153.3V154.9M66.8 152.7V153.9M70.3 152.7V154.7M71.7 153.4V155.5M73.1 155.3V156.5M73.8 155.2V156.4M24.1 155.4V156.6M25.5 154.3V155.5M26.2 154.6V156M27.6 155.2V156.4M30.4 154.5V156M31.1 154.1V155.3M36 133.3V142.4M36.7 133V142.4M37.4 133V137.3M39.5 135.6V137M40.2 133.8V137M42.3 132.5V136.5M43.7 138.8V142.5M46.5 134.9V143.4M47.9 140.4V141.6M50.7 140.1V143M52.8 145.9V147.1M55.6 144.9V146.1M57 147.7V148.9M58.4 148.7V153.6M61.2 151.9V153.1M63.3 150.2V152.2M64 152.2V153.6M68.2 152.9V154.8M69.6 155.4V156.6" stroke="#000" stroke-opacity="0.4" stroke-width="1.4" fill="none"/>
<path d="M0.3 118.5V119.7M1.7 113.2V120.7M8 72.2V87.7M8.7 78.8V87.7M9.4 78.3V79.5M12.2 63.1V68.6M12.9 53.5V63.1M13.6 52.6V53.8M14.3 52.9V62.7M17.8 46.4V65.8M18.5 57.7V65.8M19.9 37.5V55.3M20.6 55.3V57.1M24.1 51V65.3M24.8 51V78.5M29.7 108.3V111.8M31.8 118.6V120.6M33.9 127.1V145M34.6 135.5V145M35.3 135.5V137.5M39.5 149.6V152.8M42.3 153.9V156M46.5 153.4V154.7M49.3 155.4V156.6M53.5 155V156.2M54.2 154.3V155.5M1 155.2V156.4M2.4 131.4V141.9M3.1 127.7V131.4M5.9 101.4V110.2M8 98.9V116.4M10.8 80.8V82.9M13.6 53.4V84.5M16.4 44.2V51.5M25.5 58.3V61.7M26.2 61.7V70.6M39.5 139.3V149.5M46.5 151.1V156M52.8 153.4V156M56.3 154.6V156M17.1 152.2V153.4M19.9 150.9V154.6M26.9 121.4V128.3M31.1 112.2V121.6M33.2 91.1V102.2M34.6 91.2V102M38.1 67.7V71.6M39.5 60V76.1M40.2 67.1V76.1M42.3 61.4V70.8M47.2 41.6V68.8M47.9 39.2V41.6M52.1 51.6V55.8M53.5 54.2V61.8M59.1 45V59.4M64.7 65.8V73.8M66.1 74.9V83.8M67.5 78.4V86.4M74.5 85.9V113.6M75.9 104.2V108.8M78 120V121.2M82.2 108.9V118.2M82.9 118.2V121.9M85 113.9V119M87.8 124.9V142.6M90.6 132.4V146.1M94.1 136V144.4M94.8 136V142.6M96.9 142.4V152.3M97.6 142.4V149.5M98.3 145.6V149.5M104.6 150.2V151.6M105.3 146.6V151.6M106.7 149.8V153.9M110.2 149.2V156M112.3 155V156.2M113 155V156.2M114.4 150.4V154.3M116.5 154.9V156.1M17.1 155.4V156.6M18.5 152.5V155M23.4 141.8V154.5M31.1 118.5V120M31.8 118.2V119.4M32.5 111V119.2M36.7 84.9V99.9M40.9 70.8V77.3M43 61.6V84.3M50 49.8V68.3M50.7 31.8V68.3M59.8 64.3V65.7M61.2 62.9V76.2M65.4 56.4V63.2M72.4 76.9V86.8M76.6 84.5V104.2M88.5 120.9V122.9M90.6 129.6V135.2M92.7 128.4V138M94.1 143V147.5M94.8 143V144.9M97.6 144.3V145.7M103.2 149.1V155.8M104.6 147.7V150.6M107.4 151.1V154.8M108.8 148.9V154.3M111.6 152.9V154.1M113.7 155.4V156.6M114.4 154.7V156M115.1 154.2V155.4M22.5 150.6V151.8M26.7 141V149.3M27.4 141V148.6M28.8 145.1V148.4M36.5 100.1V114.5M38.6 93.8V95.8M40.7 64.4V78.7M41.4 64.4V80M42.1 78.9V80.1M42.8 61.5V78.9M44.2 64.1V79.3M47.7 60.4V64.3M48.4 47.1V60.4M52.6 56.4V61.4M54 50V71.3M56.8 37.5V61M57.5 53.7V61M58.9 57.7V71.4M59.6 57.3V58.5M61 55.6V69.5M61.7 46.4V69.5M65.2 59.9V62.8M67.3 77.3V92.9M68.7 73V88.5M76.4 91.3V93.6M77.8 105.5V110.6M78.5 110.6V117.2M79.2 115.2V117.2M85.5 124.2V133.7M89 129.3V140M89.7 129.3V133M92.5 146.6V147.8M94.6 138.9V141.5M95.3 141.4V142.6M96 142.6V151.1M96.7 142.4V151.1M98.8 150.1V155.2M103 146.4V151.3M104.4 147V151.1M106.5 149.2V155.2M108.6 154.8V156M109.3 152.8V156M110 151.4V152.8M23.9 154.2V155.4M24.6 154.5V156M28.1 146.6V149.1M37.2 104.9V127.1M40.7 93.3V111.2M45.6 76.5V85.8M53.3 50.8V70.3M61.7 53.8V76.5M62.4 63.7V76.5M63.8 46.4V56.2M67.3 69V73.7M70.1 79.1V85M78.5 97V105.9M84.8 113.8V119.9M89 124.6V132.6M94.6 139.6V144.7M96 133.8V140M98.1 139V146.6M98.8 142.8V146.6M113.5 154.7V155.9M27.6 155.1V156.3M32.5 141.6V145.1M33.9 138.1V139.3M34.6 138.8V140M36 132.5V135.7M43.7 142.3V144.8M49.3 143.4V146M51.4 147.8V149M53.5 147.6V151.3M55.6 149.7V150.9M58.4 152V154.1M60.5 153.1V154.8M64.7 153.9V156M65.4 154.8V156M72.4 153.4V155.7M29 154.6V156M33.9 146.9V148.1M38.8 134.1V135.6M40.9 133.8V136.6M45.8 141V143.4M47.2 134.9V140.8M48.6 141.2V146.4M49.3 140.5V146.4M51.4 138.9V140.1M52.1 139V146.2M56.3 145.2V148.5M67.5 154V155.2M71.7 152V155M73.8 153.1V154.3" stroke="#000" stroke-opacity="0.6" stroke-width="1.4" fill="none"/>
<path d="M4.5 104.7V121.8M10.1 73.9V79.1M10.8 68.1V73.9M21.3 56.4V57.6M22 53.9V56.9M22.7 52.4V53.9M26.9 86.6V88.8M38.8 145.5V152.8M40.9 154.2V155.8M43.7 155.4V156.6M44.4 153.7V156M47.9 155.4V156.6M50.7 155.4V156.6M51.4 153.4V156M0.3 155.4V156.6M3.8 116.2V127.7M11.5 80.4V81.6M43 147.9V154.1M44.4 153.4V155.6M22.7 139.1V150.6M26.2 121.4V139.7M31.8 118.9V121.6M35.3 91.2V102M36 98.2V102M36.7 82V98.2M38.8 60V67.7M41.6 55.1V70.8M43.7 54.7V56.3M45.1 44V47.5M46.5 55.6V68.8M48.6 39.2V44.3M50 45V46.2M52.8 51.6V61.8M54.9 60.8V62M56.3 55.8V72.2M60.5 58.5V67.1M61.9 64.5V65.7M68.2 70.9V86.4M71 76.1V80.6M85.7 119V124.3M86.4 124.3V127.7M88.5 129.4V142.6M89.2 129.4V138.7M92.7 138.3V145.1M93.4 144.2V145.4M96.2 143.1V152.3M99 145.6V152.1M108.1 150.3V152.4M109.5 149.6V156M110.9 149.2V155.5M111.6 154.7V155.9M113.7 150.4V155.3M115.1 154.3V156M26.2 137.5V147M45.1 40.2V44.9M46.5 63.4V69.4M52.8 44.3V46.8M58.4 44V45.9M59.1 45.9V64.3M62.6 62.8V72.7M63.3 62.8V68.7M69.6 74V94.2M73.8 85.6V98.1M86.4 124.2V130.1M89.9 134.8V136M99 144.5V147.1M100.4 140.1V145M101.1 140.1V150.4M116.5 150.5V151.7M117.2 151V154.5M21.1 148.6V149.8M21.8 149.2V150.9M23.9 151.7V154.5M25.3 150.8V153.6M26 149.3V150.8M29.5 136.7V148.4M30.2 134.6V136.7M30.9 125.5V134.6M31.6 117.8V125.5M33 121.8V127M35.1 110.7V112.1M37.2 100.1V108.3M37.9 95.8V108.3M43.5 61.5V79.3M46.3 58.2V64.7M49.1 47.1V61.8M53.3 50V61.4M55.4 52V71.8M58.2 53.7V71.4M60.3 55.6V58.1M63.1 52.2V74.1M65.9 57.8V59.9M70.8 91.4V96.1M71.5 84.3V96.1M72.9 89.2V91.1M73.6 88.9V90.1M75.7 93.6V95.4M79.9 114.1V115.3M80.6 113.7V114.9M84.1 126.7V128.4M86.9 126.9V137.2M90.4 131.5V133M91.8 143.4V146.7M99.5 152.1V155.2M100.9 144.8V150.2M101.6 144.8V150M102.3 150V151.3M103.7 146.1V147.3M107.2 152.3V155.2M112.1 151.7V152.9M113.5 155V156.2M114.9 155.1V156.3M32.3 145.1V146.3M48.4 66.4V69.1M51.2 43.1V45M58.9 37.1V44.2M79.2 105.9V109M84.1 113.8V117.4M105.8 148.4V152.7M107.9 150.1V154.2M114.2 150.2V155.1M24.8 153.2V154.4M26.2 154.9V156.1M26.9 155.2V156.4M31.8 141.6V147.5M36.7 132.5V141M40.2 137.6V140M45.1 138.7V140M52.1 145.8V148.5M52.8 145.8V151.3M56.3 150.4V151.7M61.9 150.8V152.6M62.6 150.6V151.8M64 153.5V154.7M67.5 152.3V153.5M69.6 152.4V154.7M74.5 155.2V156.4M29.7 154.6V156M34.6 136.7V148.1M35.3 133.3V136.7M38.1 134.1V137.3M50 140.5V143M53.5 142.3V146.9M57.7 147.8V149M60.5 148.2V152.8M64.7 152V153.6M73.1 153.4V155.5" stroke="#000" stroke-opacity="0.85" stroke-width="1.4" fill="none"/>
<path d="M0 0H155.0V156.0H0Z" stroke="#333" stroke-width="1.05" fill="none"/>
<text x="0.6" y="-1.2" font-family="Liberation Mono, monospace" font-weight="bold" font-size="4.6" fill="#222" textLength="42.3" lengthAdjust="spacingAndGlyphs">SINGLE PARAMETER</text>
<text x="2.3" y="162.2" font-family="Liberation Mono, monospace" font-weight="bold" font-size="5" fill="#222" text-anchor="middle">1</text>
<text x="37.0" y="162.2" font-family="Liberation Mono, monospace" font-weight="bold" font-size="5" fill="#222" text-anchor="middle">1</text>
<text x="76.0" y="162.2" font-family="Liberation Mono, monospace" font-weight="bold" font-size="5" fill="#222" text-anchor="middle">10</text>
<text x="115.0" y="162.2" font-family="Liberation Mono, monospace" font-weight="bold" font-size="5" fill="#222" text-anchor="middle">100</text>
<text x="148.6" y="162.2" font-family="Liberation Mono, monospace" font-weight="bold" font-size="5" fill="#222" text-anchor="middle">1000</text>
<text transform="translate(-2.2 2.3) rotate(-90)" font-family="Liberation Mono, monospace" font-weight="bold" font-size="4.6" fill="#444" text-anchor="middle">20</text>
<text transform="translate(-2.2 39.0) rotate(-90)" font-family="Liberation Mono, monospace" font-weight="bold" font-size="4.6" fill="#444" text-anchor="middle">15</text>
<text transform="translate(-2.2 77.0) rotate(-90)" font-family="Liberation Mono, monospace" font-weight="bold" font-size="4.6" fill="#444" text-anchor="middle">10</text>
<text transform="translate(-2.2 115.5) rotate(-90)" font-family="Liberation Mono, monospace" font-weight="bold" font-size="4.6" fill="#444" text-anchor="middle">5</text>
<rect x="-5.2" y="153.4" width="2.2" height="1.4" fill="#111"/>
</g>
<g transform="matrix(0.9929 0.0055 -0.0032 1.0067 358.85 610.42)">
<path d="M3.8 107.7V122.8M4.5 94.7V97.6M5.2 95.6V99.5M9.4 62.7V85.7M10.1 69.8V72.5M10.8 65V82.2M12.9 63.8V65.4M14.3 61V70.8M17.1 61.9V70.9M17.8 42.3V45.3M24.8 74.4V77M26.2 94.1V102.9M27.6 82.6V86.4M29.7 121.4V123M30.4 115.6V138.1M31.8 119.5V121.2M33.9 134.9V143.4M35.3 149.9V155.2M42.3 156V156M43 156V156M45.8 156V156M47.2 151.7V154.7M48.6 153.5V155M49.3 154V154.1M55.6 154.9V156M57 156V156M57.7 155.7V156M28.9 154.9V155.4M31 155.4V156M31.7 154.5V155.5M32.4 155.4V155.7M35.9 143.3V145M37.3 132.3V133.7M38 129.2V130M39.4 132.4V138.4M42.2 136.4V136.7M43.6 136.4V141.2M44.3 132.8V137.3M45 137.9V144.6M46.4 133.3V137.1M49.2 139.8V147.7M50.6 141.1V141.1M53.4 139.6V145.2M56.9 150.4V151.5M59 147.6V147.9M60.4 151.5V154.3M61.1 152.3V153.9M61.8 150.6V151.5M63.2 153.8V155.5M64.6 154.9V156M68.1 154.2V155.8M70.2 156V156M72.3 154.4V155M73 156V156M9.8 152.1V155.1M16.1 156V156M18.2 151.4V152M22.4 143.2V146.4M24.5 147.9V149.1M27.3 143.1V143.8M28 141.8V142.9M31.5 132.4V133.9M35 136.1V148M36.4 123.8V126.8M38.5 109V110.4M39.2 115.4V119M40.6 102.7V104.8M42.7 105.6V106.1M43.4 103V111.3M45.5 97.7V98.7M49 87.2V87.6M50.4 82.3V83.3M51.1 75.3V89.3M51.8 56.7V62.1M52.5 58.5V84.3M53.2 73.2V110.3M55.3 67.1V70.7M56.7 49.1V69.3M57.4 56.9V64M58.8 64.8V74.6M60.9 54.1V71.9M61.6 53.9V62.3M65.8 53.9V67.8M67.2 36.6V58.1M70.7 54V91.9M71.4 49.4V73.8M72.8 53.7V61.3M76.3 45.9V74M77 71.1V81.8M78.4 59.1V79.4M81.9 83.8V125.1M84 86.6V104.4M86.1 81.8V82.5M86.8 81.8V83.8M87.5 92.6V100.3M88.9 84.5V86.2M90.3 95.2V100.6M93.1 118.3V125.8M94.5 112.4V117.4M98 116.1V117M100.1 135.9V142.5M103.6 137.4V138.2M110.6 145.7V146.5M111.3 149.9V156M112 143.4V144.4M113.4 147.5V148.4M114.1 145.6V148.1M117.6 147.1V147.6M119 153.8V155.7M121.1 153.7V156M121.8 149.1V149.9M123.2 155.9V156M123.9 154.3V154.3M124.6 154.8V156M126.7 156V156M128.8 152.8V153.1M129.5 153.8V154M130.9 156V156M131.6 156V156M133.7 155.4V155.7M135.8 156V156M14.5 152.5V153.3M15.2 155.4V155.6M17.3 154.6V156M18 156V156M20.8 146.3V147.3M23.6 144.9V147.1M24.3 154.4V156M26.4 146.8V147.5M38.3 122.3V125.9M41.1 114.1V122.4M43.9 102.5V103.9M44.6 112.4V115.8M46 107.1V113.8M50.2 76.1V76.5M51.6 83.6V93.7M55.1 63.1V90.3M57.2 54.3V82.6M63.5 49.4V80.7M64.2 31.3V61.1M64.9 32.7V36M67 56.9V82.2M68.4 36.7V44.3M71.2 30V39.1M72.6 57.5V77.6M74 57.6V63.2M76.8 49.7V64.8M78.9 48V69.7M80.3 75.1V77.2M81 79.1V81.5M84.5 90.6V121.7M88 100.6V103.4M89.4 102.4V122.4M91.5 100.7V122.8M92.2 107.9V118.3M92.9 97.7V102.7M95 118.1V131.3M98.5 121.2V124.2M99.2 122.6V122.8M102 128.8V132M104.1 141.3V143.3M106.2 149.9V156M106.9 141.7V147M107.6 150.4V153.2M109 144.9V148.1M111.1 154.5V154.7M113.2 148.5V151.9M113.9 151.5V153.2M115.3 148.1V149M120.2 155.1V156M120.9 150.5V150.5M124.4 152.6V153.6M125.1 155.6V156M129.3 153.9V156M130 155.6V156M131.4 156V156M132.1 152.2V152.4" stroke="#000" stroke-opacity="0.22" stroke-width="0.8" fill="none"/>
<path d="M2.1 152.1V156M3.3 154.2V156M3.9 155.4V156M4.5 155.2V156M7.5 142.8V156M9.9 149.3V156M11.7 131.8V156M14.1 153.6V156M15.3 147.6V156M18.9 145.8V156M19.5 126V156M22.5 155.6V156M23.1 141V156M25.5 126V156M26.1 126V156M28.5 153.5V156M34.5 128.2V156M35.7 127.2V156M36.9 149.2V156M41.1 129.2V156M42.3 126.5V156M45.3 126.6V156M50.1 138.2V156M51.9 153V156M56.1 149.5V156M57.3 146.8V156M57.9 153.7V156M59.7 126V156M64.5 147.7V156M65.7 144.1V156M66.9 155.5V156M69.9 126V156M71.1 126V156M72.3 147.9V156M72.9 136.2V156M77.1 126V156M78.3 155.4V156M80.7 149.2V156M81.3 126V156M83.1 128.1V156M90.9 126V156M93.3 143.1V156M94.5 126V156M101.1 150.3V156M101.7 154V156M102.3 153.6V156M106.5 152.4V156M107.1 151.8V156M107.7 152.6V156M108.3 141.1V156M108.9 148.7V156M109.5 126V156M111.3 153.9V156M111.9 153.9V156M112.5 155.9V156M114.3 146.9V156M115.5 153.6V156M116.1 150.2V156M116.7 153.9V156M117.9 148.7V156M118.5 153.2V156" stroke="#000" stroke-opacity="0.22" stroke-width="0.8" fill="none"/>
<path d="M0.3 150.3V156M0.9 151.4V156M1.5 149.4V156M2.1 150.7V156M2.7 153.6V156M3.3 151.6V156M3.9 154.6V156M5.1 152V156M6.3 155.2V156M7.5 153.6V156M8.1 152.5V156M8.7 155.3V156M9.3 155.2V156M9.9 152.5V156M10.5 155.4V156M11.1 151.6V156M11.7 154.9V156M12.3 151.6V156M12.9 147.9V156M13.5 155.2V156M14.7 153.9V156M15.3 154.3V156M16.5 155.2V156M17.1 151.3V156M18.3 150.4V156M18.9 154.9V156M19.5 150.2V156M20.1 154.9V156M20.7 148.4V156M21.3 154.4V156M22.5 153.7V156M23.7 154.4V156M24.3 154.4V156M26.1 155.2V156M26.7 153.5V156M27.3 147V156M27.9 152.8V156M29.1 153.5V156M29.7 154.2V156M30.3 151.1V156M30.9 154.2V156M31.5 152.1V156M32.1 146.4V156M33.9 150.6V156M35.1 155V156M35.7 149V156M36.9 153.4V156M37.5 153.7V156M38.1 154.1V156M39.9 153.2V156M40.5 152V156M41.1 154.7V156M41.7 153.4V156M42.3 146.4V156M42.9 146.4V156M43.5 152.6V156M44.1 151.6V156M45.3 155.1V156M45.9 155.3V156M46.5 151.6V156M47.7 146.6V156M48.3 153.3V156M48.9 155.2V156M49.5 152.2V156M50.1 153V156M50.7 152.8V156M51.3 151.7V156M51.9 154.7V156M52.5 154.9V156M53.7 152.4V156M54.3 150.5V156M54.9 152.7V156M55.5 152.9V156M56.1 154.6V156M56.7 154.5V156M57.3 155.1V156M57.9 153.8V156M58.5 155.1V156M59.7 151.7V156M60.3 155V156M60.9 154.2V156M61.5 151.8V156M62.1 155V156M63.3 151.4V156M63.9 148.7V156M64.5 152.4V156M65.1 154.8V156M65.7 154.2V156M66.3 154.3V156M66.9 155.1V156M67.5 152.5V156M68.1 152.1V156M68.7 153.1V156M69.3 147.1V156M69.9 150.8V156M70.5 146.4V156M71.1 154.6V156M71.7 154.8V156M72.3 149.3V156M72.9 154.9V156M73.5 155.3V156M74.1 154.3V156M75.3 153.5V156M75.9 148.4V156M77.7 153.9V156M78.3 151.2V156M78.9 154.1V156M79.5 155V156M80.7 154.9V156M81.3 149.7V156M82.5 154.7V156M83.1 155V156M83.7 151.8V156M84.9 148.9V156M85.5 151.4V156M86.1 155.1V156M86.7 150.4V156M87.3 154.7V156M88.5 154.8V156M89.1 148.6V156M89.7 154.4V156M90.3 155.4V156M91.5 152.7V156M92.1 150.9V156M92.7 154.3V156M93.3 152.6V156M93.9 154.1V156M94.5 148V156M95.1 151.5V156M95.7 150.6V156M96.3 154.6V156M96.9 154.6V156M97.5 154.5V156M98.1 146.4V156M98.7 146.6V156M99.3 151.4V156M99.9 153.9V156M100.5 149.1V156M101.1 149.1V156M101.7 147.7V156M102.3 155.1V156M102.9 153.9V156M103.5 154.6V156M104.7 149.3V156M105.3 149.6V156M106.5 150.1V156M107.1 146.4V156M107.7 153.8V156M108.3 152.4V156M108.9 153.8V156M109.5 152.5V156M110.1 153.5V156M110.7 154.8V156M111.3 149.8V156M111.9 146.4V156M112.5 155.1V156M113.1 146.4V156M113.7 148.6V156M114.3 152.6V156M114.9 153.4V156M115.5 153.1V156M116.1 146.4V156M116.7 152V156M117.9 154.7V156M118.5 154.7V156M119.1 150.4V156M119.7 154.3V156M120.3 155.1V156M120.9 154.1V156M121.5 155.1V156M122.1 155.4V156M122.7 152.3V156M123.9 150.3V156M124.5 151.8V156M125.1 150.5V156M125.7 154.4V156M126.3 146.9V156M126.9 146.4V156M127.5 153.7V156M128.1 151.2V156M128.7 149.9V156M129.3 154.1V156M129.9 150V156M130.5 154.8V156M131.1 149.7V156M131.7 151.6V156M132.3 153V156" stroke="#000" stroke-opacity="0.6" stroke-width="0.9" fill="none"/>
<path d="M0.3 119.6V120.2M1 114.6V117.3M1.7 108.8V115.1M2.4 111.8V115.1M3.1 103.8V106.5M3.8 104.3V106.5M4.5 92.4V94.7M5.2 91V94.6M5.9 85.7V86.5M6.6 83.1V85.6M7.3 83.2V85.9M9.4 58.1V62.7M10.1 52.3V62.7M10.8 63.7V65M11.5 52.1V54.8M12.2 54.4V54.8M12.9 59.1V60.8M13.6 54.5V60.6M14.3 53.8V60.2M15 34.9V46.3M15.7 37.4V41.8M16.4 35.8V41.8M17.1 44.6V45.5M17.8 41.4V42.3M18.5 21.7V33.3M19.2 32.7V33.3M19.9 55V57M20.6 35.4V38.4M21.3 36.2V38.4M22 33.3V42.3M22.7 37.5V42.3M23.4 61.3V61.7M24.1 67.6V68.1M24.8 61.8V68.1M25.5 66.1V74.4M26.9 84V94.1M27.6 73.3V82.6M28.3 79.2V82.6M29.7 89.7V95M30.4 115.2V115.6M31.1 107.5V115.6M32.5 116.4V119.5M33.2 128.4V128.9M33.9 129.6V134.9M34.6 134.7V134.9M36 145.8V149.9M36.7 133.5V138.6M37.4 136.8V138.6M38.1 141.1V141.8M38.8 139.3V141.8M39.5 146V147.9M40.9 151.3V151.3M41.6 150.9V151.3M42.3 153.2V155.2M43 150.8V155.4M43.7 152.1V155.4M45.1 153.8V153.8M45.8 151V153.8M46.5 152.1V152.4M47.2 151.3V151.4M47.9 151V151.7M49.3 152.5V153.1M50 150.3V154M50.7 154.2V155.2M51.4 150.8V154M52.1 151.8V153.9M53.5 153.8V155.4M54.2 152.9V155.4M55.6 153.3V154.2M56.3 154.1V154.9M57 152.5V155.4M57.7 154.4V155.3M29.6 153.3V154.9M30.3 155.1V155.1M31 154.5V154.8M31.7 153.3V154.3M32.4 152.6V154.3M33.1 149.5V151.3M33.8 148.3V149.5M35.2 138.2V139.9M35.9 137V139.9M38 127.2V129.2M38.7 125.1V129.2M39.4 127.4V132.4M40.1 131.2V131.3M40.8 127.8V131.4M42.9 126.7V131.6M43.6 130.8V131.6M44.3 129.8V132.8M45 132.4V132.8M45.7 135.5V136.5M46.4 133.2V133.3M47.1 129.7V133.3M47.8 133.2V137.6M48.5 135.5V136.5M49.2 134.4V136.6M49.9 135.7V139.8M50.6 140.4V140.5M51.3 140.9V141.1M52.7 137.5V140.4M53.4 135.1V139.6M54.1 138.3V139.6M54.8 142.5V142.9M55.5 138.5V142.9M56.2 141.7V146.1M56.9 145V146.1M57.6 147.7V148.1M58.3 143.8V148.1M59 146V147.6M59.7 147.1V147.6M60.4 149V151.5M61.1 151V151.3M61.8 150.3V150.6M63.2 153.2V153.3M63.9 147.9V150.6M65.3 152.4V154.1M66 149.1V151.9M66.7 148.1V151.9M67.4 153.4V153.9M68.1 153.2V153.5M69.5 152.3V154.6M70.2 155.4V155.4M70.9 154.3V155.4M71.6 154.4V155.4M72.3 152.3V154.4M73 153.2V154.4M73.7 153.5V153.8M75.1 154.7V154.9M75.8 154.6V154.9M7.7 154.9V154.9M8.4 148.2V152.1M9.1 151.5V152.1M9.8 149.9V152.1M10.5 151.8V152.1M11.9 152.3V153M12.6 152.1V152.5M13.3 151.1V151.6M14 151.6V151.6M14.7 151.1V153M15.4 153.1V153.4M16.1 153.8V154.5M16.8 152V153.5M17.5 146.7V148.1M18.2 143.2V148.1M19.6 144.6V145.5M20.3 142.2V145.5M21 145.2V147.7M21.7 147V147.7M22.4 142.3V143.2M23.1 142.9V143.2M23.8 142.4V147.9M24.5 146.2V147.3M25.9 144.5V145.9M26.6 133.2V134.7M27.3 129.9V134.7M28 139.2V141.8M28.7 141.4V141.8M29.4 144.5V145.8M30.1 139.4V141.8M30.8 140V141.8M32.2 128.3V132.4M32.9 132.3V135.3M33.6 128.5V132M34.3 124.9V132M35 134.5V135.1M36.4 116.3V123.8M37.1 117.6V123.3M38.5 106.9V109M39.2 105.8V109M39.9 103.8V111.2M40.6 97.2V102.7M41.3 101.1V102.7M42 98.4V102.4M42.7 100V102.4M44.8 103.6V107M46.9 76.8V79.1M47.6 77.2V79.1M48.3 81V84.8M49 75.1V84.8M49.7 81.6V87.2M50.4 72.4V82.3M51.1 65.5V75.3M51.8 55.3V56.7M52.5 56.2V56.7M53.2 52.8V58.5M53.9 67.8V73.2M54.6 62.9V63.7M55.3 61.6V63.7M56 34.8V41.2M56.7 35.3V41.2M58.1 55.3V56.9M58.8 49.3V60.5M59.5 53.2V53.2M60.9 42.8V54.1M61.6 47V53.4M62.3 31.4V31.8M63 31.6V31.8M63.7 31.1V37.2M64.4 32.3V37.2M65.1 32V37.7M65.8 31.4V37.7M66.5 35.6V41.3M67.2 26.1V36.6M67.9 20.9V26.6M68.6 15.1V26.6M69.3 47.3V48M70 45.2V47.5M70.7 42.1V48.2M71.4 44.6V49.4M72.1 44.1V48.5M72.8 43.6V48.9M73.5 46.8V53.7M74.2 40.8V49.5M74.9 38.1V49.5M75.6 50.4V55.8M77 34.7V45.9M78.4 56.6V59.1M79.1 48.1V59.1M79.8 54.7V64.3M80.5 58.5V69.3M81.2 65.2V65.3M81.9 63V65.3M82.6 67.6V78.1M84 71.5V72.2M84.7 76.5V86.6M86.1 72.1V78.8M86.8 76.7V81.2M87.5 79.4V81.8M88.9 80.9V84.5M89.6 83.9V84.5M90.3 89V89.2M91 93.2V95.2M91.7 104.4V105.2M92.4 96.3V105.2M93.1 106.2V115M93.8 111.9V111.9M94.5 107.9V111.5M95.2 110.8V112M96.6 106.9V108.8M97.3 102.2V108.8M98 115.8V116.1M98.7 109.5V116.1M99.4 115.3V122.8M100.1 121.1V122.8M101.5 119.5V121.9M102.2 121V125.6M102.9 128.7V130M103.6 127.6V130M105 132.3V135M105.7 139.4V140.7M106.4 138.5V142.4M107.1 143.5V145.9M108.5 142V144.7M109.2 149V150.3M109.9 145.1V146.8M110.6 143.5V145.7M111.3 145.3V145.7M112 138V143.4M112.7 143.1V143.4M113.4 147.1V147.5M114.1 140.3V145.6M114.8 142.8V145.6M115.5 145V147.2M116.9 150.2V152M117.6 142.2V147.1M119 146.7V147.5M119.7 147.2V150M120.4 146.1V149.7M121.1 148V150.6M121.8 145.7V149.1M122.5 145.1V149.1M124.6 151.1V153.9M125.3 153.2V154.6M126 150.8V155M126.7 154.9V155.1M127.4 150.5V153.6M128.8 152.5V152.8M129.5 151.3V152.7M130.2 153.6V153.8M130.9 152V155.4M131.6 152V155.4M132.3 153.2V155.3M133 153.3V153.4M134.4 155V155.1M135.1 150.2V153.4M135.8 152.3V153.4M136.5 154.6V155.4M137.9 152.8V153.4M13.8 148.8V149.9M14.5 149.9V150.5M15.2 152.2V152.5M15.9 151.5V154.4M16.6 153.3V153.3M17.3 152.3V153.3M18 154.3V154.6M18.7 154.9V155.4M19.4 154.3V154.6M20.1 151.6V154.6M20.8 144.6V146.3M21.5 146V146.3M22.2 147.2V148.4M22.9 150.6V152.3M23.6 144.7V144.9M24.3 139.8V144.9M25 151.8V152.3M26.4 142.2V142.9M27.1 138.4V142.1M27.8 136.9V142.1M28.5 140.8V143.3M29.2 139.1V143.6M29.9 136V139.1M30.6 138.1V138.6M31.3 135.3V138M32 136.8V138.1M32.7 123.7V130.2M34.1 130.4V130.7M34.8 127.5V130.7M35.5 135.8V139.7M36.2 118.1V125.2M36.9 118V125.2M38.3 117.7V122.3M39.7 109.8V113.9M40.4 116.1V121.4M41.1 106.2V114.1M41.8 109.5V111.2M43.2 108.3V112.5M43.9 101.5V102.5M44.6 101.6V102.5M45.3 89.9V90.3M46.7 94.7V96.9M47.4 87.1V96.1M48.1 90.7V91.7M49.5 75.3V76M50.2 75.5V76.1M50.9 72.4V76.1M51.6 78V82.6M52.3 70V70.3M53 66.5V70.3M53.7 67V71.6M54.4 65V74.1M55.1 62.2V63.1M55.8 37.6V48.1M56.5 45.9V48.1M57.2 54.1V54.3M57.9 54.1V54.3M58.6 29.1V40M59.3 38V40M60 50V61M60.7 60.7V61M62.1 41.9V44.7M62.8 45V45.4M63.5 40.1V45.4M64.2 26.8V31.3M64.9 29.1V31.3M65.6 21.3V32.7M66.3 32.8V34.4M67 54.8V56.9M67.7 45.2V45.4M68.4 34V36.7M69.8 25.8V29.2M71.2 30V30M71.9 23.1V30M72.6 51.3V57.5M73.3 49.9V57.5M74 55.9V57.6M74.7 55.5V57.6M75.4 52.1V60.2M76.1 36.5V40.1M76.8 30.9V40.1M77.5 48.4V49.7M78.2 59.7V65.8M78.9 47.2V48M80.3 68.3V75.1M81 64.3V75.1M82.4 67.4V67.5M84.5 63.7V73.9M85.2 68.1V69.6M86.6 68.1V73.1M88 68.6V73.6M89.4 92.8V100.1M90.1 93.8V102.2M91.5 94.2V94.7M92.2 99.7V100.7M92.9 88.7V97.7M94.3 106.6V109.7M96.4 110.9V119.3M97.1 113.4V119.3M97.8 121.4V122.5M99.9 122.1V122.6M100.6 117.9V118.9M101.3 111.5V118.9M102 127.3V128.8M103.4 133.3V133.9M104.1 127.7V134.6M104.8 140V141.3M105.5 134.5V137M106.2 131.5V137M107.6 141V141.7M108.3 148.5V150.4M109 142.8V144.9M109.7 140.2V144.9M110.4 137V139.4M111.1 138.2V139.4M111.8 145.2V147.4M112.5 144.1V147.2M113.2 147.4V147.8M113.9 145.8V148.5M114.6 148.3V151.5M115.3 142.9V148.1M116 147.3V147.7M116.7 146.9V148.5M117.4 145.1V150M119.5 149.3V149.5M120.2 150.3V150.8M120.9 148.5V150.5M121.6 147.3V150.5M122.3 152.7V152.9M123 152.5V152.9M123.7 154.3V154.8M124.4 152.3V152.6M127.2 148.2V151.4M128.6 149.2V151.6M129.3 150.5V151.6M130 153.8V153.9M130.7 153V155.2M131.4 151.6V155.4M132.8 148.5V152.2M133.5 152.5V155.4" stroke="#000" stroke-opacity="0.3" stroke-width="0.8" fill="none"/>
<path d="M3.1 106.5V119.8M4.5 94.7V107.7M6.6 85.6V86.8M8.7 68V85.1M9.4 62.7V85.1M10.1 62.7V69.8M17.8 42.3V61.9M25.5 74.4V77.4M34.6 134.9V146.6M36.7 138.6V151.2M45.1 153.8V156M45.8 153.8V156M47.9 151.7V155.7M49.3 153.1V154.3M52.1 153.9V155.1M3.8 124V126.8M5.2 116.9V125.7M5.9 116.4V125.7M7.3 105.1V106.3M8.7 93V104M10.1 91.4V92.6M10.8 80.2V91.4M11.5 72.6V80.2M12.9 64.7V81.1M15 44.3V70M16.4 50.4V55.1M21.3 50.4V54.6M22.7 30.7V45.8M23.4 30.3V31.5M25.5 54.8V61.6M26.2 61.1V62.3M26.9 61.8V72.6M28.3 60.1V90.3M29 87.7V90.3M29.7 87.7V99.7M33.2 113.5V119M33.9 118.7V119.9M35.3 120.3V130.1M36 120.3V123.8M37.4 131.4V135.6M38.8 136.9V144.4M39.5 136.9V152.5M40.2 150.9V152.5M41.6 142.5V151.9M44.4 148.9V150.1M49.3 151.8V154.3M50.7 152.4V154.5M52.8 155V156.2M53.5 155V156.2M55.6 154.3V156M57 154.1V156M30.3 155.1V156.3M33.8 149.5V151.3M34.5 143.4V149.5M41.5 129.4V133M45.7 136.5V137.9M47.8 137.6V140.1M49.9 139.8V141.1M52 140.5V144.6M53.4 139.6V141.4M54.1 139.6V144.3M55.5 142.9V148M57.6 148.1V150.4M59 147.6V150.1M59.7 147.6V154.9M61.1 151.3V152.5M68.1 153.5V154.7M75.1 154.9V156.1M75.8 154.9V156.1M29.6 155.4V156.6M31.7 155V156.2M33.1 154.2V156M34.5 154.6V156M35.9 153.7V155.3M38 141V142.2M38.7 135.7V142.1M40.8 133V135M42.2 127V128.2M42.9 126.9V128.1M43.6 126.8V128M45.7 134.2V136.2M46.4 129.8V136.2M50.6 137.5V141.3M52 137.4V140.2M54.1 138.7V143.9M54.8 142.3V143.9M56.9 141.2V150.5M64.6 148.1V154.8M66.7 151.3V153.1M70.2 154.5V156M70.9 154.5V156M71.6 155.4V156.6M72.3 155.4V156.6M73 155.4V156.6M73.7 155.4V156.6M74.4 155.4V156.6M8.4 152.1V155.5M9.1 152.1V155.6M9.8 152.1V155.6M20.3 145.5V153.1M21 147.7V153.1M28 141.8V143.1M32.9 135.3V137.3M35.7 131V136.1M43.4 103V105.6M44.8 107V115.2M46.9 79.1V95.5M49 84.8V87.2M51.8 56.7V75.3M53.9 73.2V74.6M55.3 63.7V67.1M68.6 26.6V54.9M70.7 48.2V54M72.1 48.5V49.7M76.3 45.9V55.8M79.8 64.3V71.5M84.7 86.6V94.3M86.8 81.2V82.4M87.5 81.8V92.6M93.8 111.9V118.3M96.6 108.8V118M98 116.1V129.1M99.4 122.8V129.1M103.6 130V137.4M106.4 142.4V149.3M107.1 145.9V149.3M107.8 144.7V145.9M110.6 145.7V146.9M111.3 145.7V149.9M112.7 143.4V151.2M115.5 147.2V153.4M122.5 149.1V154.3M128.1 153.6V156M130.2 153.8V156M134.4 155.1V156.3M135.1 153.4V156M7.7 155.4V156.6M9.1 154.4V155.9M13.3 154.1V155.5M14.7 154V155.2M16.8 152.7V156M18.9 149.3V153.6M22.4 150V155.5M23.8 146.6V154.3M27.3 143.5V149.2M28.7 139.4V146.5M30.8 145.5V146.7M32.2 142.7V143.9M34.3 127.4V133M36.4 129.5V134M37.1 122V134M39.2 124.6V128.2M39.9 122.1V124.6M41.3 126.8V128M42 118V127.1M43.4 113.1V121.6M44.8 104.4V110.3M47.6 87.1V105.2M49 102.9V104.1M50.4 89V90.2M58.1 45.4V80M60.2 57.9V64.9M60.9 57.9V61.7M63 41.4V46.6M65.8 38.6V66.7M67.2 44.3V45.5M68.6 33V38.8M70.7 42.9V47.7M74.2 41.4V46.2M74.9 41.4V45.2M77 44V53.1M78.4 45.4V62.4M79.8 41.1V57.3M80.5 41.1V48.9M81.9 57V73.4M87.5 81.3V96.3M88.2 81.3V98M88.9 98V100.2M91.7 86.3V107.3M93.8 95.9V104.1M94.5 102.1V104.1M95.2 102.1V107.6M97.3 109.7V119.8M98.7 114.8V121.9M100.8 127.4V128.9M102.2 122V129.6M103.6 126.5V134.6M104.3 134.2V135.4M105 135V138.7M109.2 148.6V149.8M110.6 140.8V152.8M112 138.2V142.1M113.4 140V148.2M114.1 148.2V153.8M115.5 152V153.2M116.2 146.9V152.8M119.7 154.1V155.8M121.1 147.1V148.3M126 155.2V156.4M133 154V156M134.4 155.3V156.5M135.8 155.4V156.6M137.2 155.4V156.6M14.5 150.5V152.5M15.9 154.4V155.6M18.7 155.4V156.6M19.4 154.6V156M25.7 142.9V152.3M27.8 142.1V144.1M30.6 138.6V139.8M43.2 112.5V124M46 90.3V107.1M48.1 91.7V96.6M61.4 44.7V72.2M62.1 44.7V49.4M68.4 36.7V45.4M70.5 29.2V43.5M76.8 40.1V49.7M78.2 65.8V76.8M79.6 48V79.9M83.1 66.1V67.5M90.8 94.7V103.2M92.9 97.7V107.9M104.1 134.6V141.3M105.5 137V143.2M106.2 137V149.9M112.5 147.2V148.4M115.3 148.1V156M120.2 150.8V155.1M121.6 150.5V156M122.3 152.9V156M126.5 152.6V156M127.2 151.4V156M127.9 151.4V155.7M129.3 151.6V153.9M131.4 155.4V156.6M13.8 155.4V156.6M18.7 152.4V153.6M20.8 152.2V156M21.5 149.8V152.2M22.2 149.8V152.6M22.9 152.6V156M24.3 145.3V154.2M26.4 149.1V156M32 133.9V145.3M33.4 135V142.1M34.1 129.9V135M37.6 130.1V132.6M38.3 129.9V131.1M43.2 115.8V129.8M46.7 103.8V116.4M47.4 103.8V115.2M51.6 80.1V98.9M52.3 80.1V90.3M53 90.2V91.4M53.7 88.4V91.3M55.1 75.3V93.2M56.5 63.6V68.7M57.9 60V78.9M60 56.8V74.8M61.4 42.5V69.5M62.1 69.5V70.7M62.8 54.8V70.6M63.5 51.8V54.8M66.3 32.6V59.1M68.4 32.8V52.2M69.1 32.8V39.2M69.8 39.2V47.1M74.7 53.2V65.6M76.8 32V54.4M78.9 58.7V73.3M79.6 44V73.3M81.7 65.4V77.5M82.4 68.9V77.5M85.2 55.9V85M85.9 78.6V85M86.6 72.8V78.6M87.3 72.8V84.4M93.6 94.4V110.9M97.8 113.8V118.7M99.9 115.3V127M102.7 131.1V133.7M103.4 133.2V134.4M104.1 132.7V133.9M104.8 129.7V132.7M105.5 128.8V130M109 135.6V145.5M109.7 145.5V148.5M111.8 136.9V146.9M116.7 146.1V151.1M117.4 151.1V152.8M118.1 152.8V156M122.3 147.8V149.1M123.7 151.9V156M124.4 151.2V152.4M126.5 151.2V155.1M128.6 152.6V156M131.4 153.7V155.6M132.8 151.8V156M133.5 153.4V156" stroke="#000" stroke-opacity="0.2" stroke-width="1.4" fill="none"/>
<path d="M2.4 115.1V119.8M5.2 94.6V95.8M5.9 86.5V95.6M11.5 54.8V65M12.2 54.8V60.8M12.9 60.8V63.8M14.3 60.2V61.4M15 46.3V61M18.5 33.3V42.3M21.3 38.4V53.2M22.7 42.3V61.7M26.2 77.4V94.1M27.6 82.6V95.8M28.3 82.6V107.2M31.1 115.6V118.9M33.2 128.9V136.3M35.3 146.6V149.9M38.8 141.8V147.9M39.5 147.9V156M43.7 155.4V156.6M46.5 152.4V156M50.7 155.2V156.4M57.7 155.3V156.5M0.3 154.6V155.8M1 154.9V156.1M3.1 124V136M6.6 105.7V116.4M9.4 92.2V93.4M12.2 64.7V72.6M14.3 44.3V64.2M17.8 32.7V35.7M19.9 50.4V62.3M20.6 50.4V62.3M24.8 49.5V54.8M30.4 91.8V99.7M34.6 119.5V130.1M40.9 142.5V150.9M43 154.1V156M45.8 153.1V156M47.2 154.6V156M47.9 152.8V156M48.6 151.7V152.9M50 153.8V155M54.2 155.4V156.6M54.9 154.3V156M57.7 154.1V155.3M32.4 154.3V155.5M35.9 139.9V143.3M37.3 132.3V137.8M38 129.2V132.3M39.4 132.4V134.8M47.1 133.3V140.1M50.6 140.5V141.7M54.8 142.9V144.3M58.3 148.1V150.1M60.4 151.5V154.9M63.9 150.6V153.8M64.6 150.6V154.9M73 154.4V156M74.4 153.8V155.9M28.9 155.4V156.6M32.4 154.2V156M36.6 152.7V153.9M39.4 135.7V137.8M40.1 135V137.8M41.5 127.1V133M44.3 127.4V128.6M48.5 133.7V138.2M49.9 137.5V140.3M56.2 141.2V147M57.6 145.7V150.5M59.7 152V153.2M61.1 150.1V153.1M61.8 150V151.2M63.2 150.2V151.8M63.9 148.1V150.2M68.8 155.4V156.6M69.5 155.4V156.6M75.8 154.3V156M30.8 141.8V143.2M31.5 132.4V143.2M34.3 132V135.3M38.5 109V127.5M41.3 102.7V118.7M42.7 102.4V105.6M46.2 95.5V97.7M54.6 63.7V74.6M56 41.2V67.1M57.4 49.1V56.9M58.1 56.9V60.5M60.9 54.1V69.6M61.6 53.4V54.6M62.3 31.8V53.9M65.1 37.7V50.2M65.8 37.7V53.9M70 47.5V48.7M72.8 48.9V53.7M73.5 53.7V69.4M77.7 60.8V71.1M81.9 65.3V83.8M82.6 78.1V83.8M90.3 89.2V95.2M95.2 112V113.2M95.9 112.8V118M108.5 144.7V152.7M109.2 150.3V152.7M114.1 145.6V147.5M120.4 149.7V150.9M121.1 150.6V153.7M128.8 152.8V156M132.3 155.3V156.5M133.7 153.4V155.4M136.5 155.4V156.6M137.2 153.4V156M8.4 154.4V156M10.5 153.6V154.8M11.9 151.3V153.5M12.6 153.5V155.5M15.4 153.8V155M18.2 149.3V156M19.6 153.6V155.8M20.3 149.1V155.8M25.2 141V146.4M26.6 143.5V145.5M37.8 121.6V122.8M38.5 122.5V128.2M40.6 122.1V127.8M44.1 104.4V113.1M45.5 101.8V110.3M46.2 90.2V101.8M46.9 90.2V105.2M48.3 87.1V103.4M49.7 89.5V103.6M51.1 89.8V99M52.5 71.1V72.3M53.2 72.3V86.9M56 63.3V81.5M61.6 34.2V61.7M64.4 29.6V39.7M66.5 38.6V44.6M67.9 33V45.3M71.4 33.9V47.7M73.5 40.2V46.2M75.6 45.2V69.1M77.7 53.1V62.4M84 70.7V74.2M85.4 65.2V85.1M100.1 122V127.4M105.7 130.7V138.7M106.4 129.9V131.1M107.1 130.3V140.5M109.9 140.8V149.3M112.7 140V142.1M117.6 153.4V154.6M119 145.9V155.8M121.8 147.4V156M123.2 155.2V156.4M123.9 153.2V155.6M128.1 155.4V156.6M130.2 151.5V154.7M131.6 151.3V156M136.5 155.4V156.6M137.9 155.4V156.6M13.8 149.9V151.1M23.6 144.9V153M26.4 142.9V146.8M31.3 138V139.2M32.7 130.2V140.4M33.4 130.2V135.1M34.1 130.7V135.1M34.8 130.7V139.7M35.5 139.7V141.3M39.7 113.9V123.1M41.1 114.1V121.4M42.5 111.2V112.5M43.9 102.5V124M45.3 90.3V112.4M46.7 96.9V107.1M47.4 96.1V97.3M49.5 76V90.5M50.2 76.1V90.5M55.8 48.1V63.1M60.7 61V72.2M67 56.9V66.2M74.7 57.6V60.2M84.5 73.9V90.6M85.2 69.6V90.6M88 73.6V100.6M97.1 119.3V125.8M97.8 122.5V125.8M98.5 121.2V122.5M99.2 121.2V122.6M99.9 122.6V130.5M101.3 118.9V138.3M102 128.8V138.3M102.7 128.8V134.5M103.4 133.9V135.1M104.8 141.3V143.2M111.8 147.4V154.5M119.5 149.5V150.8M123.7 154.8V156M125.8 152.6V155.6M132.1 152.2V156M14.5 154.5V156M15.2 154.4V155.6M18 150.2V153M20.1 154.2V156M25.7 149.1V152.5M27.1 150.7V156M27.8 150.3V151.5M29.2 142.6V143.8M34.8 129.9V140.2M36.2 134V135.5M36.9 132.6V135.5M40.4 122.7V134.2M41.1 128.7V134.2M44.6 119.4V120.6M45.3 120.4V122.2M46 116.4V122.2M49.5 94.2V95.4M50.2 94.9V109.4M54.4 75.3V88.4M58.6 60V82.1M59.3 74.8V82.1M60.7 42.5V56.8M65.6 32.6V59.3M67 59.1V66.1M67.7 52.2V66.1M71.9 28.3V47.6M73.3 35.9V40.3M75.4 53.2V55.6M77.5 53V54.4M80.3 44V76M81 65.4V76M83.1 68.6V69.8M84.5 55.9V72.6M89.4 69.7V80.3M94.3 94.4V100.2M95.7 102.8V107.8M96.4 107.4V108.6M97.1 108.2V118.7M99.2 112V115.3M100.6 118.6V127M102 131.1V132.5M106.9 134.2V142.1M107.6 135.6V142.1M108.3 135V136.2M111.1 136.9V144.5M113.2 143.9V147M116 146.1V149.3M118.8 145.8V156M120.9 147.7V154.7M121.6 149.1V154.7M125.8 150.6V155.1M127.9 154.4V156M129.3 151.8V153M130 152.2V155.3M132.1 151.8V153.7" stroke="#000" stroke-opacity="0.4" stroke-width="1.4" fill="none"/>
<path d="M0.3 120.2V121.4M1.7 115.1V117.3M3.8 106.5V107.7M8 68V88.8M10.8 65V69.8M13.6 60.6V63.8M16.4 41.8V45.5M19.2 33.3V58.3M22 42.3V53.2M24.1 68.1V77.7M24.8 68.1V74.4M26.9 94.1V95.8M29.7 95V121.4M30.4 115.6V121.4M33.9 134.9V136.3M40.9 151.3V155.1M41.6 151.3V155.6M43 155.4V156.6M44.4 155.4V156.6M47.2 151.4V152.6M48.6 153.5V155.7M50 154V155.7M51.4 154V156M52.8 154.9V156.1M54.9 154.6V156M57 155.4V156.6M1.7 118.3V155.8M4.5 116.9V126.8M8 104V105.7M13.6 64.2V81.1M15.7 50.4V70M18.5 32.7V42.4M22 45.8V54.6M24.1 31.1V49.5M27.6 60.1V72.6M31.1 90.8V92M36.7 123.8V131.4M38.1 135.6V144.4M42.3 151.9V154.1M43.7 149.4V156M45.1 149.6V153.1M52.1 152.4V156M56.3 155.4V156.6M28.9 154.3V155.5M31.7 154.3V155.5M35.2 139.9V143.4M36.6 137.8V143.3M40.1 131.3V132.5M42.2 129.4V136.4M42.9 131.6V136.4M43.6 131.6V136.4M44.3 132.8V136.4M45 132.8V137.9M48.5 136.5V137.7M49.2 136.6V139.8M52.7 140.4V141.6M62.5 150.6V154.1M63.2 153.3V154.5M66 151.9V154.6M66.7 151.9V156M68.8 153.8V155M30.3 155.4V156.6M31 155V156.2M33.8 155.4V156.6M35.2 154.3V155.5M45 128.2V134.2M47.1 129.8V137.2M52.7 137.4V141.5M53.4 138.7V141.5M55.5 142.3V147M59 145.7V152.4M60.4 152.3V153.5M62.5 150.9V152.1M65.3 152.1V154.8M67.4 151.3V156M75.1 155.4V156.6M7.7 154.9V156.1M11.9 153V155.7M13.3 151.6V153.3M14 151.6V153.7M14.7 153V154.2M16.1 154.5V156M17.5 148.1V153.5M18.9 149.9V151.4M19.6 145.5V149.9M23.8 147.9V153.2M24.5 147.3V148.5M25.9 145.9V147.1M26.6 134.7V146.6M28.7 141.8V147.3M29.4 145.8V147.3M30.1 141.8V145.8M33.6 132V135.3M35 135.1V136.3M37.8 124.1V127.5M39.2 109V115.4M45.5 97.7V107M50.4 82.3V93.7M51.1 75.3V82.3M52.5 56.7V58.5M56.7 41.2V49.1M58.8 60.5V64.8M59.5 53.2V64.8M60.2 53.2V69.6M63.7 37.2V66.3M66.5 41.3V53.9M67.2 36.6V41.3M71.4 49.4V54M77 45.9V71.1M78.4 59.1V60.8M80.5 69.3V71.5M81.2 65.3V69.3M83.3 72.2V78.1M84 72.2V86.6M85.4 78.8V94.3M86.1 78.8V81.8M88.2 92.6V100.3M89.6 84.5V89.2M91 95.2V107.8M92.4 105.2V115M94.5 111.5V112.7M97.3 108.8V129.1M98.7 116.1V129.1M100.8 121.9V135.9M101.5 121.9V125.6M102.2 125.6V144.2M102.9 130V144.2M104.3 135V137.4M105 135V140.7M105.7 140.7V142.4M114.8 145.6V153.4M116.9 152V154.6M118.3 146.7V147.9M121.8 149.1V153.7M123.9 154.3V155.9M124.6 153.9V155.1M125.3 154.6V155.8M126 155V156.2M127.4 153.6V156M129.5 152.7V153.9M130.9 155.4V156.6M131.6 155.4V156.6M133 153.4V155.8M9.8 154.7V155.9M14 153.7V154.9M17.5 152.7V156M24.5 141V146.6M25.9 145.4V146.6M29.4 142.4V146.5M30.1 142.4V145.6M31.5 143.4V146.7M32.9 139.3V143.2M35 133V136.6M42.7 118V121.6M51.8 71.1V99M54.6 72.8V76.7M56.7 63.3V78.1M59.5 64.4V65.6M62.3 34.2V46.6M63.7 39.7V41.4M65.1 29.6V66.7M72.8 40.2V65.7M76.3 44V69.1M79.1 45.4V57.3M81.2 48.9V73.4M82.6 57V68M89.6 91.5V100.2M91 86.3V103.2M93.1 87.1V95.9M95.9 98.3V107.6M96.6 98.3V109.7M99.4 121.3V122.5M101.5 122V128.9M102.9 126.5V129.6M107.8 136.7V140.5M111.3 138.2V152.8M114.8 152.4V153.8M116.9 146.9V154.2M118.3 145.9V153.8M120.4 148V154.1M122.5 155.4V156.6M124.6 153V154.2M125.3 154.1V155.7M126.7 152.3V156M127.4 152.3V155.9M128.8 154.8V156M132.3 154V156M133.7 155.4V156.6M135.1 155.3V156.5M15.2 152.5V155.4M20.8 146.3V156M22.2 148.4V152.8M25 152.3V154.4M27.1 142.1V146.8M28.5 143.3V144.5M29.2 143.6V145.7M29.9 139.1V145.7M32 138.1V140.4M39 113.9V122.3M40.4 121.4V123.1M41.8 111.2V114.1M44.6 102.5V112.4M48.8 76V91.7M52.3 70.3V83.6M53 70.3V71.6M53.7 71.6V74.1M54.4 74.1V79.5M57.2 54.3V64.4M57.9 54.3V65.3M59.3 40V71.4M63.5 45.4V49.4M64.2 31.3V49.4M69.1 36.7V65.9M69.8 29.2V65.9M71.2 30V43.5M71.9 30V61.3M72.6 57.5V61.3M74 57.6V61.3M76.1 40.1V71.6M77.5 49.7V65.8M82.4 67.5V76.6M86.6 73.1V79.3M87.3 73.6V79.3M88.7 99.7V100.9M89.4 100.1V102.4M90.1 102.2V103.4M92.2 100.7V107.9M94.3 109.7V115.6M95 115.6V118.1M95.7 118.1V125.1M100.6 118.9V130.5M109.7 144.9V148.5M110.4 139.4V148.5M111.1 139.4V154.5M113.2 147.8V149M113.9 148.5V151.5M116 147.7V148.9M117.4 150V151.2M118.1 148.4V151M120.9 150.5V155.1M123 152.9V156M125.1 152.6V155.6M130 153.9V155.6M130.7 155.2V156.4M133.5 155.4V156.6M15.9 153.5V155.5M16.6 153.4V154.6M17.3 150.2V154.5M19.4 152.9V154.2M25 145.3V152.5M29.9 142.2V143.4M30.6 139.3V142.5M32.7 133.9V142.1M35.5 134V140.2M39.7 122.7V128.8M42.5 125.4V129.8M43.9 115.8V119.5M48.1 95.1V115.2M55.8 63.6V93.2M64.2 51.8V60M64.9 59V60.2M70.5 47.1V61M71.2 47.6V61M72.6 28.3V40.3M76.1 32V55.6M78.2 53V58.7M88 84.4V87.8M88.7 69.7V87.8M90.8 89.7V97.2M91.5 89.7V102.1M98.5 112V113.8M101.3 118.6V132.5M106.2 129.1V134.2M112.5 146.4V147.6M113.9 143.9V152.5M114.6 152V153.2M115.3 149.3V152.6M120.2 147.7V156M123 147.8V156M127.2 151.2V154.4M130.7 154.9V156.1" stroke="#000" stroke-opacity="0.6" stroke-width="1.4" fill="none"/>
<path d="M1 117.3V120.8M7.3 85.9V88.8M15.7 41.8V46.3M17.1 45.5V61.9M19.9 57V58.3M20.6 38.4V57M23.4 61.7V77.7M29 95V107.2M31.8 118.6V119.8M32.5 119.5V128.9M36 149.9V151.2M37.4 138.6V143.7M38.1 141.8V143.7M40.2 155V156.2M42.3 155.2V156.4M53.5 155.4V156.6M54.2 155.4V156.6M55.6 154.2V155.4M56.3 154.9V156.1M2.4 118.3V136M17.1 35.7V55.1M19.2 42.4V50.4M31.8 91.1V105.1M32.5 105.1V113.5M46.5 154.6V156M51.4 151.8V153M29.6 154.9V156.1M31 154.8V156M33.1 151.3V155.4M38.7 129.2V134.8M40.8 131.4V133M46.4 133.3V136.5M51.3 141.1V144.6M56.2 146.1V148M56.9 146.1V150.4M61.8 150.6V152.3M65.3 154.1V155.3M67.4 153.9V156M69.5 154.6V156M70.2 155.4V156.6M70.9 155.4V156.6M71.6 155.4V156.6M72.3 154.4V156M73.7 153.8V156M37.3 141V152.9M47.8 133.7V137.2M49.2 138.2V140.3M51.3 140.2V141.4M58.3 145.1V146.3M66 152V153.2M68.1 155.4V156.6M10.5 152.1V156M11.2 155.2V156.4M12.6 152.5V153.7M15.4 153.4V154.6M16.8 153.5V156M18.2 148.1V151.4M21.7 147.7V150.6M22.4 143.2V150.6M23.1 143.2V153.2M25.2 146.4V147.9M27.3 134.7V143.1M32.2 132.4V137.3M36.4 123.8V131M37.1 123.3V124.5M39.9 111.2V115.4M40.6 102.7V111.2M42 102.4V118.7M44.1 103V115.2M47.6 79.1V93M48.3 84.8V93M49.7 87.2V93.7M53.2 58.5V73.2M63 31.8V66.3M64.4 37.2V50.2M67.9 26.6V36.6M69.3 48V54.9M74.2 49.5V69.4M74.9 49.5V68.8M75.6 55.8V68.8M79.1 59.1V64.3M88.9 84.5V100.3M91.7 105.2V107.8M93.1 115V118.3M100.1 122.8V135.9M109.9 146.8V150.3M112 143.4V149.9M113.4 147.5V151.2M116.2 147.2V152M117.6 147.1V154.6M119 147.5V153.8M119.7 150V153.8M123.2 154.3V155.9M126.7 155.1V156.3M135.8 153.4V156M137.9 153.4V154.9M11.2 151.3V153.7M16.1 154.2V156M21 148.2V149.4M21.7 148.5V150M23.1 154.3V155.5M28 139.4V149.2M33.6 127.4V139.3M35.7 129.5V136.6M53.9 76.7V86.9M55.3 72.8V81.5M57.4 78.1V80M58.8 45.4V65.1M69.3 38.8V64.6M70 42.9V64.6M72.1 33.9V65.7M83.3 68V70.7M84.7 65.2V74.2M86.1 75.7V85.1M86.8 75.7V96.3M90.3 91.5V103.2M92.4 87.1V107.3M98 114.8V119.8M108.5 136.7V149.2M129.5 151.5V154.8M130.9 151.3V154.7M16.6 153.3V154.6M17.3 153.3V154.6M18 154.6V156M20.1 154.6V156M21.5 146.3V148.4M22.9 152.3V153.5M24.3 144.9V154.4M36.2 125.2V141.3M36.9 125.2V132.3M37.6 131.5V132.7M38.3 122.3V131.9M50.9 76.1V82.8M51.6 82.6V83.8M55.1 63.1V79.5M56.5 48.1V64.4M58.6 40V65.3M60 61V71.4M62.8 45.4V49.4M64.9 31.3V32.7M65.6 32.7V34.4M66.3 34.4V66.2M67.7 45.4V56.9M73.3 57.5V61.3M75.4 60.2V71.6M78.9 48V76.8M80.3 75.1V79.9M81 75.1V79.1M81.7 76.6V79.1M83.8 66.1V73.9M85.9 69.6V73.1M91.5 94.7V100.7M93.6 97.7V109.7M96.4 119.3V125.1M106.9 141.7V149.9M107.6 141.7V150.4M108.3 150.4V152.2M109 144.9V152.2M114.6 151.5V156M116.7 148.5V150.3M118.8 148.3V149.5M124.4 152.6V154.8M128.6 151.6V155.7M132.8 152.2V156M23.6 154.2V156M28.5 143.4V151.2M31.3 139.3V145.3M39 128.8V130.9M41.8 125.4V128.7M48.8 94.3V95.5M50.9 98.9V109.4M57.2 68.7V78.9M74 35.9V65.6M83.8 69.4V72.6M90.1 80.3V97.2M92.2 92.6V102.1M92.9 92.6V110.9M95 100.2V102.8M110.4 144.5V148.5M119.5 145.8V156M125.1 150.5V151.7" stroke="#000" stroke-opacity="0.85" stroke-width="1.4" fill="none"/>
<path d="M0 0H155.0V156.0H0Z" stroke="#333" stroke-width="1.05" fill="none"/>
<text x="0.6" y="-1.2" font-family="Liberation Mono, monospace" font-weight="bold" font-size="4.6" fill="#222" textLength="42.3" lengthAdjust="spacingAndGlyphs">SINGLE PARAMETER</text>
<text x="2.3" y="162.2" font-family="Liberation Mono, monospace" font-weight="bold" font-size="5" fill="#222" text-anchor="middle">1</text>
<text x="37.0" y="162.2" font-family="Liberation Mono, monospace" font-weight="bold" font-size="5" fill="#222" text-anchor="middle">1</text>
<text x="76.0" y="162.2" font-family="Liberation Mono, monospace" font-weight="bold" font-size="5" fill="#222" text-anchor="middle">10</text>
<text x="115.0" y="162.2" font-family="Liberation Mono, monospace" font-weight="bold" font-size="5" fill="#222" text-anchor="middle">100</text>
<text x="148.6" y="162.2" font-family="Liberation Mono, monospace" font-weight="bold" font-size="5" fill="#222" text-anchor="middle">1000</text>
<text transform="translate(-2.2 2.3) rotate(-90)" font-family="Liberation Mono, monospace" font-weight="bold" font-size="4.6" fill="#444" text-anchor="middle">20</text>
<text transform="translate(-2.2 39.0) rotate(-90)" font-family="Liberation Mono, monospace" font-weight="bold" font-size="4.6" fill="#444" text-anchor="middle">15</text>
<text transform="translate(-2.2 77.0) rotate(-90)" font-family="Liberation Mono, monospace" font-weight="bold" font-size="4.6" fill="#444" text-anchor="middle">10</text>
<text transform="translate(-2.2 115.5) rotate(-90)" font-family="Liberation Mono, monospace" font-weight="bold" font-size="4.6" fill="#444" text-anchor="middle">5</text>
<rect x="-5.2" y="153.4" width="2.2" height="1.4" fill="#111"/>
</g>
</svg></body></html>
